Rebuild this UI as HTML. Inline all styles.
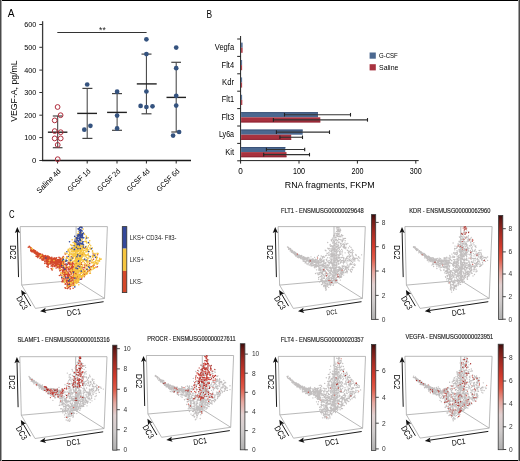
<!DOCTYPE html><html><head><meta charset="utf-8"><style>html,body{margin:0;padding:0;background:#fff;overflow:hidden}svg{display:block;will-change:transform}text{font-family:"Liberation Sans",sans-serif}</style></head><body><svg width="520" height="461" viewBox="0 0 520 461"><rect x="0" y="0" width="520" height="461" fill="#fff"/>
<text x="7.80" y="17.00" font-size="11" textLength="6.8" lengthAdjust="spacingAndGlyphs">A</text>
<line x1="42.60" y1="21.20" x2="42.60" y2="160.60" stroke="#3a3a3a" stroke-width="1.3"/>
<line x1="39.30" y1="160.50" x2="42.60" y2="160.50" stroke="#333" stroke-width="1"/>
<text x="36.30" y="163.20" font-size="7.8" text-anchor="end">0</text>
<line x1="39.30" y1="137.60" x2="42.60" y2="137.60" stroke="#333" stroke-width="1"/>
<text x="36.30" y="140.30" font-size="7.8" text-anchor="end" textLength="12.1" lengthAdjust="spacingAndGlyphs">100</text>
<line x1="39.30" y1="115.20" x2="42.60" y2="115.20" stroke="#333" stroke-width="1"/>
<text x="36.30" y="117.90" font-size="7.8" text-anchor="end" textLength="12.1" lengthAdjust="spacingAndGlyphs">200</text>
<line x1="39.30" y1="92.50" x2="42.60" y2="92.50" stroke="#333" stroke-width="1"/>
<text x="36.30" y="95.20" font-size="7.8" text-anchor="end" textLength="12.1" lengthAdjust="spacingAndGlyphs">300</text>
<line x1="39.30" y1="70.10" x2="42.60" y2="70.10" stroke="#333" stroke-width="1"/>
<text x="36.30" y="72.80" font-size="7.8" text-anchor="end" textLength="12.1" lengthAdjust="spacingAndGlyphs">400</text>
<line x1="39.30" y1="47.30" x2="42.60" y2="47.30" stroke="#333" stroke-width="1"/>
<text x="36.30" y="50.00" font-size="7.8" text-anchor="end" textLength="12.1" lengthAdjust="spacingAndGlyphs">500</text>
<line x1="39.30" y1="24.50" x2="42.60" y2="24.50" stroke="#333" stroke-width="1"/>
<text x="36.30" y="27.20" font-size="7.8" text-anchor="end" textLength="12.1" lengthAdjust="spacingAndGlyphs">600</text>
<line x1="42.00" y1="160.50" x2="191.00" y2="160.50" stroke="#1a1a1a" stroke-width="1.4"/>
<line x1="57.60" y1="160.60" x2="57.60" y2="163.50" stroke="#222" stroke-width="1"/>
<text x="61.30" y="171.80" font-size="7.6" text-anchor="end" transform="rotate(-45 61.30 171.80)" textLength="31" lengthAdjust="spacingAndGlyphs">Saline 4d</text>
<line x1="87.20" y1="160.60" x2="87.20" y2="163.50" stroke="#222" stroke-width="1"/>
<text x="90.90" y="171.80" font-size="7.6" text-anchor="end" transform="rotate(-45 90.90 171.80)" textLength="28.8" lengthAdjust="spacingAndGlyphs">GCSF 1d</text>
<line x1="117.00" y1="160.60" x2="117.00" y2="163.50" stroke="#222" stroke-width="1"/>
<text x="120.70" y="171.80" font-size="7.6" text-anchor="end" transform="rotate(-45 120.70 171.80)" textLength="28.8" lengthAdjust="spacingAndGlyphs">GCSF 2d</text>
<line x1="146.40" y1="160.60" x2="146.40" y2="163.50" stroke="#222" stroke-width="1"/>
<text x="150.10" y="171.80" font-size="7.6" text-anchor="end" transform="rotate(-45 150.10 171.80)" textLength="28.8" lengthAdjust="spacingAndGlyphs">GCSF 4d</text>
<line x1="176.20" y1="160.60" x2="176.20" y2="163.50" stroke="#222" stroke-width="1"/>
<text x="179.90" y="171.80" font-size="7.6" text-anchor="end" transform="rotate(-45 179.90 171.80)" textLength="28.8" lengthAdjust="spacingAndGlyphs">GCSF 6d</text>
<text x="16.90" y="121.80" font-size="9.5" transform="rotate(-90 16.90 121.80)" textLength="61.5" lengthAdjust="spacingAndGlyphs">VEGF-A, pg/mL</text>
<line x1="57.30" y1="32.50" x2="146.60" y2="32.50" stroke="#333" stroke-width="1"/>
<text x="102.40" y="32.90" font-size="8.5" text-anchor="middle" fill="#222">**</text>
<line x1="57.70" y1="116.00" x2="57.70" y2="147.70" stroke="#3a3a3a" stroke-width="1.0"/>
<line x1="47.90" y1="132.20" x2="67.40" y2="132.20" stroke="#222" stroke-width="1.4"/>
<line x1="52.80" y1="116.00" x2="62.50" y2="116.00" stroke="#444" stroke-width="1.2"/>
<line x1="52.80" y1="147.70" x2="62.50" y2="147.70" stroke="#444" stroke-width="1.2"/>
<line x1="87.20" y1="88.40" x2="87.20" y2="138.40" stroke="#3a3a3a" stroke-width="1.0"/>
<line x1="77.20" y1="113.40" x2="97.00" y2="113.40" stroke="#222" stroke-width="1.4"/>
<line x1="82.40" y1="88.40" x2="92.40" y2="88.40" stroke="#444" stroke-width="1.2"/>
<line x1="82.40" y1="138.40" x2="92.40" y2="138.40" stroke="#444" stroke-width="1.2"/>
<line x1="117.10" y1="93.60" x2="117.10" y2="130.30" stroke="#3a3a3a" stroke-width="1.0"/>
<line x1="107.10" y1="112.40" x2="126.90" y2="112.40" stroke="#222" stroke-width="1.4"/>
<line x1="112.00" y1="93.60" x2="122.00" y2="93.60" stroke="#444" stroke-width="1.2"/>
<line x1="112.00" y1="130.30" x2="122.00" y2="130.30" stroke="#444" stroke-width="1.2"/>
<line x1="146.40" y1="54.10" x2="146.40" y2="113.80" stroke="#3a3a3a" stroke-width="1.0"/>
<line x1="136.80" y1="83.90" x2="156.70" y2="83.90" stroke="#222" stroke-width="1.4"/>
<line x1="141.50" y1="54.10" x2="151.50" y2="54.10" stroke="#444" stroke-width="1.2"/>
<line x1="141.50" y1="113.80" x2="151.50" y2="113.80" stroke="#444" stroke-width="1.2"/>
<line x1="176.20" y1="62.30" x2="176.20" y2="132.00" stroke="#3a3a3a" stroke-width="1.0"/>
<line x1="166.50" y1="97.40" x2="186.00" y2="97.40" stroke="#222" stroke-width="1.4"/>
<line x1="171.30" y1="62.30" x2="181.00" y2="62.30" stroke="#444" stroke-width="1.2"/>
<line x1="171.30" y1="132.00" x2="181.00" y2="132.00" stroke="#444" stroke-width="1.2"/>
<circle cx="57.6" cy="107.0" r="2.4" fill="none" stroke="#b02c3c" stroke-width="1"/>
<circle cx="60.6" cy="115.2" r="2.4" fill="none" stroke="#b02c3c" stroke-width="1"/>
<circle cx="54.7" cy="120.4" r="2.4" fill="none" stroke="#b02c3c" stroke-width="1"/>
<circle cx="54.7" cy="131.1" r="2.4" fill="none" stroke="#b02c3c" stroke-width="1"/>
<circle cx="60.7" cy="132.2" r="2.4" fill="none" stroke="#b02c3c" stroke-width="1"/>
<circle cx="54.7" cy="138.4" r="2.4" fill="none" stroke="#b02c3c" stroke-width="1"/>
<circle cx="60.7" cy="138.4" r="2.4" fill="none" stroke="#b02c3c" stroke-width="1"/>
<circle cx="57.7" cy="144.9" r="2.4" fill="none" stroke="#b02c3c" stroke-width="1"/>
<circle cx="57.7" cy="159.2" r="2.4" fill="none" stroke="#b02c3c" stroke-width="1"/>
<circle cx="87.2" cy="84.5" r="2.35" fill="#35537f"/>
<circle cx="90.4" cy="125.8" r="2.35" fill="#35537f"/>
<circle cx="84.3" cy="129.7" r="2.35" fill="#35537f"/>
<circle cx="117.1" cy="91.7" r="2.35" fill="#35537f"/>
<circle cx="117.1" cy="115.6" r="2.35" fill="#35537f"/>
<circle cx="117.1" cy="128.4" r="2.35" fill="#35537f"/>
<circle cx="146.4" cy="39.3" r="2.35" fill="#35537f"/>
<circle cx="146.4" cy="54.1" r="2.35" fill="#35537f"/>
<circle cx="146.4" cy="91.5" r="2.35" fill="#35537f"/>
<circle cx="140.6" cy="105.9" r="2.35" fill="#35537f"/>
<circle cx="146.4" cy="107.0" r="2.35" fill="#35537f"/>
<circle cx="152.5" cy="106.3" r="2.35" fill="#35537f"/>
<circle cx="176.2" cy="47.6" r="2.35" fill="#35537f"/>
<circle cx="176.2" cy="68.2" r="2.35" fill="#35537f"/>
<circle cx="176.2" cy="95.8" r="2.35" fill="#35537f"/>
<circle cx="176.2" cy="105.6" r="2.35" fill="#35537f"/>
<circle cx="179.1" cy="132.0" r="2.35" fill="#35537f"/>
<circle cx="173.1" cy="135.6" r="2.35" fill="#35537f"/>
<text x="206.60" y="17.60" font-size="11" textLength="5.6" lengthAdjust="spacingAndGlyphs">B</text>
<line x1="240.60" y1="36.00" x2="240.60" y2="161.00" stroke="#222" stroke-width="1"/>
<line x1="237.20" y1="39.00" x2="240.60" y2="39.00" stroke="#222" stroke-width="1"/>
<line x1="237.20" y1="56.40" x2="240.60" y2="56.40" stroke="#222" stroke-width="1"/>
<line x1="237.20" y1="73.80" x2="240.60" y2="73.80" stroke="#222" stroke-width="1"/>
<line x1="237.20" y1="91.20" x2="240.60" y2="91.20" stroke="#222" stroke-width="1"/>
<line x1="237.20" y1="108.60" x2="240.60" y2="108.60" stroke="#222" stroke-width="1"/>
<line x1="237.20" y1="126.00" x2="240.60" y2="126.00" stroke="#222" stroke-width="1"/>
<line x1="237.20" y1="143.40" x2="240.60" y2="143.40" stroke="#222" stroke-width="1"/>
<line x1="237.20" y1="160.80" x2="240.60" y2="160.80" stroke="#222" stroke-width="1"/>
<line x1="240.60" y1="160.60" x2="418.70" y2="160.60" stroke="#222" stroke-width="1"/>
<line x1="240.60" y1="160.60" x2="240.60" y2="163.60" stroke="#222" stroke-width="1"/>
<text x="240.60" y="174.40" font-size="8.2" text-anchor="middle">0</text>
<line x1="299.00" y1="160.60" x2="299.00" y2="163.60" stroke="#222" stroke-width="1"/>
<text x="299.00" y="174.40" font-size="8.2" text-anchor="middle" textLength="12.0" lengthAdjust="spacingAndGlyphs">100</text>
<line x1="357.40" y1="160.60" x2="357.40" y2="163.60" stroke="#222" stroke-width="1"/>
<text x="357.40" y="174.40" font-size="8.2" text-anchor="middle" textLength="12.0" lengthAdjust="spacingAndGlyphs">200</text>
<line x1="415.80" y1="160.60" x2="415.80" y2="163.60" stroke="#222" stroke-width="1"/>
<text x="415.80" y="174.40" font-size="8.2" text-anchor="middle" textLength="12.0" lengthAdjust="spacingAndGlyphs">300</text>
<text x="284.80" y="187.90" font-size="9.5" textLength="89.8" lengthAdjust="spacingAndGlyphs">RNA fragments, FKPM</text>
<text x="234.10" y="50.20" font-size="8.2" text-anchor="end" textLength="19.3" lengthAdjust="spacingAndGlyphs">Vegfa</text>
<rect x="241.1" y="42.60" width="1.5" height="5.1" fill="#4b6890"/>
<rect x="241.1" y="47.70" width="1.5" height="5.1" fill="#a8323f"/>
<text x="234.10" y="67.60" font-size="8.2" text-anchor="end" textLength="12.5" lengthAdjust="spacingAndGlyphs">Flt4</text>
<rect x="241.1" y="60.00" width="1.0" height="5.1" fill="#4b6890"/>
<rect x="241.1" y="65.10" width="1.0" height="5.1" fill="#a8323f"/>
<text x="234.10" y="85.00" font-size="8.2" text-anchor="end" textLength="12.0" lengthAdjust="spacingAndGlyphs">Kdr</text>
<rect x="241.1" y="77.40" width="1.0" height="5.1" fill="#4b6890"/>
<rect x="241.1" y="82.50" width="1.0" height="5.1" fill="#a8323f"/>
<text x="234.10" y="102.40" font-size="8.2" text-anchor="end" textLength="12.3" lengthAdjust="spacingAndGlyphs">Flt1</text>
<rect x="241.1" y="94.80" width="1.0" height="5.1" fill="#4b6890"/>
<rect x="241.1" y="99.90" width="1.2" height="5.1" fill="#a8323f"/>
<text x="234.10" y="119.80" font-size="8.2" text-anchor="end" textLength="12.6" lengthAdjust="spacingAndGlyphs">Flt3</text>
<rect x="241.1" y="112.20" width="76.90" height="5.1" fill="#4b6890"/>
<rect x="241.1" y="112.20" width="76.90" height="0.9" fill="#3a5276"/>
<rect x="241.1" y="117.30" width="79.20" height="5.1" fill="#a8323f"/>
<rect x="241.1" y="121.50" width="79.20" height="0.9" fill="#8c2232"/>
<line x1="284.50" y1="114.75" x2="350.50" y2="114.75" stroke="#333" stroke-width="1.1"/>
<line x1="284.50" y1="112.95" x2="284.50" y2="116.55" stroke="#222" stroke-width="1.1"/>
<line x1="350.50" y1="112.95" x2="350.50" y2="116.55" stroke="#222" stroke-width="1.1"/>
<line x1="273.40" y1="119.85" x2="367.50" y2="119.85" stroke="#333" stroke-width="1.1"/>
<line x1="273.40" y1="118.05" x2="273.40" y2="121.65" stroke="#222" stroke-width="1.1"/>
<line x1="367.50" y1="118.05" x2="367.50" y2="121.65" stroke="#222" stroke-width="1.1"/>
<text x="234.10" y="137.20" font-size="8.2" text-anchor="end" textLength="15.2" lengthAdjust="spacingAndGlyphs">Ly6a</text>
<rect x="241.1" y="129.60" width="61.60" height="5.1" fill="#4b6890"/>
<rect x="241.1" y="129.60" width="61.60" height="0.9" fill="#3a5276"/>
<rect x="241.1" y="134.70" width="50.10" height="5.1" fill="#a8323f"/>
<rect x="241.1" y="138.90" width="50.10" height="0.9" fill="#8c2232"/>
<line x1="276.40" y1="132.15" x2="329.50" y2="132.15" stroke="#333" stroke-width="1.1"/>
<line x1="276.40" y1="130.35" x2="276.40" y2="133.95" stroke="#222" stroke-width="1.1"/>
<line x1="329.50" y1="130.35" x2="329.50" y2="133.95" stroke="#222" stroke-width="1.1"/>
<line x1="279.90" y1="137.25" x2="302.50" y2="137.25" stroke="#333" stroke-width="1.1"/>
<line x1="279.90" y1="135.45" x2="279.90" y2="139.05" stroke="#222" stroke-width="1.1"/>
<line x1="302.50" y1="135.45" x2="302.50" y2="139.05" stroke="#222" stroke-width="1.1"/>
<text x="234.10" y="154.60" font-size="8.2" text-anchor="end" textLength="8.9" lengthAdjust="spacingAndGlyphs">Kit</text>
<rect x="241.1" y="147.00" width="44.20" height="5.1" fill="#4b6890"/>
<rect x="241.1" y="147.00" width="44.20" height="0.9" fill="#3a5276"/>
<rect x="241.1" y="152.10" width="45.40" height="5.1" fill="#a8323f"/>
<rect x="241.1" y="156.30" width="45.40" height="0.9" fill="#8c2232"/>
<line x1="266.40" y1="149.55" x2="304.70" y2="149.55" stroke="#333" stroke-width="1.1"/>
<line x1="266.40" y1="147.75" x2="266.40" y2="151.35" stroke="#222" stroke-width="1.1"/>
<line x1="304.70" y1="147.75" x2="304.70" y2="151.35" stroke="#222" stroke-width="1.1"/>
<line x1="263.70" y1="154.65" x2="309.50" y2="154.65" stroke="#333" stroke-width="1.1"/>
<line x1="263.70" y1="152.85" x2="263.70" y2="156.45" stroke="#222" stroke-width="1.1"/>
<line x1="309.50" y1="152.85" x2="309.50" y2="156.45" stroke="#222" stroke-width="1.1"/>
<rect x="369.6" y="52.5" width="6.2" height="6.2" fill="#4b6890"/>
<rect x="369.6" y="64.2" width="6.2" height="6.2" fill="#a8323f"/>
<text x="379.00" y="58.30" font-size="7.8" textLength="18.8" lengthAdjust="spacingAndGlyphs">G-CSF</text>
<text x="379.00" y="69.90" font-size="7.8" textLength="19.4" lengthAdjust="spacingAndGlyphs">Saline</text>
<text x="9.00" y="218.20" font-size="11" textLength="5.6" lengthAdjust="spacingAndGlyphs">C</text>
<defs><linearGradient id="cm" x1="0" y1="1" x2="0" y2="0"><stop offset="0" stop-color="#b0b0b0"/><stop offset="0.18" stop-color="#d0cccc"/><stop offset="0.33" stop-color="#e2d2d2"/><stop offset="0.45" stop-color="#e6a8a0"/><stop offset="0.58" stop-color="#e05a48"/><stop offset="0.7" stop-color="#d23a2c"/><stop offset="0.84" stop-color="#a02a22"/><stop offset="0.95" stop-color="#6a1a16"/><stop offset="1" stop-color="#3a0c0c"/></linearGradient></defs>
<line x1="20.20" y1="226.60" x2="107.40" y2="226.60" stroke="#a2a2a2" stroke-width="0.75"/>
<line x1="20.20" y1="226.60" x2="21.70" y2="285.10" stroke="#a2a2a2" stroke-width="0.75"/>
<line x1="76.10" y1="226.60" x2="76.10" y2="280.30" stroke="#a2a2a2" stroke-width="0.75"/>
<line x1="107.40" y1="226.60" x2="104.50" y2="298.40" stroke="#a2a2a2" stroke-width="0.75"/>
<line x1="21.70" y1="285.10" x2="75.90" y2="280.30" stroke="#a2a2a2" stroke-width="0.75"/>
<line x1="75.90" y1="280.30" x2="104.50" y2="298.40" stroke="#a2a2a2" stroke-width="0.75"/>
<line x1="21.70" y1="285.10" x2="35.40" y2="308.40" stroke="#a2a2a2" stroke-width="0.75"/>
<line x1="35.40" y1="308.40" x2="104.50" y2="298.40" stroke="#a2a2a2" stroke-width="0.75"/>
<line x1="18.50" y1="277.10" x2="17.41" y2="231.50" stroke="#1a1a1a" stroke-width="1.0"/>
<path d="M17.30 227.00L20.04 232.94L17.41 231.70L14.84 233.06Z" fill="#111"/>
<line x1="30.70" y1="306.10" x2="23.48" y2="293.78" stroke="#1a1a1a" stroke-width="1.0"/>
<path d="M21.20 289.90L26.48 293.76L23.58 293.95L21.99 296.39Z" fill="#111"/>
<line x1="103.60" y1="301.70" x2="44.55" y2="310.53" stroke="#1a1a1a" stroke-width="1.0"/>
<path d="M40.10 311.20L45.65 307.74L44.75 310.50L46.42 312.88Z" fill="#111"/>
<text x="9.55" y="252.30" font-size="8.2" text-anchor="middle" transform="rotate(90 9.55 252.30)" textLength="14.1" lengthAdjust="spacingAndGlyphs">DC2</text>
<text x="19.61" y="304.36" font-size="8.4" text-anchor="middle" transform="rotate(59 19.61 304.36)" textLength="14.3" lengthAdjust="spacingAndGlyphs">DC3</text>
<text x="74.34" y="314.95" font-size="8.0" text-anchor="middle" transform="rotate(-8.7 74.34 314.95)" textLength="14.1" lengthAdjust="spacingAndGlyphs">DC1</text>
<path d="M83.7 269.8h0M74.2 272.8h0M48.4 257.9h0M83.5 275.1h0M50.4 261.6h0M68.5 274.7h0M59.0 259.8h0M75.0 265.1h0M42.3 256.9h0M66.6 273.8h0M87.3 272.5h0M84.8 266.0h0M34.8 251.9h0M44.2 257.6h0M32.1 252.0h0M72.1 276.4h0M65.1 276.9h0M51.7 260.8h0M52.0 265.4h0M75.6 265.8h0M33.5 251.7h0M51.0 259.3h0M40.9 257.3h0M41.7 257.5h0M56.7 262.5h0M66.7 280.3h0M78.4 277.6h0M65.7 288.2h0M83.8 272.0h0M34.0 251.9h0M51.0 258.5h0M69.9 274.9h0M74.1 282.2h0M37.0 252.1h0M83.7 271.7h0M70.2 284.8h0M62.4 257.7h0M77.1 261.6h0M72.2 264.5h0M64.8 273.2h0M38.9 255.0h0M69.8 284.4h0M49.0 261.6h0M89.5 269.5h0M51.8 262.2h0M73.9 263.9h0M51.0 261.8h0M36.2 254.4h0M92.7 266.1h0M34.2 251.2h0M45.1 258.1h0M73.1 288.3h0M81.6 262.7h0M39.0 254.7h0M78.3 279.1h0M64.8 264.4h0M43.1 260.2h0M31.1 247.9h0M55.5 262.9h0M82.0 246.6h0M40.7 256.1h0M58.7 267.0h0M41.7 256.1h0M34.8 251.2h0M59.3 264.3h0M47.4 262.9h0M63.2 256.6h0M57.5 267.4h0M57.7 263.4h0M77.9 282.4h0M57.4 265.4h0M52.2 264.6h0M34.2 250.4h0M78.0 278.9h0M46.5 256.5h0M94.1 265.1h0M67.9 282.7h0M50.0 262.7h0M73.2 277.0h0M43.3 259.1h0M56.2 261.5h0M50.1 263.4h0M73.3 285.2h0M71.0 263.9h0M52.1 269.9h0M39.4 254.6h0M50.8 258.5h0M59.5 261.7h0M74.3 281.6h0M46.8 260.9h0M65.0 270.8h0M30.4 247.3h0M68.3 285.2h0M32.6 251.0h0M81.4 276.1h0M75.6 264.0h0M69.0 274.4h0M71.5 264.3h0M67.9 280.9h0M79.9 270.6h0M45.7 256.6h0M60.5 264.5h0M65.9 276.7h0M68.5 277.2h0M54.9 257.7h0M39.4 253.5h0M72.4 277.7h0M72.5 268.9h0M47.8 257.2h0M71.7 276.9h0M47.6 259.0h0M60.7 265.5h0M62.2 261.4h0M68.3 270.0h0M56.4 261.6h0M68.9 269.1h0M71.4 256.7h0M42.0 255.8h0M71.2 284.8h0M72.3 282.4h0M80.6 249.9h0M50.3 257.9h0M73.0 254.4h0M50.2 257.7h0M70.9 269.6h0M51.5 262.0h0M62.2 267.6h0M60.8 262.4h0M71.3 280.0h0M57.6 261.2h0M64.5 277.2h0M50.4 259.7h0M36.6 253.0h0M44.2 256.4h0M74.1 268.5h0M39.5 254.7h0M69.7 264.8h0M46.9 266.5h0M73.2 278.4h0M47.7 260.1h0M49.9 263.4h0M69.8 281.3h0M59.1 268.8h0M56.1 268.0h0M65.3 268.5h0M60.8 274.3h0M48.0 264.9h0M65.0 279.2h0M50.6 260.5h0M40.7 255.1h0M60.2 262.5h0M56.7 257.8h0M30.5 247.8h0M31.6 249.7h0M52.1 264.7h0M53.1 261.8h0M62.0 260.0h0M50.8 261.3h0M74.6 267.5h0M54.2 265.3h0M84.6 267.6h0M63.6 269.1h0M59.9 260.7h0M57.3 266.5h0M70.1 276.2h0M58.8 259.6h0M53.5 262.0h0M91.0 266.5h0M76.4 281.4h0M64.6 282.5h0M45.6 255.6h0M52.2 270.0h0M49.1 260.3h0M61.1 259.7h0M65.2 254.1h0M62.9 258.3h0M65.2 270.5h0M35.7 252.3h0M73.5 279.4h0M46.6 261.3h0M72.8 279.7h0M67.2 285.2h0M40.7 254.2h0M64.8 275.5h0M74.5 271.6h0M57.0 264.8h0M40.8 255.6h0M47.8 257.6h0M60.6 265.1h0M48.7 257.6h0M55.2 265.2h0M48.2 267.3h0M76.0 273.3h0M75.0 275.4h0M52.8 261.0h0M63.8 262.8h0M55.1 260.7h0M47.5 260.0h0M72.7 283.5h0M55.0 262.6h0M77.5 263.5h0M56.0 261.0h0M73.9 271.8h0M38.9 256.2h0M62.6 270.4h0M79.3 264.3h0M78.3 264.9h0M41.5 256.6h0M63.5 265.5h0M76.7 276.9h0M71.2 281.6h0M73.0 285.1h0M79.4 263.5h0M60.3 264.3h0M45.9 257.7h0M31.0 249.2h0M44.1 259.6h0M50.5 259.3h0M75.2 280.5h0M46.6 259.4h0M36.7 253.3h0M52.1 260.4h0M52.0 261.9h0M62.4 266.5h0M46.2 258.4h0M76.4 282.6h0M65.1 267.4h0M61.5 265.9h0M42.1 254.3h0M38.8 253.7h0M63.7 272.9h0M29.3 246.3h0M68.3 279.1h0M87.3 268.9h0M47.8 262.1h0M43.6 257.3h0M65.6 274.7h0M91.9 262.2h0M65.2 284.2h0M72.0 277.3h0M50.6 261.8h0M74.2 267.7h0M48.5 261.7h0M40.4 255.2h0M44.9 258.1h0M93.3 266.2h0M39.3 253.7h0M70.2 271.2h0M72.4 267.8h0M62.8 266.8h0M56.5 262.2h0M60.4 258.9h0M48.4 260.7h0M52.5 261.6h0M58.8 264.0h0M55.1 263.4h0M43.9 258.1h0M52.7 263.0h0M60.5 265.3h0M43.6 259.7h0M59.3 265.5h0M71.2 272.5h0M71.7 269.9h0M53.1 264.3h0M49.8 260.1h0M44.6 256.2h0M68.1 274.7h0M76.1 276.6h0M73.5 283.8h0M61.8 263.4h0M62.6 259.2h0M51.9 259.7h0M71.3 264.7h0M39.9 254.5h0M67.3 267.4h0M55.0 260.2h0M66.0 280.9h0M48.8 260.5h0M79.6 264.6h0M75.6 281.8h0M61.5 259.1h0M96.2 257.5h0M69.0 274.7h0M60.3 263.2h0M70.5 281.4h0M78.2 271.2h0M72.2 271.0h0M71.0 279.3h0M33.4 250.3h0M76.2 263.2h0M54.4 265.4h0M51.1 260.0h0M73.4 277.0h0M55.9 263.0h0M50.3 259.9h0M72.9 271.6h0M64.6 274.2h0M64.3 273.6h0M64.9 275.7h0M81.5 272.2h0M57.8 265.0h0M42.1 257.5h0M69.1 279.7h0M81.8 277.9h0M75.0 274.4h0M78.9 255.8h0M63.3 270.2h0M55.6 258.9h0M57.7 265.6h0M46.1 256.1h0M55.0 265.6h0M50.2 258.8h0M66.0 268.2h0M53.1 260.6h0M37.4 252.9h0M33.8 251.7h0M74.5 264.8h0M37.4 253.4h0M44.6 257.7h0M53.5 264.4h0M30.8 248.3h0M31.0 248.0h0M83.4 274.7h0M63.1 259.3h0M59.2 262.5h0M68.0 284.9h0M65.9 272.0h0M73.9 277.6h0M41.7 259.1h0M77.6 275.4h0M53.8 260.0h0M90.0 269.6h0M74.5 278.0h0M73.6 274.9h0M49.9 258.8h0M69.5 281.4h0M53.4 259.9h0M37.9 257.6h0M60.3 264.1h0M81.4 267.0h0M40.2 255.6h0M57.9 265.8h0M60.3 268.9h0M67.0 272.5h0M80.0 271.1h0M65.0 287.8h0M86.9 272.5h0M72.4 266.7h0M71.7 279.9h0M70.1 272.0h0M39.8 255.6h0M74.1 267.3h0M40.5 256.8h0M67.2 286.3h0M60.8 269.5h0M48.3 258.5h0M70.4 274.2h0M69.5 275.3h0M48.7 262.5h0M41.1 256.3h0M54.7 258.3h0M74.0 278.3h0M32.0 249.9h0M46.6 262.9h0M75.9 270.7h0M78.4 265.8h0M63.7 261.6h0M38.5 253.6h0M77.8 272.3h0M41.3 256.6h0M33.7 250.7h0M79.9 274.5h0M66.7 280.0h0M66.4 272.5h0M69.4 263.3h0M46.3 261.3h0M64.4 279.9h0M68.5 282.1h0M77.5 268.8h0M55.5 265.9h0M89.9 269.6h0M49.4 257.3h0M35.8 251.9h0M60.4 260.0h0M72.7 271.3h0M32.1 250.0h0M61.2 267.2h0M63.0 267.8h0M72.8 270.7h0M44.0 259.1h0M63.6 261.4h0M37.7 256.8h0M53.7 264.4h0M53.7 260.0h0M70.4 270.8h0M47.2 260.1h0M59.4 275.5h0M69.5 283.4h0M68.9 267.3h0M71.5 266.3h0M49.5 260.5h0M51.8 265.6h0M43.4 258.2h0M84.5 248.2h0M86.3 265.0h0M72.9 270.7h0M75.7 274.7h0M48.5 263.6h0M41.8 257.6h0M66.2 267.7h0M30.9 247.9h0M45.1 263.0h0M58.3 264.6h0M73.1 270.4h0M67.8 275.8h0M64.3 269.3h0M44.8 263.5h0M62.5 271.5h0M49.2 256.8h0M66.7 282.2h0M48.3 261.3h0M40.8 257.4h0M63.0 281.1h0M51.1 266.1h0M62.1 264.8h0M53.8 264.4h0M54.5 266.4h0M81.7 254.6h0M69.2 266.7h0M69.9 264.4h0M71.5 274.5h0M61.3 263.0h0M43.2 257.0h0M75.7 263.6h0M74.9 281.6h0M35.5 250.8h0M67.7 277.3h0M81.3 264.5h0M45.0 255.8h0M47.4 258.9h0M65.8 267.9h0M31.4 249.0h0M67.5 280.6h0M50.4 262.2h0M69.5 286.4h0M93.2 253.9h0M68.0 276.7h0M57.0 264.4h0M61.3 265.6h0M40.3 254.7h0M44.1 258.0h0M66.4 270.7h0M30.7 250.3h0M56.3 262.0h0M46.1 258.1h0M54.3 266.2h0M57.8 259.9h0M52.2 258.9h0M53.2 262.1h0M87.8 271.1h0M63.4 261.5h0M31.4 251.2h0M81.5 279.2h0M69.9 285.7h0M61.9 278.7h0M54.4 258.2h0M40.5 255.6h0M75.7 258.1h0M61.1 266.9h0M66.7 267.4h0M70.2 288.9h0M75.4 276.0h0M34.8 253.0h0M76.8 274.2h0M74.7 274.4h0M63.3 267.7h0M48.2 261.8h0M62.4 281.0h0M40.1 254.8h0M63.7 261.4h0M72.5 263.8h0M76.8 271.8h0M41.6 254.6h0M44.3 257.6h0M67.4 264.6h0M45.6 258.1h0M77.7 261.5h0M70.6 286.5h0M62.0 264.5h0M73.9 281.9h0M58.2 261.1h0M73.7 273.2h0M73.3 279.1h0M45.7 257.3h0M51.3 260.3h0M72.7 277.7h0M50.5 264.0h0M60.7 266.8h0M52.8 261.6h0M57.2 262.9h0M70.3 285.2h0M31.2 248.8h0M76.2 280.0h0M69.5 276.0h0M59.5 266.3h0M63.7 274.8h0M70.9 265.8h0M40.3 258.0h0M37.5 254.1h0M51.8 257.4h0M48.3 260.0h0M62.8 273.7h0M62.5 266.9h0M62.4 267.3h0M89.7 263.7h0M68.3 262.3h0M78.1 274.7h0M87.7 271.7h0M37.0 256.6h0M75.5 274.8h0M66.3 281.6h0M93.9 267.9h0M71.7 270.1h0M63.0 271.5h0M55.6 261.8h0M79.0 275.0h0M70.6 285.9h0M64.0 276.9h0M67.7 283.1h0M64.3 268.5h0M59.5 266.6h0M54.1 258.9h0M49.2 259.6h0M71.0 278.1h0M68.4 284.8h0M28.3 247.2h0M61.4 260.7h0M64.9 271.9h0M83.2 272.0h0M91.5 266.7h0M70.7 278.7h0M68.5 269.4h0M71.9 285.3h0M95.9 267.3h0M62.7 280.2h0M93.5 259.3h0M70.4 261.9h0M58.2 260.6h0M57.4 267.5h0M61.9 264.8h0M61.5 261.8h0M75.5 265.8h0M71.0 268.5h0M48.1 257.5h0M40.3 255.4h0M65.3 264.1h0M65.4 274.0h0M36.8 254.4h0M68.1 272.8h0M68.1 283.0h0M52.5 260.8h0M54.5 265.9h0M42.3 258.2h0M47.3 258.3h0M61.1 264.7h0M53.5 264.7h0M76.6 256.3h0M45.8 258.6h0M70.1 271.8h0M50.4 263.3h0M60.0 258.2h0M42.2 256.1h0M89.7 263.3h0M42.9 255.0h0M40.0 258.5h0M57.8 261.6h0M59.0 257.4h0M63.5 266.0h0M36.1 256.3h0M76.6 270.6h0M57.3 260.2h0M57.4 259.8h0M55.8 260.4h0M77.0 266.6h0M50.8 260.9h0M31.2 248.1h0M69.7 269.7h0M72.8 280.1h0M84.2 276.8h0M59.7 270.8h0M45.1 258.0h0M86.1 273.6h0M68.0 271.9h0M43.8 258.5h0M54.4 260.9h0M48.2 262.8h0M49.3 258.0h0M52.5 264.4h0M44.8 261.4h0M45.8 260.0h0M57.1 263.6h0M50.0 260.8h0M51.5 259.9h0M62.5 272.6h0M68.1 272.3h0M87.0 265.9h0M68.3 280.9h0M56.5 261.1h0M82.5 254.6h0M44.0 257.7h0M63.4 261.6h0M40.3 257.4h0M54.2 259.6h0M52.0 260.3h0M60.6 261.0h0M48.2 259.9h0M48.5 261.3h0M73.7 281.6h0M41.5 254.8h0M83.8 270.3h0M46.7 256.8h0M33.2 251.4h0M55.2 260.2h0M61.6 266.2h0M79.6 277.6h0M48.6 263.6h0M75.6 271.8h0M44.1 255.9h0M49.7 262.1h0M42.6 256.3h0M34.4 253.1h0M62.0 260.8h0M83.9 273.8h0M33.8 249.8h0M45.6 258.4h0M42.1 260.1h0M71.4 265.5h0M51.4 263.0h0M68.2 279.4h0M34.6 250.8h0M75.7 275.0h0M46.9 264.1h0M84.9 271.3h0M46.0 259.6h0M47.1 259.8h0M68.4 273.4h0M72.7 265.5h0M67.8 276.6h0M49.9 260.0h0M71.6 271.8h0M41.3 256.4h0M53.3 258.4h0M51.4 259.3h0M91.7 266.8h0M74.2 271.3h0M57.9 264.2h0M69.5 277.8h0M90.7 269.4h0M61.0 264.3h0M36.4 254.2h0M55.7 265.6h0M55.7 264.9h0M58.0 264.2h0M66.3 274.4h0M47.2 264.2h0M68.2 262.6h0M82.7 275.0h0M62.7 264.6h0M52.9 264.9h0M52.7 266.7h0M97.4 266.8h0M47.4 264.7h0M74.0 270.5h0M42.8 258.6h0M38.4 254.5h0M53.9 262.7h0M42.7 259.9h0M46.3 258.9h0M61.9 265.8h0M70.0 262.0h0M73.6 282.7h0M75.9 280.0h0M74.3 268.1h0M40.6 254.5h0M69.8 274.3h0M63.3 270.8h0M40.7 255.0h0M38.9 254.6h0M47.8 259.2h0M67.0 274.1h0M61.8 261.6h0M72.2 270.7h0M68.1 269.1h0M84.5 265.0h0M66.2 269.3h0M41.7 256.1h0M62.5 266.0h0M76.6 261.9h0M62.4 261.9h0M71.7 273.4h0M82.2 267.9h0M74.4 268.0h0M63.5 257.1h0M30.0 247.6h0M37.8 252.5h0M54.5 258.9h0M55.5 261.0h0M65.6 283.9h0M58.6 266.2h0M96.2 262.8h0M59.1 259.8h0M46.5 258.1h0M66.4 265.8h0M62.1 259.9h0M35.5 252.4h0M35.9 253.9h0M73.7 277.8h0M31.7 249.7h0M79.8 264.3h0M63.3 265.3h0M77.0 266.0h0M63.9 276.9h0M57.9 261.1h0M57.1 261.5h0M39.8 255.5h0M48.1 265.8h0M61.9 262.7h0M55.9 260.8h0M53.6 261.0h0M68.1 276.5h0M70.2 270.6h0M78.4 274.9h0M50.4 259.1h0M67.4 288.4h0M84.9 274.6h0M97.0 263.7h0M61.2 261.0h0M65.4 264.8h0M67.2 275.0h0M64.5 276.0h0M63.4 261.9h0M60.3 270.6h0M56.2 260.3h0M63.0 281.8h0M90.1 273.2h0M46.6 263.8h0M76.2 270.8h0M71.2 278.6h0M56.3 258.6h0M72.6 262.9h0M75.3 272.6h0M36.1 253.0h0M48.8 264.5h0M35.2 251.9h0M43.7 256.8h0M58.1 261.8h0M69.0 267.8h0M74.9 251.0h0M83.8 267.7h0M37.8 255.4h0M59.3 260.7h0M78.1 265.6h0M69.6 263.0h0M50.9 261.5h0M69.6 275.3h0M54.2 263.3h0M70.3 282.8h0M58.7 266.0h0M73.4 279.5h0M38.5 254.5h0M51.3 263.2h0M38.4 254.1h0M33.5 251.2h0M66.7 257.0h0M60.1 258.1h0M54.7 262.9h0M67.8 288.4h0M57.3 264.3h0M46.0 257.8h0M40.3 255.9h0M51.2 268.6h0M33.2 250.5h0M58.3 262.8h0M76.1 269.4h0M71.6 276.9h0M61.9 281.7h0M79.4 277.1h0M62.3 270.0h0M54.9 259.4h0M79.0 277.8h0M72.9 262.1h0M78.7 274.4h0M73.4 275.7h0M68.5 278.4h0M30.8 250.9h0M47.9 255.9h0M65.0 269.5h0M51.5 262.7h0M60.7 270.0h0M74.1 270.2h0M38.0 255.3h0M67.1 284.1h0M62.1 277.5h0M71.1 267.6h0M73.2 266.6h0M54.8 262.4h0M56.0 265.8h0M39.2 254.8h0M63.5 278.8h0M49.6 258.3h0M87.0 261.6h0M68.3 275.0h0M62.2 264.0h0M69.8 271.8h0M55.2 262.6h0M64.9 270.4h0M62.5 260.8h0M68.2 263.8h0M89.4 270.4h0M40.2 255.1h0M34.3 251.1h0M45.1 257.9h0M59.7 267.7h0M62.0 266.8h0M73.8 277.9h0M68.9 287.2h0M65.9 271.7h0M44.7 261.3h0M54.4 259.3h0M97.5 254.7h0M60.7 262.8h0M61.4 260.0h0M76.4 278.4h0M71.0 274.0h0M40.2 253.8h0M55.7 263.9h0M63.3 258.5h0M40.7 255.6h0M55.4 263.5h0M81.2 263.7h0M77.5 276.2h0M33.8 252.2h0M86.6 261.6h0M81.5 257.2h0M40.7 255.4h0M46.3 257.9h0M63.6 272.3h0M61.1 275.5h0M66.9 278.5h0M73.7 272.7h0M33.6 250.0h0M63.3 263.9h0M34.8 250.9h0M56.3 262.0h0M73.8 277.2h0M57.8 266.6h0M68.2 269.1h0M65.2 278.3h0M46.6 260.0h0M70.5 268.6h0M40.4 255.4h0M49.8 257.3h0M77.5 277.3h0M90.8 269.3h0M38.0 254.2h0M71.9 283.1h0M70.1 276.4h0M61.3 265.8h0M51.3 262.1h0M55.9 263.6h0M32.5 249.3h0M75.4 277.7h0M68.2 287.4h0M78.4 276.0h0M63.4 264.3h0" stroke="#d4482a" stroke-width="1.6" stroke-linecap="round" fill="none"/>
<path d="M75.7 260.1h0M79.1 263.8h0M88.0 261.1h0M77.0 250.1h0M75.3 246.9h0M72.5 249.3h0M76.3 256.1h0M80.6 235.9h0M73.1 242.6h0M88.4 264.5h0M70.7 283.1h0M89.2 251.5h0M78.2 246.0h0M73.6 270.5h0M87.3 269.6h0M79.5 241.2h0M65.2 266.9h0M82.4 266.3h0M87.4 251.1h0M78.7 247.1h0M77.1 279.5h0M84.6 234.2h0M78.5 268.5h0M79.5 243.7h0M86.7 249.0h0M78.7 259.6h0M89.8 256.0h0M79.7 249.1h0M79.1 251.8h0M75.4 276.4h0M70.4 282.6h0M82.6 266.5h0M77.3 252.0h0M75.3 250.6h0M76.9 247.7h0M87.4 273.8h0M80.3 233.7h0M81.6 250.5h0M77.3 271.2h0M78.4 265.9h0M81.8 255.8h0M87.6 266.5h0M76.3 251.1h0M80.6 273.2h0M75.5 255.3h0M74.6 280.7h0M76.2 251.8h0M69.8 260.1h0M80.6 260.7h0M77.9 257.8h0M73.4 261.3h0M85.6 260.6h0M83.4 275.7h0M77.9 233.7h0M81.2 256.5h0M76.0 248.7h0M77.4 247.2h0M99.7 258.4h0M76.9 250.3h0M71.3 285.1h0M68.8 249.7h0M82.7 270.0h0M78.7 249.7h0M96.8 258.1h0M78.4 255.6h0M75.3 274.8h0M79.2 263.7h0M78.0 248.2h0M75.1 280.1h0M78.3 280.2h0M80.3 257.1h0M82.3 245.4h0M73.9 275.7h0M60.7 273.0h0M80.1 245.8h0M71.5 271.4h0M77.3 261.5h0M78.4 260.5h0M70.0 248.2h0M70.8 244.8h0M76.5 244.1h0M90.9 261.0h0M76.4 276.5h0M84.1 260.8h0M84.8 266.1h0M92.2 247.9h0M80.1 258.1h0M77.0 260.8h0M75.9 272.0h0M89.2 269.2h0M72.2 248.8h0M76.2 276.7h0M92.4 255.7h0M77.1 248.7h0M75.8 275.8h0M89.7 244.3h0M76.9 256.5h0M81.0 246.1h0M42.1 257.8h0M92.5 260.4h0M88.2 255.4h0M95.3 267.5h0M81.3 277.2h0M77.4 235.6h0M60.5 269.2h0M74.9 285.4h0M74.5 274.5h0M84.8 241.5h0M78.3 258.9h0M78.4 270.5h0M82.3 239.8h0M73.0 254.5h0M71.7 259.8h0M78.7 248.3h0M80.0 238.3h0M71.6 254.2h0M85.2 247.9h0M94.4 268.2h0M80.1 265.2h0M72.0 283.1h0M82.0 269.7h0M74.9 250.6h0M71.0 265.4h0M76.6 265.9h0M62.8 260.5h0M78.4 253.8h0M74.3 268.6h0M79.7 246.5h0M86.4 241.4h0M62.4 277.3h0M79.5 268.3h0M78.5 250.8h0M75.9 257.9h0M72.4 276.4h0M80.6 269.1h0M75.7 251.9h0M88.7 266.5h0M83.0 246.8h0M87.3 272.4h0M78.3 264.6h0M80.5 258.1h0M82.3 245.8h0M64.6 277.3h0M92.5 266.7h0M73.2 250.3h0M83.3 248.8h0M79.8 241.7h0M77.9 271.1h0M81.4 277.0h0M80.5 261.7h0M77.1 274.4h0M87.6 259.2h0M72.8 256.2h0M74.4 284.9h0M67.0 253.3h0M90.7 245.8h0M69.7 253.1h0M79.2 261.3h0M82.1 253.3h0M87.6 258.2h0M77.8 260.0h0M65.0 253.0h0M67.4 257.9h0M66.8 272.9h0M81.4 276.0h0M85.8 249.9h0M49.0 262.8h0M83.0 246.7h0M83.3 271.2h0M88.5 245.8h0M85.9 251.9h0M87.8 260.8h0M79.7 246.6h0M82.8 274.2h0M74.9 266.3h0M95.2 254.6h0M97.1 253.4h0M60.9 272.9h0M74.5 261.1h0M74.4 276.4h0M87.3 261.2h0M87.7 250.1h0M78.2 248.4h0M80.8 251.1h0M77.0 278.0h0M73.1 257.8h0M80.4 267.3h0M77.1 254.2h0M91.7 269.7h0M72.0 270.2h0M75.2 259.9h0M72.7 285.8h0M72.2 239.8h0M66.8 253.8h0M79.7 253.6h0M97.4 257.2h0M76.6 267.9h0M52.8 268.8h0M82.4 252.6h0M92.3 257.0h0M78.4 272.0h0M83.6 245.8h0M58.1 265.7h0M76.6 258.0h0M90.4 273.3h0M86.2 236.1h0M82.0 271.7h0M76.6 281.1h0M70.6 270.2h0M89.4 266.3h0M86.9 261.4h0M79.2 279.7h0M80.0 253.6h0M82.0 257.4h0M77.3 264.9h0M88.4 255.7h0M96.4 258.7h0M88.3 237.8h0M78.8 253.8h0M75.6 247.5h0M78.7 253.9h0M74.3 247.4h0M75.4 253.9h0M71.6 245.6h0M85.7 272.3h0M80.5 272.8h0M92.3 256.7h0M70.4 259.1h0M77.9 249.9h0M82.5 246.7h0M78.2 275.9h0M83.3 274.8h0M86.6 274.2h0M78.3 277.7h0M70.5 257.0h0M69.0 259.1h0M96.1 256.6h0M98.0 261.3h0M68.2 250.2h0M79.5 245.0h0M99.5 259.7h0M79.6 246.0h0M78.8 280.7h0M78.2 247.4h0M77.3 254.9h0M63.3 258.2h0M73.1 258.5h0M71.0 259.7h0M75.8 251.1h0M95.3 255.3h0M81.6 258.1h0M77.3 250.7h0M77.3 257.2h0M77.9 259.4h0M66.3 272.8h0M95.5 262.3h0M69.0 260.9h0M62.8 264.6h0M84.9 258.3h0M75.1 270.2h0M96.2 263.6h0M77.7 235.9h0M81.0 238.6h0M68.4 282.6h0M77.8 240.6h0M73.1 253.8h0M81.2 268.6h0M77.5 264.3h0M99.4 260.4h0M76.5 258.0h0M80.7 259.8h0M69.0 250.9h0M85.0 256.3h0M77.8 250.6h0M74.5 267.0h0M75.5 269.0h0M92.6 251.1h0M90.6 268.3h0M82.5 275.9h0M69.6 278.7h0M61.7 273.0h0M78.2 259.5h0M74.9 241.8h0M68.0 250.4h0M75.7 261.6h0M74.5 269.6h0M96.4 260.0h0M93.4 264.1h0M49.4 260.8h0M79.7 248.9h0M74.0 248.8h0M80.4 257.1h0M49.9 260.0h0M76.5 270.6h0M76.5 250.8h0M80.0 259.2h0M78.5 279.5h0M74.8 274.4h0M80.8 247.1h0M76.8 258.4h0M65.4 281.3h0M80.8 243.9h0M61.8 260.1h0M89.0 265.2h0M69.5 254.3h0M84.3 272.9h0M76.3 260.4h0M74.9 272.5h0M73.6 256.0h0M78.2 249.5h0M73.6 251.9h0M74.9 256.3h0M64.3 282.4h0M77.7 263.5h0M70.6 249.5h0M96.9 257.6h0M77.6 273.0h0M75.4 245.1h0M86.1 246.4h0M70.9 274.2h0M40.2 255.9h0M62.7 263.1h0M77.8 261.6h0M77.4 253.6h0M86.8 260.9h0M86.7 249.6h0M77.8 264.9h0M84.3 254.5h0M96.7 262.7h0M76.2 283.5h0M81.1 270.4h0M81.1 254.4h0M75.8 270.0h0M75.5 244.2h0M70.6 249.5h0M98.1 263.1h0M83.0 261.4h0M81.9 266.5h0M92.8 255.6h0M73.4 254.8h0M75.0 262.3h0M80.2 253.7h0M79.3 252.3h0M78.9 274.9h0M75.4 281.2h0M87.0 260.9h0M96.1 262.3h0M54.0 260.6h0M86.4 236.9h0M78.7 278.2h0M81.1 263.3h0M69.5 255.3h0M83.5 261.2h0M91.5 262.7h0M85.8 238.9h0M74.6 277.7h0M71.2 262.4h0M68.5 285.7h0M63.5 257.7h0M74.7 266.6h0M76.4 254.3h0M87.1 251.6h0M75.1 265.4h0M78.0 251.1h0M74.5 260.5h0M93.8 268.0h0M82.7 252.6h0M76.1 259.2h0M81.1 267.7h0M88.3 253.7h0M87.8 250.8h0M74.3 273.1h0M74.8 276.1h0M74.7 248.7h0M87.2 273.0h0M101.2 259.1h0M78.5 276.6h0M67.0 257.5h0M75.4 250.3h0M79.7 261.6h0M83.1 229.1h0M79.7 247.3h0M74.8 270.8h0M78.8 284.8h0M82.2 277.0h0M71.2 269.8h0M70.5 259.1h0M88.8 271.4h0M92.4 257.1h0M77.7 248.7h0M86.0 255.9h0M31.4 248.1h0M84.5 253.2h0M75.0 243.5h0M75.3 244.3h0M59.9 269.3h0M80.6 272.6h0M86.3 248.5h0M79.7 271.1h0M71.2 253.6h0M79.4 250.1h0M72.0 255.0h0M77.6 258.6h0M76.3 256.8h0M74.4 251.6h0M83.0 253.5h0M88.1 254.7h0M80.1 264.3h0M80.0 253.5h0M75.1 269.4h0M76.7 244.7h0M93.8 262.3h0M65.1 261.7h0M80.2 274.9h0M81.5 273.1h0M80.5 270.0h0M88.6 255.9h0M85.7 270.8h0M63.9 260.7h0M76.1 272.1h0M93.0 257.1h0M62.4 275.2h0M83.0 272.2h0M83.5 253.2h0M69.4 257.0h0M79.0 258.6h0M80.5 249.4h0M84.9 256.0h0M89.7 240.8h0M81.8 241.2h0M82.9 255.0h0M88.0 262.5h0M75.9 260.9h0M74.6 243.4h0M76.2 266.2h0M74.7 263.6h0M69.9 252.4h0M81.2 271.1h0M70.7 260.9h0M79.2 277.5h0M75.7 252.6h0M78.4 277.9h0M80.2 275.9h0M76.9 265.0h0M78.7 255.8h0M91.0 267.5h0M78.7 244.4h0M77.5 250.1h0M83.3 256.0h0M89.2 266.3h0M73.3 268.8h0M80.2 261.2h0M74.7 253.5h0M81.5 251.1h0M75.1 247.2h0M75.2 275.6h0M78.1 248.5h0M73.6 257.3h0M76.1 248.2h0M87.3 248.3h0M95.2 255.1h0M74.6 267.7h0M77.0 256.6h0M77.7 264.7h0M78.9 256.1h0M93.2 268.9h0M97.4 264.1h0M80.3 253.4h0M83.2 250.6h0M76.7 243.5h0M86.0 268.3h0M72.9 261.2h0M84.3 270.6h0M78.4 231.8h0M69.0 259.6h0M77.2 273.2h0M75.8 251.3h0M68.4 285.8h0M77.0 262.5h0M80.9 260.5h0M72.8 247.4h0M72.1 259.1h0M81.3 248.2h0M62.5 266.0h0M73.3 254.0h0M74.9 282.1h0M85.4 263.9h0M79.6 249.6h0M83.2 259.9h0M70.1 254.8h0M75.8 271.8h0M80.1 250.1h0M80.2 245.9h0M66.6 258.6h0M89.6 261.4h0M87.2 268.3h0M79.7 246.0h0M73.0 245.2h0M74.5 283.9h0M77.3 269.8h0M78.0 246.7h0M75.7 275.3h0M80.4 252.7h0M82.8 264.8h0M77.1 251.1h0M80.5 255.1h0M95.7 260.9h0M83.9 233.6h0M76.8 271.1h0M86.7 260.7h0M88.1 249.5h0M69.7 277.1h0M78.6 235.8h0M83.2 247.6h0M84.4 262.8h0M78.9 259.0h0M82.3 249.3h0M76.1 242.9h0M86.0 255.4h0M74.8 277.2h0M75.6 260.5h0M69.9 285.3h0M72.2 272.8h0M70.0 248.4h0M76.1 261.4h0M72.9 250.7h0M78.2 246.7h0M77.7 280.9h0M82.1 256.6h0M73.3 250.8h0M100.4 259.2h0M77.4 245.0h0M79.8 268.5h0M71.2 251.1h0M68.3 249.3h0M94.6 263.9h0M83.9 253.1h0M78.7 247.7h0M92.5 251.9h0M82.9 255.2h0M78.4 270.2h0M94.2 256.1h0M75.4 275.5h0M81.4 259.0h0M81.4 251.8h0M98.1 253.6h0M75.2 238.5h0M76.7 275.4h0M66.1 261.3h0M92.5 250.8h0M79.4 257.8h0M65.4 261.1h0M74.8 255.8h0M66.8 272.6h0M75.8 275.8h0M86.0 269.0h0M78.7 272.5h0M76.5 276.2h0M81.6 232.9h0M80.7 251.9h0M80.3 245.8h0M97.9 260.6h0M87.9 262.4h0M95.1 253.6h0M67.2 287.0h0M78.4 247.3h0M75.8 246.4h0M80.1 241.2h0M70.8 265.6h0M90.0 247.9h0M76.0 264.1h0M64.7 280.1h0M79.2 245.8h0M93.6 253.2h0M87.4 273.1h0M76.7 280.4h0M74.2 242.0h0M63.0 264.7h0M90.2 249.2h0M72.1 252.1h0M79.9 276.9h0M76.4 264.7h0M77.5 270.7h0M77.9 281.9h0M41.5 255.0h0M76.7 245.6h0M84.6 250.4h0M93.8 264.2h0M79.8 255.6h0M85.5 264.0h0M77.5 247.2h0M79.1 267.2h0M89.3 265.6h0M84.9 275.6h0M80.5 230.5h0M63.6 273.4h0M78.7 243.7h0M77.4 260.0h0M87.0 260.6h0M80.3 259.9h0M93.7 267.9h0M78.7 255.3h0M76.0 248.4h0M71.4 251.0h0M72.2 282.0h0M87.3 264.0h0M79.7 262.7h0M83.5 252.1h0M63.5 260.3h0M77.8 246.6h0M85.2 241.4h0M88.8 258.1h0M78.0 260.7h0M65.3 271.1h0M81.2 248.2h0M86.2 237.2h0M74.9 254.7h0M79.2 277.1h0M81.6 259.3h0M82.1 255.8h0M69.6 253.6h0M82.2 259.8h0M90.4 271.0h0M63.6 257.5h0M87.4 250.1h0M71.0 279.5h0M80.8 269.3h0M79.7 253.2h0M77.9 249.7h0M76.3 261.8h0M79.8 268.0h0M78.6 269.3h0M73.7 258.2h0M66.2 258.3h0M76.9 271.6h0M78.1 268.4h0M77.9 264.9h0M81.1 226.8h0M86.6 257.5h0M77.5 282.6h0M87.3 268.5h0M71.2 249.6h0M78.1 261.6h0M79.6 257.6h0M82.9 275.8h0M75.9 248.6h0M74.7 244.7h0M80.3 265.8h0M78.2 274.5h0M88.5 243.1h0M73.7 247.9h0M68.4 279.4h0M76.6 282.7h0M90.7 248.9h0M80.7 234.3h0M82.4 248.2h0M82.7 247.8h0M85.6 274.1h0M32.4 249.3h0M88.0 247.0h0M77.1 260.8h0M78.3 233.9h0M78.5 245.8h0M93.5 255.9h0M77.1 271.9h0M99.5 261.2h0M76.7 250.9h0M49.3 260.5h0M85.4 254.7h0M93.0 266.1h0M68.5 266.9h0M82.6 261.4h0M75.0 246.4h0M91.3 259.1h0M73.9 279.3h0M77.7 268.9h0M76.4 237.5h0M86.8 242.9h0M78.9 261.1h0M82.0 259.6h0M94.1 261.9h0M87.1 254.7h0M92.6 262.6h0M68.6 254.9h0M81.1 236.6h0M87.8 266.1h0M82.2 266.2h0M76.5 255.2h0M76.2 240.3h0M77.7 250.6h0M68.9 251.8h0M75.4 264.6h0M73.9 281.8h0M77.4 262.7h0M81.2 249.3h0M76.7 243.4h0M78.5 261.8h0M81.5 248.6h0" stroke="#f6c540" stroke-width="1.6" stroke-linecap="round" fill="none"/>
<path d="M78.7 260.7h0M76.9 256.8h0M78.1 228.9h0M78.3 261.5h0M78.4 229.3h0M77.5 268.6h0M63.6 259.2h0M79.4 235.3h0M82.3 233.9h0M78.1 266.1h0M61.8 265.6h0M80.2 255.9h0M81.2 271.1h0M63.5 267.5h0M77.1 244.7h0M82.3 235.3h0M82.6 243.0h0M77.7 254.9h0M81.8 230.7h0M79.5 239.7h0M78.0 238.2h0M79.4 235.8h0M81.0 237.6h0M77.1 244.8h0M68.1 277.7h0M80.6 229.6h0M69.6 279.5h0M79.3 234.2h0M85.6 247.0h0M80.9 235.6h0M77.0 239.6h0M65.9 277.6h0M91.5 248.7h0M77.9 244.4h0M81.9 227.3h0M80.4 236.1h0M76.0 268.1h0M79.0 240.1h0M80.8 232.2h0M81.8 237.4h0M70.8 260.3h0M77.5 235.3h0M75.8 242.0h0M82.9 244.0h0M79.0 228.5h0M75.0 240.0h0M80.3 239.6h0M79.9 232.7h0M66.1 260.1h0M80.9 229.8h0M79.6 227.6h0M94.3 255.2h0M80.3 231.3h0M81.5 230.5h0M88.5 242.5h0M80.0 242.7h0M80.2 243.8h0M80.4 236.0h0M76.9 240.9h0M79.7 266.8h0M80.6 240.4h0M81.7 244.0h0M79.4 230.7h0M79.9 237.9h0M68.6 280.9h0M74.8 286.9h0M66.9 251.8h0M80.5 231.2h0M79.5 238.7h0M81.3 271.3h0M80.6 231.3h0M80.3 230.9h0M71.9 248.2h0M78.5 243.9h0M77.1 242.7h0M61.7 277.3h0M79.3 229.0h0M79.1 228.9h0M79.3 230.7h0M82.9 241.9h0M76.8 238.6h0M45.9 258.0h0M76.9 238.0h0M62.5 260.2h0M79.0 244.1h0M79.1 238.1h0M90.2 256.7h0M74.8 278.1h0M79.5 245.5h0M68.2 256.5h0M74.2 249.6h0M86.1 260.0h0M83.4 233.1h0M72.2 258.0h0M80.8 227.1h0M88.6 266.7h0M88.6 251.6h0M74.1 245.7h0M81.2 235.6h0M95.5 257.3h0M80.4 279.2h0M78.3 234.7h0M67.0 260.8h0M78.9 236.1h0M80.3 248.6h0M69.1 284.6h0M82.0 227.9h0M83.4 247.1h0M80.5 236.5h0M79.9 232.5h0M77.7 236.7h0M80.7 240.8h0M81.6 243.4h0M64.7 269.4h0M81.6 227.6h0M89.9 260.8h0M74.6 249.3h0M79.6 256.0h0M77.1 239.3h0M79.5 237.9h0M77.1 243.7h0M82.9 234.0h0M77.9 248.8h0M83.1 241.7h0M78.7 244.2h0M78.6 242.0h0M81.8 234.0h0M77.2 240.0h0M80.1 240.2h0M80.5 233.8h0M83.5 244.7h0M82.0 234.5h0M89.5 267.7h0M74.9 241.4h0M82.6 236.1h0M86.9 269.5h0M79.5 244.5h0M78.4 240.9h0M82.1 236.0h0M74.7 236.4h0M79.9 235.0h0M77.9 244.5h0M84.4 259.2h0M78.9 236.0h0M80.1 236.3h0M65.7 261.3h0M80.4 230.0h0M76.4 247.3h0M83.8 237.7h0M76.2 237.9h0M69.5 241.7h0M86.8 238.1h0M73.5 272.4h0M82.8 237.9h0M66.8 264.1h0M81.8 234.0h0M82.2 231.0h0" stroke="#34489a" stroke-width="1.6" stroke-linecap="round" fill="none"/>
<rect x="122.3" y="226.6" width="4.5" height="22" fill="#34489a"/>
<rect x="122.3" y="248.6" width="4.5" height="22.3" fill="#f6c540"/>
<rect x="122.3" y="270.9" width="4.5" height="21.7" fill="#d4482a"/>
<rect x="122.3" y="226.6" width="4.5" height="66" fill="none" stroke="#333" stroke-width="0.8"/>
<text x="129.80" y="239.60" font-size="6.3" textLength="46.8" lengthAdjust="spacingAndGlyphs" fill="#222">LKS+ CD34- Flt3-</text>
<text x="129.80" y="261.80" font-size="6.3" textLength="13.9" lengthAdjust="spacingAndGlyphs" fill="#222">LKS+</text>
<text x="129.80" y="283.80" font-size="6.3" textLength="13.0" lengthAdjust="spacingAndGlyphs" fill="#222">LKS-</text>
<line x1="278.10" y1="226.60" x2="365.30" y2="226.60" stroke="#a2a2a2" stroke-width="0.75"/>
<line x1="278.10" y1="226.60" x2="279.60" y2="285.10" stroke="#a2a2a2" stroke-width="0.75"/>
<line x1="334.00" y1="226.60" x2="334.00" y2="280.30" stroke="#a2a2a2" stroke-width="0.75"/>
<line x1="365.30" y1="226.60" x2="362.40" y2="298.40" stroke="#a2a2a2" stroke-width="0.75"/>
<line x1="279.60" y1="285.10" x2="333.80" y2="280.30" stroke="#a2a2a2" stroke-width="0.75"/>
<line x1="333.80" y1="280.30" x2="362.40" y2="298.40" stroke="#a2a2a2" stroke-width="0.75"/>
<line x1="279.60" y1="285.10" x2="293.30" y2="308.40" stroke="#a2a2a2" stroke-width="0.75"/>
<line x1="293.30" y1="308.40" x2="362.40" y2="298.40" stroke="#a2a2a2" stroke-width="0.75"/>
<line x1="276.40" y1="277.10" x2="275.31" y2="231.50" stroke="#1a1a1a" stroke-width="1.0"/>
<path d="M275.20 227.00L277.94 232.94L275.31 231.70L272.74 233.06Z" fill="#111"/>
<line x1="288.60" y1="306.10" x2="281.38" y2="293.78" stroke="#1a1a1a" stroke-width="1.0"/>
<path d="M279.10 289.90L284.38 293.76L281.48 293.95L279.89 296.39Z" fill="#111"/>
<line x1="361.50" y1="301.70" x2="302.45" y2="310.53" stroke="#1a1a1a" stroke-width="1.0"/>
<path d="M298.00 311.20L303.55 307.74L302.65 310.50L304.32 312.88Z" fill="#111"/>
<text x="267.45" y="252.30" font-size="8.2" text-anchor="middle" transform="rotate(90 267.45 252.30)" textLength="14.3" lengthAdjust="spacingAndGlyphs">DC2</text>
<text x="277.51" y="304.36" font-size="8.4" text-anchor="middle" transform="rotate(59 277.51 304.36)" textLength="14.3" lengthAdjust="spacingAndGlyphs">DC3</text>
<text x="332.16" y="314.45" font-size="6.6" text-anchor="middle" transform="rotate(-8.7 332.16 314.45)" textLength="11.1" lengthAdjust="spacingAndGlyphs">DC1</text>
<text x="280.90" y="213.00" font-size="6.6" textLength="82.8" lengthAdjust="spacingAndGlyphs" fill="#222" stroke="#222" stroke-width="0.15">FLT1 - ENSMUSG00000029648</text>
<path d="M298.1 255.6h0M329.2 276.9h0M332.2 258.9h0M344.1 265.9h0M338.4 236.5h0M323.7 270.7h0M318.1 261.8h0M322.1 271.1h0M334.0 279.7h0M340.7 244.7h0M297.2 254.8h0M331.1 246.3h0M342.1 271.0h0M338.6 230.8h0M339.0 255.7h0M295.2 252.3h0M348.8 251.9h0M339.0 266.6h0M321.1 268.9h0M324.8 275.6h0M333.0 264.9h0M316.4 264.8h0M326.8 284.2h0M344.9 244.7h0M342.1 273.5h0M339.7 242.1h0M342.2 241.9h0M348.9 266.5h0M326.2 262.8h0M332.9 265.0h0M297.8 256.2h0M322.4 265.4h0M345.6 267.3h0M326.7 255.1h0M319.4 265.6h0M328.1 261.1h0M327.9 269.9h0M319.7 270.2h0M302.4 258.9h0M351.5 272.0h0M319.9 269.1h0M291.4 251.5h0M337.1 229.6h0M324.6 281.4h0M336.0 237.3h0M308.2 261.1h0M336.4 272.8h0M336.4 249.9h0M300.9 256.6h0M292.8 251.4h0M342.1 236.8h0M335.0 273.4h0M321.7 276.0h0M339.4 260.2h0M325.8 271.7h0M330.8 282.8h0M312.9 265.6h0M353.3 257.4h0M336.4 249.8h0M353.8 264.3h0M296.1 255.8h0M318.8 262.6h0M294.4 251.9h0M329.3 284.1h0M346.6 258.9h0M308.9 260.9h0M343.7 246.7h0M314.9 267.7h0M332.7 272.9h0M351.0 260.6h0M338.0 234.1h0M336.7 257.5h0M327.3 274.9h0M327.6 269.3h0M321.6 280.5h0M327.3 286.5h0M338.6 271.6h0M328.4 255.0h0M306.6 263.8h0M333.6 262.6h0M346.0 247.2h0M303.1 261.0h0M334.3 264.3h0M288.9 249.2h0M331.4 270.9h0M310.9 259.4h0M358.4 256.7h0M318.8 272.8h0M320.5 258.1h0M331.1 259.9h0M323.8 267.9h0M334.7 257.3h0M324.9 271.4h0M320.5 269.0h0M328.8 262.5h0M350.4 260.6h0M336.1 240.7h0M348.0 258.7h0M328.1 267.1h0M317.5 262.9h0M339.8 228.9h0M343.4 262.6h0M313.3 261.7h0M312.8 260.7h0M329.7 262.4h0M305.6 258.0h0M351.1 269.2h0M306.9 259.9h0M318.6 277.5h0M321.6 275.5h0M333.8 275.1h0M332.2 281.5h0M328.5 276.4h0M341.7 240.8h0M348.8 265.9h0M340.4 262.0h0M315.1 260.5h0M300.2 257.3h0M315.6 265.3h0M342.2 252.8h0M336.3 265.6h0M342.4 269.4h0M310.3 265.1h0M297.4 257.2h0M352.6 262.5h0M335.0 262.4h0M297.4 255.0h0M332.8 282.6h0M332.9 250.8h0M334.6 260.2h0M318.7 279.2h0M339.4 276.7h0M302.3 257.1h0M298.1 256.6h0M338.4 245.0h0M335.7 259.6h0M339.6 231.7h0M299.1 256.8h0M336.1 250.7h0M343.3 262.4h0M338.3 267.3h0M327.4 280.7h0M331.5 268.6h0M337.6 269.7h0M334.4 241.4h0M325.9 290.2h0M326.5 265.6h0M338.7 267.5h0M319.9 260.2h0M325.2 250.1h0M339.4 249.3h0M332.1 283.6h0M339.0 274.4h0M322.9 277.0h0M322.2 265.1h0M338.4 234.5h0M316.6 261.7h0M311.8 265.3h0M336.5 231.4h0M337.3 248.7h0M333.7 248.6h0M336.4 254.9h0M330.1 280.4h0M307.7 260.1h0M294.3 254.1h0M323.8 270.3h0M329.4 263.2h0M313.3 261.2h0M331.6 262.5h0M319.5 269.8h0M345.3 247.6h0M336.1 268.6h0M318.7 262.2h0M339.1 230.1h0M344.8 260.7h0M334.8 251.4h0M311.2 264.1h0M353.8 267.5h0M352.0 264.2h0M342.4 260.4h0M338.4 250.8h0M338.6 248.6h0M335.8 248.1h0M335.0 272.0h0M352.4 252.0h0M334.7 254.4h0M321.9 265.6h0M340.0 276.8h0M332.6 272.7h0M337.3 272.5h0M335.7 255.1h0M303.3 257.1h0M335.9 270.9h0M310.6 259.5h0M335.4 276.1h0M342.3 267.0h0M333.5 267.8h0M328.5 278.9h0M296.9 255.4h0M342.6 244.3h0M341.5 245.5h0M347.3 256.6h0M331.1 281.0h0M324.1 259.8h0M336.6 263.0h0M308.9 258.9h0M338.7 257.0h0M291.4 252.2h0M329.6 283.6h0M315.1 262.6h0M345.7 266.3h0M325.7 275.0h0M331.0 268.0h0M324.3 266.8h0M359.1 257.8h0M348.8 267.2h0M326.8 266.0h0M335.0 265.5h0M300.6 255.8h0M331.0 282.2h0M305.2 258.4h0M316.4 263.3h0M322.8 268.8h0M340.2 246.6h0M322.8 271.9h0M331.5 267.8h0M350.2 263.5h0M325.7 283.7h0M338.5 242.5h0M318.5 270.0h0M310.5 263.7h0M320.5 270.9h0M352.6 266.9h0M339.8 252.2h0M344.5 238.5h0M298.1 257.0h0M312.6 262.9h0M356.2 255.5h0M331.1 278.9h0M307.9 264.6h0M337.0 279.6h0M290.3 249.8h0M335.6 267.6h0M345.8 258.6h0M303.0 259.8h0M309.6 260.4h0M304.2 261.4h0M337.0 274.0h0M337.9 234.8h0M337.2 246.5h0M324.1 261.2h0M358.0 260.0h0M354.1 258.8h0M343.2 238.8h0M316.9 261.9h0M328.5 265.5h0M322.6 282.7h0M322.3 272.9h0M303.2 260.1h0M324.8 268.2h0M319.8 274.1h0M340.1 235.8h0M348.8 253.3h0M333.0 265.5h0M341.3 274.8h0M314.6 262.4h0M347.6 260.7h0M350.7 255.9h0M341.9 251.6h0M328.1 267.5h0M325.3 267.2h0M336.1 247.6h0M338.8 239.5h0M289.0 248.5h0M304.8 258.9h0M342.2 271.8h0M350.8 271.5h0M298.4 255.3h0M331.2 263.4h0M320.4 262.5h0M337.2 256.9h0M333.2 285.4h0M321.3 261.0h0M327.8 264.8h0M307.1 260.7h0M339.0 251.1h0M340.2 272.7h0M337.9 260.5h0M323.5 264.1h0M309.4 262.5h0M332.8 249.1h0M311.2 262.0h0M330.7 256.7h0M335.5 261.0h0M340.4 243.3h0M338.8 263.7h0M337.3 258.1h0M321.1 262.6h0M323.8 262.3h0M323.2 256.5h0M301.9 258.8h0M337.5 240.3h0M343.4 266.4h0M345.2 267.5h0M329.6 272.4h0M350.5 252.6h0M306.8 257.8h0M343.2 262.5h0M335.8 282.1h0M322.7 264.7h0M326.8 267.4h0M328.2 266.0h0M323.3 275.2h0M332.0 253.1h0M342.0 269.5h0M327.7 274.8h0M323.2 271.5h0M331.2 260.6h0M337.4 261.2h0M329.8 270.3h0M331.9 252.1h0M340.0 239.4h0M303.4 256.7h0M328.7 287.3h0M338.6 257.7h0M333.9 277.3h0M348.0 256.5h0M308.6 261.5h0M312.9 262.6h0M338.1 263.7h0M297.8 254.3h0M301.5 256.1h0M332.8 268.2h0M290.1 248.4h0M351.4 261.4h0M338.8 229.3h0M292.8 250.8h0M334.5 235.4h0M341.8 235.4h0M318.6 266.5h0M336.7 253.0h0M352.2 249.9h0M355.3 264.9h0M311.9 264.2h0M315.6 259.6h0M334.8 272.3h0M297.3 254.3h0M321.6 273.4h0M319.7 259.4h0M325.5 266.0h0M338.2 246.2h0M340.7 269.4h0M308.0 263.4h0M320.3 272.5h0M330.9 277.3h0M333.9 254.1h0M327.8 248.2h0M353.6 259.4h0M322.2 274.4h0M331.2 281.3h0M343.6 258.6h0M329.3 255.1h0M336.7 271.2h0M345.4 269.1h0M339.0 274.6h0M334.6 245.6h0M338.2 231.8h0M339.4 275.0h0M322.0 271.1h0M346.0 271.6h0M334.3 265.8h0M319.0 263.0h0M295.9 254.0h0M313.7 260.5h0M325.8 281.9h0M292.1 251.2h0M326.7 269.4h0M336.8 259.1h0M327.0 253.2h0M336.2 265.1h0M337.4 261.0h0M349.0 259.9h0M332.1 263.2h0M324.6 270.2h0M336.8 235.5h0M332.4 276.5h0M328.8 252.9h0M345.9 248.8h0M340.5 263.1h0M346.7 257.9h0M343.7 259.0h0M299.8 256.8h0M326.2 281.4h0M352.2 255.7h0M313.0 259.6h0M335.0 271.3h0M316.6 261.7h0M334.6 233.8h0M340.4 270.0h0M328.1 278.2h0M335.2 256.2h0M349.8 256.5h0M325.5 288.2h0M333.1 249.8h0M296.9 254.0h0M336.1 239.6h0M338.9 230.9h0M341.4 273.9h0M324.4 267.1h0M337.1 254.7h0M331.9 262.9h0M321.1 280.6h0M319.9 260.1h0M342.5 241.5h0M334.6 282.8h0M339.9 269.8h0M342.6 255.1h0M349.6 251.7h0M330.5 284.5h0M305.1 262.9h0M335.1 273.8h0M329.6 263.1h0M332.1 264.7h0M355.5 258.3h0M333.5 269.8h0M328.9 252.5h0M358.1 260.0h0M332.8 274.7h0M335.5 249.9h0M315.5 264.5h0M335.5 255.6h0M301.1 258.2h0M348.2 250.8h0M337.5 271.8h0M315.5 273.5h0M340.2 275.9h0M354.9 260.9h0M298.5 257.3h0M335.7 247.7h0M330.7 246.1h0M320.7 265.9h0M295.9 254.0h0M334.2 277.6h0M311.2 262.7h0M346.9 267.2h0M289.6 248.3h0M343.9 273.1h0M343.2 238.3h0M332.7 275.9h0M332.2 271.5h0M322.9 280.3h0M328.2 262.3h0M334.0 277.2h0M298.8 257.7h0M294.7 253.6h0M348.2 255.8h0M336.6 267.3h0M313.7 261.1h0M322.0 270.8h0M340.4 236.5h0M329.8 284.5h0M342.3 274.5h0M321.8 259.1h0M336.1 244.0h0M330.7 258.9h0M312.4 261.0h0M335.2 265.4h0M339.2 236.5h0M307.2 258.5h0M344.8 262.2h0M293.8 252.3h0M338.2 247.1h0M338.7 267.2h0M323.1 260.6h0M346.1 261.0h0M315.6 261.4h0M341.5 234.7h0M336.1 243.4h0M334.5 264.3h0M347.4 267.8h0M333.3 246.0h0M335.2 278.0h0M319.7 282.1h0M335.3 268.0h0M341.2 257.8h0M333.6 276.8h0M315.0 266.0h0M343.2 272.2h0M332.2 282.1h0M327.4 269.1h0M352.4 269.7h0M338.0 228.2h0M351.8 249.2h0M332.9 256.8h0M337.1 274.8h0M287.9 247.1h0M347.1 265.8h0M341.7 270.6h0M296.1 253.4h0M318.4 263.7h0M340.4 277.4h0M322.6 269.7h0M333.5 273.1h0M299.4 256.1h0M300.9 258.5h0M334.9 245.8h0M332.8 276.3h0M334.0 270.8h0M330.0 271.9h0M289.9 248.9h0M333.5 240.3h0M356.8 258.2h0M332.7 263.4h0M339.4 277.9h0M319.1 262.0h0M321.8 261.7h0M338.8 261.3h0M315.5 266.5h0M336.8 249.4h0M337.2 245.8h0M313.4 261.6h0M332.6 267.3h0M300.7 258.1h0M336.7 258.9h0M330.8 271.7h0M332.8 242.2h0M297.8 255.9h0M328.4 278.1h0M328.3 262.7h0M338.3 260.4h0M337.1 267.0h0M336.9 271.7h0M318.6 264.2h0M346.9 263.0h0M311.0 263.6h0M337.3 273.7h0M334.5 248.8h0M327.0 264.6h0M311.2 266.1h0M327.7 257.7h0M329.7 281.7h0M332.7 282.3h0M331.6 259.3h0M338.5 276.5h0M329.2 283.0h0M313.9 264.4h0M339.2 233.6h0M322.1 278.4h0M336.4 242.3h0M327.8 283.2h0M334.3 272.3h0M311.3 259.5h0M299.0 256.5h0M336.6 244.1h0M344.4 270.0h0M322.0 274.2h0M316.5 262.2h0M325.3 273.1h0M321.0 260.2h0M295.9 256.0h0M317.1 272.9h0M321.5 259.6h0M346.8 272.0h0M320.1 262.9h0M326.1 287.1h0M311.6 261.4h0M297.2 254.7h0M318.2 274.7h0M334.8 244.4h0M318.1 263.1h0M338.3 231.3h0M324.8 285.0h0M333.0 281.0h0M315.4 262.1h0M355.1 258.4h0M338.8 254.7h0M324.2 282.0h0M339.7 251.6h0M332.4 272.9h0M325.5 280.8h0M326.6 281.5h0M289.6 248.8h0M308.0 260.9h0M333.4 278.4h0M294.5 253.4h0M338.5 234.5h0M324.0 261.0h0M323.2 265.5h0M332.6 246.2h0M307.6 260.1h0M337.9 271.2h0M342.4 250.9h0M337.0 274.7h0M297.2 255.3h0M336.3 269.7h0M287.9 247.2h0M343.8 247.8h0M344.9 248.3h0M345.4 272.6h0M325.5 267.9h0M331.0 248.6h0M332.1 256.1h0M313.8 265.3h0M352.0 259.5h0M340.6 270.2h0M322.1 280.2h0M307.7 259.9h0M322.5 284.0h0M323.8 286.5h0M334.2 254.0h0M332.3 262.1h0M333.1 264.1h0M311.7 261.3h0M352.0 267.8h0M345.2 268.0h0M327.7 274.0h0M341.7 249.4h0M330.1 273.1h0M319.9 259.0h0M335.5 269.1h0M332.4 238.1h0M298.0 254.3h0M344.5 245.3h0M318.1 261.2h0M332.8 254.1h0M303.8 259.9h0M337.5 235.1h0M340.0 267.8h0M333.0 278.1h0M330.6 267.2h0M322.5 282.4h0M330.4 267.1h0M324.7 281.2h0M322.3 256.9h0M341.2 274.5h0M342.0 239.7h0M330.8 284.5h0M338.9 263.6h0M327.8 270.5h0M361.6 254.8h0M321.5 284.6h0M337.9 261.2h0M352.9 260.8h0M288.7 248.2h0M316.6 265.0h0M341.5 272.0h0M325.7 255.7h0M324.9 275.9h0M347.1 272.7h0M310.4 261.2h0M325.7 267.0h0M337.3 251.7h0M336.3 270.0h0M329.0 281.1h0M312.4 264.0h0M340.4 259.3h0M343.3 268.4h0M337.0 244.5h0M321.2 256.0h0M324.0 285.1h0M335.6 251.9h0M344.1 270.8h0M337.1 244.1h0M336.2 278.0h0M312.0 260.6h0M332.9 243.3h0M325.4 264.1h0M341.8 257.4h0M331.5 260.2h0M338.0 246.7h0M332.3 283.0h0M316.8 262.0h0M336.7 277.4h0M288.5 247.4h0M333.0 266.7h0M337.8 236.0h0M340.5 273.7h0M318.0 265.3h0M318.9 267.4h0M336.1 263.1h0M338.8 264.3h0M346.3 267.4h0M340.7 268.6h0M349.5 260.0h0M333.8 268.6h0M318.0 260.7h0M329.2 275.9h0M341.9 261.1h0M330.2 262.9h0M305.9 259.5h0M330.9 278.2h0M334.9 254.0h0M318.5 261.0h0M295.9 254.3h0M336.6 256.0h0M333.8 260.4h0M288.6 248.0h0M328.4 280.1h0M327.5 284.3h0M332.3 264.2h0M340.8 236.6h0M293.3 252.9h0M323.1 266.5h0M334.7 243.5h0M340.4 254.3h0M310.5 260.9h0M339.9 267.2h0M327.8 270.6h0M337.2 251.1h0M348.5 247.9h0M338.4 238.9h0M317.2 259.4h0M299.0 257.2h0M346.2 243.7h0M315.3 261.3h0M330.2 245.0h0M334.0 276.9h0M307.7 259.6h0M341.2 262.2h0M338.1 229.9h0M338.8 233.3h0M325.4 263.5h0M305.4 259.1h0M333.6 261.0h0M338.3 242.3h0M340.3 272.1h0M322.0 264.7h0M296.5 254.7h0M317.1 263.0h0M337.0 259.9h0M341.6 276.7h0M340.6 230.5h0M294.6 252.2h0M338.3 261.4h0M337.4 249.1h0M343.9 258.3h0M348.3 252.4h0M316.6 262.3h0M343.7 261.5h0M324.5 278.3h0M332.8 276.8h0M334.9 281.1h0M338.0 228.4h0M305.1 257.5h0M313.1 259.5h0M330.9 267.6h0M302.6 258.1h0M320.5 265.5h0M296.1 255.9h0M334.7 262.2h0M327.8 279.4h0M332.6 255.2h0M304.5 259.8h0M310.5 264.0h0M320.1 274.0h0M334.1 272.6h0M343.3 271.1h0M333.2 256.1h0M338.7 273.4h0M334.7 275.5h0M330.1 255.0h0M331.9 278.1h0M331.1 246.3h0M336.3 266.7h0M343.5 239.9h0M333.0 252.9h0M330.4 267.2h0M332.8 263.5h0M340.4 230.8h0M335.4 246.0h0M324.2 277.6h0M331.3 260.5h0M340.5 229.3h0M324.2 281.9h0M333.6 275.3h0M354.5 259.0h0M311.0 256.8h0M344.5 246.4h0M337.1 275.7h0M338.1 269.5h0M335.6 243.5h0M331.6 278.4h0M336.1 274.6h0M292.0 250.3h0M299.4 256.4h0M326.0 289.3h0M339.4 247.7h0M320.8 265.5h0M350.2 250.6h0M328.8 284.9h0M346.6 257.3h0M303.3 257.9h0M338.9 261.0h0M316.0 262.9h0M323.0 265.2h0M302.0 256.0h0M336.1 252.3h0M320.1 270.7h0M324.8 285.6h0M340.3 280.1h0M292.6 251.3h0M310.4 260.3h0M336.4 228.0h0M349.7 246.2h0M343.2 243.7h0M342.8 267.2h0M303.7 259.0h0M341.1 271.6h0M322.5 273.6h0M336.2 279.3h0M330.8 281.9h0M330.7 285.6h0M343.7 275.1h0M307.2 257.5h0M333.5 280.3h0M338.0 277.1h0M340.1 269.1h0M354.3 263.8h0M333.1 254.8h0M331.7 245.6h0M300.6 257.8h0M303.1 257.6h0M319.8 268.6h0M332.4 254.4h0M338.5 257.9h0M341.2 277.3h0M315.3 259.1h0M321.7 278.4h0M339.2 274.3h0M326.6 260.5h0M329.2 264.7h0M312.3 263.1h0M340.3 267.7h0M338.0 241.1h0M333.9 268.0h0M343.1 244.4h0M326.1 286.8h0M348.3 269.0h0M331.0 270.5h0M334.4 250.2h0M331.4 258.8h0M338.4 261.0h0M309.0 262.7h0M339.0 267.7h0M325.8 285.3h0M336.1 268.5h0M331.9 260.3h0M329.3 248.4h0M345.2 267.2h0M348.6 269.5h0M335.6 260.0h0M336.0 273.9h0M292.5 252.2h0M300.0 257.6h0M308.6 260.6h0M316.5 269.8h0M337.3 254.9h0M331.9 255.5h0M319.3 265.6h0M332.0 283.8h0M331.5 269.7h0M330.1 275.4h0M355.8 254.5h0M341.1 254.1h0M332.9 268.4h0M330.2 245.8h0M335.4 237.2h0M339.9 257.3h0M293.6 253.3h0M335.9 238.0h0M344.5 247.9h0M336.9 260.2h0M327.9 269.0h0M336.2 234.1h0M316.3 259.9h0M313.9 265.0h0M339.1 274.8h0M343.5 263.8h0M331.6 251.4h0M316.4 267.0h0M297.3 254.5h0M334.0 235.5h0M324.6 283.1h0M320.2 267.7h0M321.1 269.5h0M330.4 273.9h0M341.2 243.6h0M335.9 272.9h0M344.9 242.8h0M290.8 249.9h0M325.9 287.6h0M296.1 256.4h0M314.0 259.8h0M337.4 233.1h0M302.6 257.7h0M339.6 270.0h0M337.5 260.0h0M329.6 267.3h0M333.6 236.8h0M335.1 271.5h0M337.5 234.9h0M321.2 272.3h0M336.0 246.2h0M333.6 271.0h0M316.9 265.6h0M328.5 248.9h0M326.9 280.6h0M304.4 258.0h0M293.0 251.4h0M337.3 251.8h0M330.9 248.9h0M327.1 283.5h0M299.1 255.3h0M291.7 250.5h0M335.8 279.7h0M334.3 245.2h0M343.1 257.6h0M329.1 278.0h0M332.9 268.4h0M333.3 265.1h0M328.4 276.3h0M321.9 267.2h0M334.3 248.3h0M353.0 250.4h0M294.6 251.9h0M338.6 245.5h0M322.6 258.0h0M321.0 269.5h0M295.7 253.7h0M337.4 233.3h0M295.1 255.0h0M342.4 266.4h0M336.0 279.3h0M327.1 265.5h0M335.3 267.2h0M350.4 256.5h0M332.2 265.8h0M327.1 261.0h0M344.0 266.4h0M336.0 257.8h0M329.7 280.0h0M352.4 253.7h0M323.7 264.1h0M345.4 260.1h0M330.3 253.8h0M342.8 235.4h0M311.0 259.7h0M330.8 267.9h0M332.9 282.6h0M310.4 261.6h0M341.2 275.6h0M335.5 251.5h0M318.6 264.2h0M293.1 251.5h0M305.4 261.8h0M322.4 261.1h0M316.9 260.1h0M322.7 280.2h0M331.8 270.4h0M349.4 254.7h0M336.4 239.6h0M328.7 271.6h0M341.0 277.0h0M331.5 262.0h0M318.7 264.3h0M331.0 254.9h0M339.0 258.0h0M312.7 263.1h0M317.4 262.0h0M316.0 262.2h0M339.1 270.7h0M318.1 260.6h0M295.3 253.0h0M350.2 270.2h0M333.9 259.2h0M311.7 263.5h0M319.0 267.0h0M323.5 278.3h0M335.0 271.4h0M355.9 255.0h0M332.1 259.9h0M357.3 258.4h0M311.0 260.2h0M330.2 244.4h0M343.7 246.2h0M335.3 239.7h0M347.4 271.2h0M326.3 259.4h0M320.5 265.0h0M330.9 251.2h0M325.9 272.9h0M323.9 256.4h0M334.5 279.9h0M308.8 260.7h0M338.5 234.0h0M311.1 261.0h0M306.1 261.7h0M354.2 257.9h0M292.6 251.2h0M316.2 265.6h0M304.9 258.7h0M321.9 273.6h0M350.2 264.6h0M330.9 273.3h0M354.4 265.4h0M290.2 250.9h0M316.4 263.0h0M321.1 269.3h0M320.7 270.5h0M329.7 250.7h0M323.9 266.2h0M301.1 257.6h0M331.8 274.9h0M323.4 281.1h0M311.9 260.2h0M336.0 264.2h0M349.4 257.2h0M333.0 255.2h0M336.8 262.0h0M333.9 258.9h0M292.7 251.8h0M322.8 282.3h0M333.8 249.1h0M320.8 262.2h0M302.4 257.8h0M333.6 235.3h0M333.4 242.1h0M315.1 261.0h0M359.9 258.1h0M333.7 276.1h0M335.0 270.3h0M312.9 260.3h0M325.2 273.6h0M296.0 253.5h0M341.6 260.7h0M351.2 252.5h0M332.1 262.2h0M293.0 251.5h0M350.1 258.9h0M329.2 260.4h0M324.2 257.4h0M344.4 244.5h0M316.1 261.1h0M334.2 255.3h0M296.1 255.2h0M339.1 258.4h0M319.0 268.5h0M330.6 246.3h0M333.2 263.2h0M335.7 258.0h0M312.2 261.4h0M320.2 260.9h0M350.9 264.6h0M332.2 239.5h0M294.8 254.6h0M338.1 242.2h0M330.8 277.6h0M347.4 264.8h0M298.3 254.9h0M345.5 238.4h0M306.0 259.8h0M334.4 251.2h0M309.4 259.9h0M331.8 241.0h0M344.3 245.8h0M317.9 266.2h0M326.8 273.2h0M335.3 272.1h0M331.2 240.0h0M336.8 269.8h0M339.5 269.2h0M331.3 277.4h0M321.9 279.7h0M336.0 237.9h0M320.6 265.5h0M330.9 274.1h0M315.5 265.7h0M337.5 231.0h0M307.8 261.1h0M333.8 258.0h0M306.4 260.7h0M320.9 259.8h0M337.5 280.7h0M300.6 258.6h0M341.7 268.5h0M340.2 236.7h0M328.3 273.8h0M323.8 283.1h0M336.9 259.6h0M334.5 261.6h0M302.1 257.1h0M326.0 279.8h0M343.0 262.5h0M312.7 265.8h0M358.7 256.8h0M292.4 250.8h0M326.2 289.5h0M335.5 274.8h0M326.4 278.3h0M321.3 265.3h0M323.4 260.3h0M318.7 261.0h0M327.2 277.8h0M345.4 259.6h0M330.4 268.8h0M347.9 256.4h0M313.4 260.7h0M334.9 237.1h0M318.3 264.0h0M328.3 280.8h0M338.6 255.6h0M342.4 272.7h0M336.9 250.1h0M308.8 257.4h0M311.0 263.5h0M300.1 255.9h0M330.5 262.3h0M332.8 278.4h0M298.5 255.5h0M339.7 235.8h0M296.0 254.1h0M347.3 250.2h0M290.6 249.9h0M332.7 264.1h0M324.9 281.7h0M323.2 261.7h0M338.0 227.1h0M340.1 253.0h0M326.0 250.7h0M331.7 256.0h0M304.1 257.2h0M324.9 283.0h0M314.9 264.7h0M291.0 250.4h0M338.2 257.8h0M334.9 280.2h0M338.6 242.8h0M313.9 261.7h0M333.9 254.7h0M330.9 281.7h0M334.4 250.0h0M306.2 258.6h0M302.8 259.5h0M304.2 258.2h0M352.3 254.6h0M302.7 259.2h0M331.7 279.7h0M329.6 268.0h0M323.8 274.5h0M325.3 270.9h0M330.4 273.2h0M320.0 276.7h0M342.4 240.5h0M327.1 285.4h0M327.7 242.5h0M359.2 260.9h0M324.7 276.4h0M300.1 256.7h0M338.5 258.0h0M338.2 262.0h0M341.0 260.5h0M328.7 270.1h0M311.3 259.6h0M321.8 259.2h0M331.3 269.5h0M340.4 239.7h0M337.2 227.4h0M301.2 255.6h0M326.3 272.7h0M337.1 247.0h0M332.0 257.1h0M353.7 257.6h0M340.5 268.1h0M332.9 272.9h0M288.5 248.0h0M299.6 255.2h0M307.3 259.5h0M319.1 264.3h0M330.4 272.2h0M317.5 265.1h0M337.6 269.6h0M302.4 258.9h0M339.4 231.0h0M337.5 261.7h0M332.2 247.1h0M341.5 245.9h0M349.9 256.6h0M332.5 250.0h0M330.2 282.2h0M307.3 259.7h0M336.4 252.6h0M317.1 265.5h0M354.9 259.5h0M307.8 258.1h0M337.1 265.0h0M337.8 230.0h0M336.7 246.9h0M347.5 267.6h0M345.8 269.3h0M344.0 272.8h0M335.2 258.4h0M342.1 265.8h0M332.9 246.8h0M319.9 269.3h0M330.5 268.0h0M336.4 257.9h0M336.3 259.7h0M346.6 271.1h0M307.1 258.7h0M323.6 285.3h0M288.6 247.8h0M339.5 255.0h0M292.1 251.2h0M320.1 265.4h0M320.4 260.7h0M326.6 259.5h0M329.0 249.0h0M339.1 227.2h0M314.9 261.5h0M317.4 256.6h0M339.5 253.1h0M332.9 249.6h0M325.7 286.4h0M295.4 253.4h0M342.9 266.0h0M349.2 264.8h0M306.0 260.9h0M296.9 254.1h0M349.0 261.1h0M333.9 260.6h0M313.7 265.0h0M351.0 247.4h0M318.4 255.4h0M331.6 254.2h0M329.0 281.7h0M325.4 280.4h0M309.6 259.1h0M346.5 244.6h0M331.6 256.8h0M309.4 261.5h0M332.4 281.8h0M343.9 258.0h0M299.7 255.7h0M293.0 251.9h0M347.8 243.5h0M320.2 258.8h0M329.7 257.8h0M288.7 249.4h0M346.8 269.0h0M339.8 252.4h0M314.3 262.2h0M328.3 284.9h0M314.4 261.5h0M336.6 235.6h0M330.4 261.6h0M330.4 254.9h0M316.1 263.3h0M290.7 248.8h0M330.2 272.6h0M326.8 283.9h0M332.9 276.9h0M334.4 242.1h0M334.6 269.7h0M315.2 266.1h0M338.6 269.3h0M346.8 271.2h0M315.9 264.4h0M319.6 272.7h0M291.4 250.1h0M324.6 285.4h0M292.3 250.3h0M336.2 253.3h0M346.7 270.6h0M334.9 235.3h0M326.4 268.1h0M320.8 280.3h0M299.4 256.5h0M320.8 260.1h0M338.2 270.2h0M314.2 266.9h0M349.6 254.9h0M295.0 254.6h0M331.5 251.4h0M337.4 269.8h0M339.8 269.1h0M331.0 273.5h0M331.3 250.0h0M336.5 233.8h0M298.5 255.7h0M313.0 263.2h0M323.9 265.5h0M326.0 288.3h0M308.5 257.6h0M321.0 263.0h0M327.5 277.9h0M335.9 251.8h0M353.0 252.3h0M319.1 266.7h0M309.7 260.1h0M343.3 247.4h0M340.3 247.3h0M326.5 276.0h0M334.3 279.8h0M343.5 260.3h0M335.8 267.9h0M320.8 279.5h0M306.0 262.5h0M338.8 270.4h0M307.9 260.1h0M296.7 253.4h0M334.0 247.5h0M324.7 265.4h0M294.3 252.1h0M354.0 260.9h0M299.4 255.2h0M292.7 252.7h0M313.1 259.0h0M344.4 245.1h0M319.1 262.2h0M335.4 239.9h0M329.6 273.8h0M327.1 282.8h0M298.8 255.5h0M346.8 271.0h0M345.2 240.7h0M331.5 278.5h0M329.0 265.2h0M348.0 256.4h0M319.0 261.6h0M297.6 255.8h0M296.4 253.6h0M333.5 280.5h0M310.5 259.9h0M325.9 279.4h0M345.1 252.8h0M342.8 257.1h0M326.8 273.2h0M301.5 255.3h0M333.6 283.9h0M312.8 259.0h0M304.5 259.1h0M335.8 233.1h0M304.3 260.0h0M299.7 255.3h0M335.1 268.4h0M344.5 246.9h0M340.0 232.1h0M293.3 252.3h0M335.2 274.4h0M318.9 274.4h0M345.7 268.5h0M309.2 265.0h0M336.9 254.5h0M331.5 260.5h0M338.8 247.7h0M295.7 254.6h0M297.8 255.2h0M343.1 246.3h0M334.7 279.4h0M316.7 266.5h0M336.6 255.2h0M322.9 263.8h0M307.7 258.3h0M350.9 263.2h0M327.5 253.3h0M337.1 236.5h0M312.4 262.6h0M317.9 274.0h0M353.2 256.1h0M320.7 276.4h0M335.0 268.5h0M341.6 273.5h0M334.2 258.8h0M337.4 254.6h0M324.4 263.3h0M336.6 264.7h0M314.9 260.5h0M334.7 256.6h0M332.3 248.2h0M288.1 247.4h0M336.2 262.8h0M294.8 252.7h0M331.2 268.2h0M333.7 270.3h0M325.2 286.9h0M329.0 282.8h0M325.3 262.7h0M312.1 260.7h0M312.2 259.2h0M332.8 272.6h0M343.3 272.9h0M352.7 258.2h0M287.5 246.9h0M331.5 253.1h0M339.3 234.0h0M304.2 257.2h0M335.8 237.4h0M322.4 266.2h0M314.6 257.3h0M336.0 283.0h0M342.6 272.9h0M326.5 280.3h0M318.6 262.9h0M322.2 271.9h0M330.4 273.3h0M321.6 277.8h0M335.2 249.1h0M331.4 262.7h0M318.5 266.2h0M298.3 255.9h0M321.2 264.8h0M294.5 254.0h0M329.4 278.5h0M340.4 250.9h0M335.0 254.0h0M324.3 270.8h0" stroke="#c2bfbf" stroke-width="1.35" stroke-linecap="round" fill="none"/>
<path d="M310.2 260.9h0M323.8 269.7h0M331.7 282.3h0M338.0 276.7h0M336.1 280.5h0" stroke="#a83230" stroke-width="1.35" stroke-linecap="round" fill="none"/>
<path d="M326.6 275.7h0M329.0 280.4h0M297.4 254.1h0M337.8 274.8h0" stroke="#c4504a" stroke-width="1.35" stroke-linecap="round" fill="none"/>
<path d="M330.0 280.5h0M317.5 258.0h0M342.1 270.2h0M326.6 273.1h0" stroke="#d07a72" stroke-width="1.35" stroke-linecap="round" fill="none"/>
<path d="M330.6 282.8h0" stroke="#d89890" stroke-width="1.35" stroke-linecap="round" fill="none"/>
<rect x="371.40" y="214.60" width="4.30" height="104.90" fill="url(#cm)" stroke="#3a3a3a" stroke-width="0.8"/>
<line x1="375.70" y1="222.40" x2="378.70" y2="222.40" stroke="#333" stroke-width="0.9"/>
<text x="381.80" y="224.75" font-size="6.6" fill="#333">8</text>
<line x1="375.70" y1="246.70" x2="378.70" y2="246.70" stroke="#333" stroke-width="0.9"/>
<text x="381.80" y="249.05" font-size="6.6" fill="#333">6</text>
<line x1="375.70" y1="271.00" x2="378.70" y2="271.00" stroke="#333" stroke-width="0.9"/>
<text x="381.80" y="273.35" font-size="6.6" fill="#333">4</text>
<line x1="375.70" y1="295.40" x2="378.70" y2="295.40" stroke="#333" stroke-width="0.9"/>
<text x="381.80" y="297.75" font-size="6.6" fill="#333">2</text>
<line x1="375.70" y1="319.40" x2="378.70" y2="319.40" stroke="#333" stroke-width="0.9"/>
<text x="381.80" y="321.75" font-size="6.6" fill="#333">0</text>
<line x1="404.90" y1="226.60" x2="492.10" y2="226.60" stroke="#a2a2a2" stroke-width="0.75"/>
<line x1="404.90" y1="226.60" x2="406.40" y2="285.10" stroke="#a2a2a2" stroke-width="0.75"/>
<line x1="460.80" y1="226.60" x2="460.80" y2="280.30" stroke="#a2a2a2" stroke-width="0.75"/>
<line x1="492.10" y1="226.60" x2="489.20" y2="298.40" stroke="#a2a2a2" stroke-width="0.75"/>
<line x1="406.40" y1="285.10" x2="460.60" y2="280.30" stroke="#a2a2a2" stroke-width="0.75"/>
<line x1="460.60" y1="280.30" x2="489.20" y2="298.40" stroke="#a2a2a2" stroke-width="0.75"/>
<line x1="406.40" y1="285.10" x2="420.10" y2="308.40" stroke="#a2a2a2" stroke-width="0.75"/>
<line x1="420.10" y1="308.40" x2="489.20" y2="298.40" stroke="#a2a2a2" stroke-width="0.75"/>
<line x1="403.20" y1="277.10" x2="402.11" y2="231.50" stroke="#1a1a1a" stroke-width="1.0"/>
<path d="M402.00 227.00L404.74 232.94L402.11 231.70L399.54 233.06Z" fill="#111"/>
<line x1="415.40" y1="306.10" x2="408.18" y2="293.78" stroke="#1a1a1a" stroke-width="1.0"/>
<path d="M405.90 289.90L411.18 293.76L408.28 293.95L406.69 296.39Z" fill="#111"/>
<line x1="488.30" y1="301.70" x2="429.25" y2="310.53" stroke="#1a1a1a" stroke-width="1.0"/>
<path d="M424.80 311.20L430.35 307.74L429.45 310.50L431.12 312.88Z" fill="#111"/>
<text x="394.25" y="252.30" font-size="8.2" text-anchor="middle" transform="rotate(90 394.25 252.30)" textLength="14.3" lengthAdjust="spacingAndGlyphs">DC2</text>
<text x="404.31" y="304.36" font-size="8.4" text-anchor="middle" transform="rotate(59 404.31 304.36)" textLength="14.3" lengthAdjust="spacingAndGlyphs">DC3</text>
<text x="459.04" y="314.95" font-size="8.0" text-anchor="middle" transform="rotate(-8.7 459.04 314.95)" textLength="13.8" lengthAdjust="spacingAndGlyphs">DC1</text>
<text x="409.20" y="213.00" font-size="6.6" textLength="81.2" lengthAdjust="spacingAndGlyphs" fill="#222" stroke="#222" stroke-width="0.15">KDR - ENSMUSG00000062960</text>
<path d="M463.9 273.5h0M427.0 256.4h0M470.8 238.3h0M461.9 236.5h0M463.2 244.1h0M447.3 262.4h0M465.5 266.8h0M438.9 260.1h0M445.4 261.1h0M468.3 271.7h0M451.1 281.6h0M478.0 259.6h0M481.3 254.4h0M470.5 271.3h0M457.4 252.6h0M461.6 266.2h0M454.9 271.0h0M449.4 269.3h0M428.6 256.6h0M468.8 258.1h0M438.6 266.8h0M471.9 273.3h0M449.2 257.9h0M460.5 239.3h0M475.3 249.3h0M462.4 275.5h0M468.4 250.3h0M453.5 276.1h0M460.5 251.1h0M426.0 258.0h0M461.6 255.9h0M465.4 275.6h0M456.5 254.5h0M469.9 264.2h0M449.6 266.5h0M449.8 255.5h0M462.2 280.1h0M453.7 262.0h0M463.0 239.2h0M454.0 269.7h0M467.0 268.7h0M443.2 264.2h0M477.4 259.7h0M477.3 264.6h0M413.5 247.2h0M466.3 236.5h0M433.6 266.5h0M463.1 239.5h0M458.1 282.3h0M417.1 249.4h0M465.2 276.3h0M456.7 285.8h0M421.7 254.5h0M465.1 262.7h0M464.7 263.3h0M458.6 275.7h0M475.0 254.4h0M450.6 284.8h0M433.7 260.3h0M440.7 264.1h0M461.8 255.2h0M448.6 278.9h0M461.4 247.8h0M427.0 258.7h0M465.0 242.9h0M453.1 256.2h0M476.2 255.9h0M451.3 287.0h0M473.4 253.6h0M431.0 260.3h0M447.8 269.9h0M452.3 284.7h0M459.0 250.1h0M414.5 248.1h0M469.5 264.6h0M454.5 257.2h0M455.9 280.4h0M472.7 251.5h0M461.9 257.3h0M458.5 256.9h0M444.2 267.0h0M430.1 258.5h0M460.9 262.6h0M461.4 251.1h0M458.5 244.2h0M476.6 265.1h0M463.9 260.6h0M421.1 252.6h0M456.7 271.9h0M453.4 285.9h0M443.1 260.2h0M464.5 260.4h0M459.7 255.9h0M474.3 251.2h0M471.9 249.0h0M458.9 257.4h0M455.2 248.6h0M430.0 260.5h0M458.0 243.8h0M464.3 273.8h0M458.9 271.1h0M424.0 254.4h0M444.4 264.2h0M462.1 277.5h0M481.1 250.1h0M466.0 255.4h0M449.8 281.7h0M474.0 271.0h0M457.5 262.9h0M450.4 270.9h0M460.0 272.4h0M464.9 248.7h0M449.1 274.3h0M465.3 267.3h0M454.1 287.6h0M465.7 249.2h0M441.5 259.9h0M456.5 248.2h0M454.4 259.6h0M435.7 261.7h0M424.0 253.4h0M459.5 250.9h0M465.4 277.3h0M463.4 233.0h0M454.8 273.5h0M469.5 265.1h0M465.6 252.2h0M459.9 249.5h0M447.2 272.7h0M461.2 276.7h0M465.4 273.5h0M450.9 288.7h0M447.0 267.4h0M462.7 276.4h0M444.2 270.0h0M458.1 258.3h0M470.8 269.9h0M458.0 265.0h0M450.1 256.6h0M438.5 261.5h0M460.4 247.1h0M460.0 249.6h0M435.4 259.3h0M463.3 255.5h0M450.8 276.7h0M474.0 255.9h0M464.4 281.3h0M461.2 250.6h0M456.9 265.0h0M466.4 268.5h0M467.4 271.5h0M466.1 245.0h0M464.9 275.8h0M442.7 261.1h0M469.5 269.5h0M479.8 262.1h0M469.1 261.1h0M427.5 256.6h0M462.4 264.0h0M474.1 245.0h0M447.1 278.4h0M462.7 280.9h0M460.5 252.7h0M435.6 259.8h0M476.8 271.6h0M478.0 255.9h0M440.9 270.5h0M482.5 262.4h0M447.7 266.1h0M445.8 270.8h0M448.4 272.6h0M470.0 271.5h0M441.6 263.0h0M446.7 279.8h0M460.7 270.2h0M454.3 265.2h0M455.9 259.6h0M443.9 264.1h0M432.9 259.9h0M452.6 282.2h0M423.0 255.4h0M464.7 269.5h0M446.2 260.6h0M453.1 275.2h0M430.7 258.0h0M475.2 265.8h0M452.6 264.6h0M461.7 278.2h0M463.6 262.6h0M446.1 264.7h0M477.0 271.0h0M444.9 263.6h0M461.1 252.8h0M438.8 260.5h0M459.1 281.5h0M425.9 256.9h0M458.6 270.5h0M454.6 260.8h0M456.3 271.1h0M471.4 245.2h0M470.8 239.1h0M447.6 270.6h0M471.2 237.3h0M480.4 266.2h0M457.8 279.7h0M472.3 262.8h0M448.7 274.3h0M468.8 251.3h0M454.9 274.5h0M458.5 263.3h0M447.4 263.7h0M471.3 268.1h0M423.8 254.9h0M462.6 250.0h0M448.0 259.8h0M448.1 260.2h0M454.1 288.7h0M466.7 256.8h0M485.0 257.3h0M471.2 272.9h0M471.8 240.8h0M455.9 254.2h0M446.7 267.9h0M455.4 286.3h0M461.5 245.9h0M459.0 246.0h0M471.4 252.1h0M464.5 239.6h0M441.1 262.7h0M464.6 248.8h0M416.5 250.6h0M450.5 259.5h0M427.8 259.7h0M427.1 256.7h0M454.2 285.8h0M456.5 277.1h0M445.3 271.3h0M453.6 253.0h0M467.5 271.5h0M448.7 264.1h0M460.6 284.4h0M441.4 261.9h0M473.0 243.8h0M461.3 249.3h0M436.3 260.4h0M461.1 271.2h0M440.2 261.0h0M457.8 273.5h0M462.3 264.7h0M478.4 263.8h0M424.7 253.8h0M444.5 267.4h0M455.0 272.7h0M439.9 266.8h0M445.7 266.1h0M461.9 245.1h0M458.9 284.4h0M451.7 292.1h0M460.3 272.9h0M438.1 262.4h0M450.4 286.8h0M424.3 254.2h0M454.7 262.8h0M457.5 279.7h0M423.2 253.9h0M430.3 261.1h0M453.5 283.2h0M471.1 254.7h0M467.6 267.6h0M465.3 253.9h0M466.1 253.8h0M427.3 260.6h0M476.0 266.0h0M455.4 274.7h0M429.1 260.3h0M470.9 252.1h0M461.3 268.3h0M473.0 275.9h0M460.1 277.2h0M453.0 277.2h0M456.0 267.7h0M432.4 260.6h0M467.9 247.7h0M455.7 252.9h0M462.2 275.4h0M464.2 256.7h0M439.2 260.3h0M447.0 271.0h0M441.8 264.4h0M453.5 266.2h0M452.8 256.2h0M426.8 256.3h0M470.7 268.0h0M461.8 256.6h0M463.1 256.7h0M469.6 266.3h0M443.2 264.1h0M449.3 278.5h0M434.9 260.7h0M454.7 279.1h0M454.5 282.9h0M460.2 282.4h0M461.9 242.9h0M464.5 263.9h0M460.9 271.2h0M468.4 271.7h0M436.9 268.5h0M474.5 274.5h0M471.2 258.3h0M478.8 263.9h0M461.3 257.8h0M473.4 258.7h0M460.4 252.4h0M464.4 232.0h0M446.4 261.0h0M458.6 268.1h0M459.2 275.6h0M448.9 271.7h0M470.4 270.7h0M450.6 274.1h0M448.1 268.8h0M449.3 269.8h0M468.6 261.9h0M438.6 259.9h0M450.0 263.6h0M456.0 269.1h0M451.4 290.1h0M439.7 265.8h0M446.6 262.1h0M441.2 260.8h0M460.3 252.3h0M461.8 243.1h0M427.8 257.9h0M444.2 265.3h0M469.9 254.5h0M438.0 264.1h0M450.9 285.8h0M463.8 261.8h0M428.7 259.3h0M441.3 263.6h0M463.9 255.7h0M460.1 252.4h0M433.1 257.7h0M457.5 253.7h0M462.4 247.5h0M445.6 266.7h0M458.1 269.9h0M464.0 277.0h0M475.2 250.1h0M459.3 278.9h0M436.0 262.9h0M445.2 263.1h0M447.9 261.2h0M445.5 261.5h0M432.7 259.2h0M447.1 272.4h0M481.2 265.5h0M462.3 262.3h0M464.8 262.2h0M464.9 259.4h0M473.8 242.6h0M421.6 253.3h0M469.2 275.8h0M419.2 250.9h0M445.4 261.2h0M466.0 229.3h0M423.8 254.5h0M415.2 247.0h0M467.9 264.8h0M458.9 278.8h0M454.4 286.3h0M465.1 259.3h0M468.6 239.2h0M456.9 250.8h0M460.8 274.1h0M458.1 262.7h0M446.0 263.1h0M425.3 255.4h0M449.8 259.3h0M467.6 274.4h0M461.6 277.9h0M415.5 247.9h0M454.8 277.1h0M447.5 269.2h0M434.2 259.8h0M429.7 259.2h0M466.4 253.6h0M471.4 269.8h0M459.5 257.7h0M442.7 263.1h0M436.9 263.0h0M450.5 277.3h0M419.6 250.6h0M460.4 271.7h0M417.3 249.9h0M425.6 255.3h0M479.0 253.6h0M460.5 249.1h0M432.9 261.0h0M465.7 272.2h0M469.7 273.8h0M471.4 248.0h0M443.4 267.5h0M433.3 258.9h0M436.8 264.1h0M450.5 284.1h0M462.9 264.7h0M434.9 260.8h0M477.5 253.4h0M464.6 267.7h0M467.7 262.9h0M464.8 249.8h0M447.4 271.6h0M444.1 265.0h0M463.0 267.8h0M413.5 246.6h0M462.2 251.8h0M445.1 272.9h0M457.3 271.6h0M468.3 249.8h0M481.3 256.5h0M473.7 266.0h0M450.4 262.8h0M456.6 272.0h0M461.6 251.1h0M448.3 278.6h0M445.7 277.2h0M435.7 259.0h0M454.9 286.8h0M440.6 260.8h0M425.2 254.9h0M473.1 262.2h0M460.9 247.1h0M450.6 282.2h0M446.2 267.3h0M442.5 261.6h0M452.6 274.6h0M464.1 239.0h0M487.6 257.0h0M470.7 242.4h0M421.9 254.5h0M450.6 273.2h0M470.9 266.3h0M469.7 262.3h0M471.0 243.8h0M426.3 256.4h0M471.7 255.8h0M452.8 273.3h0M449.1 260.5h0M456.0 274.6h0M465.7 272.0h0M461.3 257.8h0M465.1 227.1h0M425.6 255.6h0M456.4 285.3h0M439.0 265.1h0M456.2 286.7h0M450.9 289.8h0M452.2 278.3h0M479.1 250.3h0M458.8 274.1h0M470.1 246.6h0M444.3 261.0h0M453.7 277.1h0M420.0 251.5h0M454.1 252.5h0M470.4 265.7h0M454.1 286.0h0M425.5 254.7h0M458.1 244.4h0M437.5 261.0h0M431.3 258.8h0M414.9 247.8h0M440.2 267.5h0M467.2 252.6h0M449.7 265.7h0M432.8 264.3h0M476.0 247.3h0M432.1 261.9h0M467.5 272.0h0M420.3 251.7h0M461.9 245.2h0M459.2 251.6h0M460.5 246.9h0M479.2 254.5h0M462.1 269.7h0M447.0 262.9h0M466.0 269.1h0M449.1 268.0h0M442.9 263.5h0M471.4 261.7h0M448.0 261.9h0M470.5 268.1h0M457.9 268.0h0M455.1 263.7h0M471.2 257.4h0M445.7 264.6h0M465.8 273.0h0M473.8 258.9h0M461.8 239.6h0M457.9 272.7h0M426.5 257.5h0M448.8 268.7h0M464.2 256.5h0M470.9 256.3h0M471.7 261.5h0M433.1 259.8h0M461.0 268.6h0M459.3 273.9h0M457.3 262.0h0M424.5 253.9h0M451.9 254.1h0M462.0 268.2h0M461.7 266.2h0M457.3 280.3h0M457.7 274.7h0M472.6 258.3h0M478.5 252.6h0M456.2 271.5h0M453.9 282.6h0M426.8 258.3h0M450.3 275.5h0M434.9 262.0h0M446.8 258.0h0M447.8 262.7h0M417.1 249.8h0M448.4 280.2h0M480.7 257.5h0M473.9 271.2h0M481.0 253.0h0M462.8 251.3h0M416.0 248.2h0M463.9 272.0h0M444.4 264.4h0M459.0 241.8h0M449.8 258.4h0M462.6 245.9h0M462.1 282.1h0M425.1 256.5h0M467.0 241.7h0M481.4 256.0h0M467.8 236.9h0M456.6 263.6h0M436.9 259.2h0M429.9 258.3h0M450.9 257.2h0M451.1 278.6h0M460.5 241.5h0M464.4 237.0h0M432.9 263.5h0M461.1 249.2h0M438.8 263.0h0M438.7 261.1h0M457.7 261.8h0M445.1 261.6h0M449.9 262.4h0M467.0 274.1h0M436.5 259.0h0M461.5 248.8h0M461.5 247.5h0M442.9 262.9h0M474.1 258.9h0M450.7 287.9h0M464.6 270.0h0M473.4 260.8h0M482.0 258.6h0M459.4 236.8h0M460.2 272.9h0M477.2 266.3h0M436.3 264.7h0M468.9 268.4h0M466.7 272.2h0M463.6 241.6h0M461.5 252.3h0M461.5 250.8h0M449.3 272.4h0M456.6 272.1h0M429.2 259.5h0M461.6 250.8h0M429.8 259.1h0M474.5 268.1h0M462.8 256.9h0M464.1 250.4h0M425.8 255.8h0M458.0 283.5h0M421.4 252.2h0M425.1 256.3h0M450.4 279.2h0M423.4 253.8h0M467.2 241.5h0M421.2 253.4h0M462.3 263.1h0M457.4 251.1h0M452.8 257.6h0M452.0 284.5h0M456.5 276.6h0M450.3 288.9h0M445.2 262.0h0M426.1 255.3h0M466.1 274.2h0M463.5 265.1h0M457.4 271.3h0M459.0 249.4h0M449.4 276.7h0M466.9 228.1h0M417.6 250.0h0M462.5 258.5h0M416.4 249.0h0M480.5 258.5h0M468.5 239.6h0M433.8 260.1h0M462.1 276.2h0M453.6 290.3h0M462.3 248.1h0M454.7 263.0h0M466.6 252.7h0M439.5 261.2h0M469.0 248.4h0M462.1 254.0h0M467.0 251.7h0M461.9 275.2h0M461.1 256.1h0M454.6 281.9h0M444.9 267.9h0M451.0 286.6h0M447.3 264.3h0M463.3 238.5h0M464.3 258.8h0M437.3 258.5h0M471.7 269.3h0M457.0 263.1h0M425.7 257.1h0M470.3 270.7h0M439.2 263.6h0M438.7 260.0h0M461.3 268.8h0M459.6 281.2h0M481.3 257.5h0M425.5 255.4h0M457.0 284.1h0M426.2 257.8h0M454.5 275.1h0M451.1 270.6h0M422.2 254.3h0M433.1 259.6h0M455.2 285.4h0M452.2 272.5h0M438.1 264.7h0M421.0 253.7h0M461.7 274.9h0M457.2 266.1h0M453.5 264.1h0M420.1 251.3h0M466.8 263.4h0M434.2 259.7h0M450.6 271.8h0M440.4 261.2h0M462.7 267.1h0M446.0 265.8h0M469.7 254.8h0M464.5 278.1h0M467.9 276.5h0M445.9 260.9h0M457.8 264.3h0M419.9 251.5h0M432.2 258.8h0M462.3 245.6h0M465.0 254.7h0M462.2 259.4h0M443.3 261.9h0M434.3 260.4h0M435.7 260.2h0M420.5 252.4h0M455.6 271.0h0M459.5 272.4h0M430.2 257.5h0M463.4 252.1h0M476.1 253.3h0M474.5 265.8h0M447.4 276.4h0M451.9 260.7h0M449.7 277.7h0M448.0 262.9h0M461.5 254.7h0M458.4 273.6h0M445.8 260.3h0M439.1 263.3h0M455.2 270.1h0M454.9 267.3h0M460.5 282.6h0M466.2 258.9h0M472.8 266.5h0M471.8 266.3h0M460.8 270.5h0M452.9 275.1h0M455.3 267.5h0M448.4 283.0h0M438.3 261.9h0M462.9 238.1h0M466.6 259.5h0M467.5 247.4h0M464.1 231.5h0M449.5 274.3h0M455.2 266.2h0M449.5 279.3h0M464.8 241.6h0M457.0 246.5h0M425.7 255.2h0M465.8 246.6h0M453.1 273.7h0M446.4 262.8h0M446.9 264.0h0M463.2 240.1h0M446.3 266.4h0M470.8 264.8h0M463.7 246.4h0M453.2 284.1h0M444.9 261.3h0M453.3 268.4h0M470.1 272.1h0M425.7 255.8h0M451.8 281.4h0M465.9 252.2h0M468.2 271.2h0M460.6 255.4h0M455.1 282.8h0M439.3 258.1h0M469.2 238.9h0M464.9 263.5h0M423.0 255.2h0M431.9 265.1h0M456.3 277.5h0M465.2 250.6h0M431.6 259.6h0M450.8 287.1h0M468.5 266.1h0M463.3 250.4h0M420.8 252.6h0M461.7 250.7h0M461.1 280.9h0M460.0 278.8h0M487.6 260.3h0M460.0 277.9h0M434.0 262.0h0M464.0 279.0h0M478.0 263.6h0M481.4 257.6h0M462.0 248.4h0M464.6 248.9h0M453.1 263.2h0M470.8 258.1h0M466.8 248.6h0M467.4 252.1h0M466.4 237.6h0M428.8 257.9h0M462.9 279.5h0M468.3 264.7h0M423.1 253.7h0M462.9 256.4h0M462.6 251.4h0M449.7 276.8h0M456.1 265.0h0M444.9 260.4h0M457.7 272.9h0M468.0 265.0h0M445.5 261.1h0M455.7 267.5h0M418.8 252.8h0M467.4 249.0h0M484.6 259.3h0M430.4 259.6h0M446.2 266.7h0M465.6 265.7h0M459.7 275.5h0M451.7 276.4h0M420.6 251.7h0M469.7 274.2h0M456.0 280.9h0M438.8 264.9h0M456.3 285.6h0M458.1 273.5h0M438.7 260.7h0M454.6 256.7h0M460.8 238.2h0M461.3 270.9h0M457.5 281.5h0M427.6 258.9h0M446.4 261.1h0M465.9 244.7h0M471.6 245.2h0M462.0 279.1h0M447.0 263.9h0M446.4 273.4h0M431.2 260.9h0M481.1 253.7h0M449.0 262.5h0M445.9 263.5h0M471.9 265.9h0M469.7 263.7h0M454.8 261.6h0M471.6 262.0h0M480.2 263.9h0M482.9 258.1h0M466.4 245.8h0M447.5 272.4h0M437.7 261.6h0M476.0 269.8h0M421.6 252.5h0M479.8 257.8h0M457.0 258.3h0M457.5 261.4h0M442.7 260.2h0M453.8 265.0h0M465.8 270.4h0M446.8 257.2h0M460.3 280.2h0M449.7 276.0h0M452.9 272.5h0M457.6 266.1h0M444.7 272.8h0M462.1 271.3h0M457.8 270.6h0M468.8 273.9h0M458.3 265.3h0M448.0 265.3h0M469.8 264.2h0M457.8 259.5h0M458.8 262.9h0M465.4 273.9h0M469.3 266.5h0M421.8 254.2h0M470.9 267.4h0M454.7 261.7h0M467.3 273.8h0M461.6 271.4h0M420.8 252.4h0M440.8 262.4h0M462.7 243.6h0M461.5 255.2h0M440.3 265.7h0M466.3 254.4h0M432.0 260.3h0M438.8 265.4h0M466.3 260.2h0M476.5 262.7h0M460.8 280.6h0M461.7 253.5h0M433.4 258.4h0M454.0 270.1h0M459.0 265.8h0M480.0 264.8h0M462.7 282.5h0M439.3 261.2h0M465.3 246.9h0M461.5 245.6h0M430.7 258.8h0M461.5 271.6h0M421.0 251.7h0M445.5 266.5h0M434.7 261.1h0M460.2 276.3h0M430.1 259.8h0M463.9 273.5h0M456.5 271.7h0M442.0 264.6h0M439.9 259.8h0M443.6 270.0h0M462.1 271.6h0M460.7 263.2h0M441.8 261.5h0M464.2 248.9h0M463.8 248.5h0M460.9 234.4h0M468.8 241.2h0M462.6 267.0h0M444.8 262.4h0M464.5 254.9h0M475.3 258.2h0M483.2 260.7h0M465.1 234.2h0M468.4 240.4h0M481.6 259.4h0M475.1 266.6h0M476.7 263.6h0M424.6 255.4h0M459.8 271.3h0M441.7 267.3h0M416.6 248.7h0M454.8 281.9h0M447.8 265.7h0M461.6 273.2h0M465.8 264.1h0M447.8 265.8h0M455.4 286.2h0M431.9 257.6h0M474.5 263.2h0M464.8 267.2h0M446.4 263.1h0M462.0 279.8h0M462.3 263.8h0M461.5 281.8h0M417.7 249.4h0M467.2 276.3h0M472.4 266.0h0M452.0 275.3h0M460.0 254.5h0M441.1 261.2h0M431.9 261.4h0M440.6 258.7h0M464.0 234.4h0M474.2 267.5h0M452.8 265.5h0M454.9 261.5h0M441.1 262.1h0M459.7 247.6h0M463.7 256.6h0M442.7 263.3h0M457.1 269.6h0M464.7 266.0h0M464.0 262.6h0M458.7 266.0h0M478.9 260.2h0M462.7 251.5h0M418.1 249.4h0M460.7 263.7h0M465.0 264.0h0M457.7 276.2h0M475.2 267.3h0M459.1 283.2h0M466.1 243.5h0M485.5 261.4h0M444.8 263.5h0M457.3 267.6h0M440.2 264.0h0M456.8 265.0h0M474.7 250.3h0M482.8 264.0h0M447.3 266.0h0M463.5 247.3h0M466.7 258.5h0M440.1 263.6h0M462.1 239.1h0M424.7 256.1h0M469.5 266.8h0M453.5 289.3h0M453.5 281.5h0M466.5 262.9h0M476.0 259.1h0M443.7 266.3h0M461.7 265.8h0M451.5 279.9h0M465.3 243.7h0M459.7 269.5h0M457.2 259.7h0M468.3 275.2h0M463.4 273.8h0M459.7 246.9h0M465.2 275.9h0M457.6 281.5h0M476.1 251.7h0M447.5 273.1h0M448.4 261.0h0M475.8 246.0h0M454.6 254.0h0M446.8 260.4h0M463.1 259.7h0M459.6 268.2h0M457.1 251.0h0M458.8 260.8h0M477.0 264.8h0M430.3 261.5h0M470.7 245.1h0M481.7 265.0h0M448.1 266.8h0M463.3 262.6h0M460.2 255.2h0M459.4 244.4h0M441.0 261.2h0M438.4 261.0h0M425.5 255.2h0M437.1 264.9h0M465.6 238.3h0M430.7 258.5h0M456.1 289.2h0M463.0 268.0h0M416.4 249.8h0M458.4 277.1h0M470.7 241.9h0M446.3 270.5h0M464.3 231.7h0M449.0 282.1h0M457.2 256.7h0M462.0 255.7h0M461.3 239.6h0M436.9 266.6h0M461.0 236.2h0M475.9 271.8h0M472.2 273.3h0M463.2 272.3h0M461.6 266.5h0M458.0 260.3h0M471.6 270.9h0M462.6 266.2h0M464.3 260.6h0M465.7 253.5h0M484.0 257.5h0M453.3 277.0h0M454.8 280.3h0M453.8 262.4h0M486.1 258.6h0M482.8 256.3h0M465.7 271.6h0M472.4 246.9h0M437.5 262.8h0M446.9 273.0h0M481.1 254.2h0M479.7 250.6h0M456.6 266.6h0M464.6 229.6h0M428.4 256.3h0M435.2 260.0h0M463.5 259.5h0M460.8 245.3h0M461.9 275.7h0M457.2 275.6h0M459.2 273.0h0M455.2 271.8h0M464.2 268.7h0M463.7 243.2h0M449.7 278.5h0M429.0 257.4h0M450.6 285.4h0M446.4 261.9h0M465.7 232.1h0M462.2 268.9h0M419.0 251.0h0M469.3 264.3h0M464.0 269.6h0M456.6 280.8h0M465.8 237.3h0M420.9 252.1h0M456.3 252.6h0M453.4 284.3h0M427.2 257.3h0M433.2 262.9h0M455.0 246.1h0M429.7 257.1h0M440.5 260.8h0M475.2 246.4h0M447.5 266.6h0M461.6 258.8h0M461.3 251.7h0M468.0 237.9h0M429.6 260.2h0M474.0 269.3h0M466.8 230.8h0M454.0 257.2h0M457.1 271.5h0M466.8 265.2h0M446.4 261.9h0M471.1 259.3h0M458.9 260.5h0M464.2 278.4h0M467.2 277.7h0M453.1 243.0h0M461.1 267.3h0M480.1 256.2h0M428.9 261.8h0M442.0 260.5h0M421.0 251.7h0M467.5 279.2h0M456.2 275.0h0M464.6 276.2h0M457.9 261.5h0M477.5 262.2h0M427.2 258.1h0M462.2 268.6h0M466.0 246.6h0M460.4 258.3h0M429.2 258.6h0M454.3 263.3h0M461.6 267.3h0M474.9 258.3h0M463.2 235.9h0M459.0 244.8h0M415.0 247.5h0M461.6 265.0h0M448.2 258.1h0M467.7 245.9h0M479.6 266.6h0M447.2 278.2h0M414.2 246.7h0M430.5 258.0h0M415.8 248.8h0M431.8 258.0h0M461.8 262.1h0M466.6 256.0h0M437.5 261.9h0M465.0 259.8h0M454.6 248.4h0M463.3 264.4h0M463.0 241.1h0M424.5 257.8h0M466.9 244.5h0M443.4 260.7h0M453.7 270.0h0M445.0 264.2h0M471.5 251.6h0M434.7 260.3h0M464.4 264.1h0M466.5 259.9h0M460.8 239.5h0M429.1 260.4h0M465.4 275.5h0M464.1 266.0h0M462.0 257.8h0M471.4 267.5h0M433.8 264.6h0M442.6 263.7h0M476.8 265.5h0M464.0 254.5h0M474.3 269.4h0M420.8 253.5h0M459.7 237.3h0M415.7 249.4h0M456.5 262.7h0M467.2 279.0h0M424.4 255.6h0M430.9 260.4h0M461.1 254.7h0M463.5 264.8h0M471.2 253.7h0M465.9 275.1h0M451.7 281.2h0M464.6 244.9h0M445.7 266.5h0M477.6 261.5h0M432.7 259.7h0M451.6 274.9h0M449.1 272.4h0M464.1 275.4h0M458.5 269.7h0M453.7 270.3h0M458.2 279.8h0M434.3 262.1h0M460.6 261.3h0M486.1 257.4h0M453.5 287.9h0M456.9 278.7h0M473.2 258.4h0M454.7 249.8h0M448.9 262.8h0M463.5 277.1h0M461.6 280.9h0M447.1 269.1h0M428.8 257.4h0M423.6 253.5h0M429.7 260.4h0M444.3 257.7h0M458.1 285.6h0M437.4 260.6h0M420.8 253.2h0M461.1 279.5h0M460.1 275.1h0M445.5 276.7h0M430.5 260.9h0M465.1 242.7h0M458.4 282.3h0M460.1 268.4h0M460.5 267.7h0M462.8 237.6h0M427.7 256.5h0M481.6 259.4h0M465.7 243.9h0M445.6 266.5h0M451.6 263.4h0M447.4 268.5h0M458.5 265.1h0M458.4 255.7h0M467.9 260.2h0M446.5 271.2h0M470.4 250.4h0M460.7 272.4h0M467.7 267.6h0M450.6 273.8h0M445.4 260.6h0M450.5 270.7h0M420.9 251.6h0M458.8 258.1h0M443.9 258.1h0M479.3 261.6h0M430.8 258.6h0M469.6 245.6h0M453.6 283.0h0M478.1 254.9h0M448.1 265.4h0M463.6 268.3h0M465.7 253.4h0M457.3 247.6h0M475.5 263.3h0M478.5 256.9h0M465.5 252.5h0M458.1 260.3h0M422.0 253.3h0M459.2 241.1h0M478.4 261.6h0M459.5 267.4h0M448.9 268.7h0M447.4 268.1h0M475.1 260.7h0M427.3 258.2h0M463.0 239.0h0M451.2 276.9h0M465.9 244.7h0M467.2 267.2h0M481.7 260.1h0M473.5 269.1h0M448.0 272.6h0M461.4 273.0h0M467.4 272.7h0M469.3 265.2h0M465.0 243.1h0M458.7 283.3h0M468.8 231.6h0M443.1 266.7h0M468.5 235.7h0M414.5 247.3h0M430.3 258.1h0M463.5 243.7h0M435.7 263.9h0M464.8 251.8h0M425.2 255.8h0M460.5 245.3h0M429.0 256.5h0M460.1 242.0h0M468.4 273.5h0M463.4 247.9h0M447.7 275.3h0M466.1 251.7h0M459.6 247.4h0M452.2 275.5h0M453.6 263.5h0M425.7 255.8h0M433.6 258.3h0M471.8 269.9h0M441.2 262.8h0M461.5 261.1h0M461.3 254.4h0M466.2 267.6h0M450.3 282.7h0M439.1 261.7h0M456.6 270.1h0M456.8 254.9h0M433.8 259.5h0M441.2 261.1h0M476.1 269.1h0M451.4 271.2h0M481.7 256.0h0M420.6 252.3h0M482.0 259.7h0M479.9 252.4h0M454.9 274.4h0M461.6 270.6h0M461.6 255.9h0M466.4 243.5h0M422.2 253.0h0M469.2 272.3h0M429.2 258.6h0M449.8 258.5h0M458.5 269.1h0M455.9 262.2h0M439.0 259.0h0M459.7 278.7h0M433.1 259.3h0M433.6 260.4h0M453.5 259.6h0M434.6 262.1h0M416.9 248.7h0M456.0 285.2h0M471.5 273.0h0M448.8 273.6h0M421.7 254.4h0M444.2 259.3h0M461.6 255.0h0M456.3 261.1h0M436.2 263.1h0M429.2 258.0h0M462.6 254.6h0M461.7 269.4h0M424.7 256.4h0M472.6 250.2h0M433.3 261.1h0M442.2 266.1h0M468.0 254.2h0M462.9 244.6h0M445.6 257.9h0M451.8 279.3h0M467.4 239.8h0M461.1 276.8h0M430.1 257.3h0M420.7 252.5h0M477.5 258.5h0M453.7 284.6h0M468.0 267.1h0M445.9 263.7h0M417.8 250.3h0M464.8 228.4h0M450.0 282.5h0M476.5 255.4h0M430.1 259.9h0M471.6 269.4h0M448.3 265.5h0M462.5 264.3h0M441.2 264.1h0M466.4 258.9h0M447.9 266.4h0M434.9 258.8h0M446.0 259.4h0M468.9 271.8h0M416.1 248.8h0M428.1 259.5h0M425.3 255.7h0M449.5 260.9h0M445.9 271.3h0M457.2 261.4h0M471.5 258.1h0M448.6 264.0h0M461.1 233.5h0M470.6 253.7h0M445.2 266.4h0M449.5 272.1h0M451.5 279.4h0M452.2 287.9h0M431.1 258.9h0M445.0 258.6h0M461.3 266.6h0M443.0 261.4h0M447.0 267.3h0M471.2 273.1h0M464.3 260.1h0M461.7 246.8h0M475.8 264.3h0M418.9 251.5h0M452.5 270.1h0M455.9 267.7h0M463.3 280.8h0M462.7 268.6h0M434.9 258.8h0M460.8 260.0h0M423.4 253.7h0M481.5 257.5h0M467.4 250.0h0M431.8 259.2h0M459.2 266.6h0M463.4 253.0h0M454.7 288.3h0M456.6 265.5h0M447.0 262.1h0M433.7 258.9h0M455.3 263.5h0M452.6 287.8h0M434.3 262.9h0M464.5 253.4h0M446.3 267.9h0M419.6 252.1h0M463.8 278.1h0M420.9 252.3h0M476.7 255.4h0M454.5 273.3h0M461.6 264.2h0M450.5 272.6h0M440.1 269.1h0M461.4 274.0h0M455.6 272.3h0M454.7 271.6h0M455.5 266.2h0M447.0 275.3h0M449.1 275.2h0M470.0 268.2h0M439.0 263.9h0M415.2 247.2h0M456.0 272.3h0M421.2 253.4h0M459.1 259.7h0M446.8 268.1h0M463.1 253.1h0M449.7 262.4h0M416.2 248.6h0M451.4 260.5h0" stroke="#c2bfbf" stroke-width="1.35" stroke-linecap="round" fill="none"/>
<path d="M460.3 246.3h0M465.3 226.8h0M462.2 247.6h0M465.2 233.9h0M472.8 240.2h0M472.7 264.3h0M466.3 228.8h0M463.8 239.6h0M463.2 228.1h0M464.6 229.6h0" stroke="#c4504a" stroke-width="1.35" stroke-linecap="round" fill="none"/>
<path d="M466.3 250.0h0M477.0 255.0h0M470.8 252.2h0M461.8 233.4h0M466.2 232.7h0M462.2 241.6h0M462.3 234.2h0M468.6 232.5h0M465.3 226.8h0M484.2 260.5h0" stroke="#a83230" stroke-width="1.35" stroke-linecap="round" fill="none"/>
<path d="M466.2 228.5h0M458.1 245.9h0M464.9 227.9h0M464.2 226.9h0M435.0 262.2h0M464.2 230.1h0M469.7 239.9h0" stroke="#b43c36" stroke-width="1.35" stroke-linecap="round" fill="none"/>
<path d="M465.1 229.4h0M442.6 265.1h0M465.1 234.1h0M462.7 249.3h0M465.9 237.8h0M466.3 228.5h0M472.5 239.5h0M470.1 258.1h0M422.2 254.7h0M472.4 241.4h0" stroke="#d07a72" stroke-width="1.35" stroke-linecap="round" fill="none"/>
<path d="M449.5 282.9h0M466.1 227.6h0M464.2 232.7h0M463.2 239.4h0" stroke="#d89890" stroke-width="1.35" stroke-linecap="round" fill="none"/>
<rect x="498.60" y="215.40" width="4.20" height="104.10" fill="url(#cm)" stroke="#3a3a3a" stroke-width="0.8"/>
<line x1="502.80" y1="228.70" x2="505.80" y2="228.70" stroke="#333" stroke-width="0.9"/>
<text x="508.60" y="231.05" font-size="6.6" fill="#333">8</text>
<line x1="502.80" y1="251.90" x2="505.80" y2="251.90" stroke="#333" stroke-width="0.9"/>
<text x="508.60" y="254.25" font-size="6.6" fill="#333">6</text>
<line x1="502.80" y1="274.00" x2="505.80" y2="274.00" stroke="#333" stroke-width="0.9"/>
<text x="508.60" y="276.35" font-size="6.6" fill="#333">4</text>
<line x1="502.80" y1="296.70" x2="505.80" y2="296.70" stroke="#333" stroke-width="0.9"/>
<text x="508.60" y="299.05" font-size="6.6" fill="#333">2</text>
<line x1="502.80" y1="319.20" x2="505.80" y2="319.20" stroke="#333" stroke-width="0.9"/>
<text x="508.60" y="321.55" font-size="6.6" fill="#333">0</text>
<line x1="19.80" y1="356.70" x2="107.00" y2="356.70" stroke="#a2a2a2" stroke-width="0.75"/>
<line x1="19.80" y1="356.70" x2="21.30" y2="415.20" stroke="#a2a2a2" stroke-width="0.75"/>
<line x1="75.70" y1="356.70" x2="75.70" y2="410.40" stroke="#a2a2a2" stroke-width="0.75"/>
<line x1="107.00" y1="356.70" x2="104.10" y2="428.50" stroke="#a2a2a2" stroke-width="0.75"/>
<line x1="21.30" y1="415.20" x2="75.50" y2="410.40" stroke="#a2a2a2" stroke-width="0.75"/>
<line x1="75.50" y1="410.40" x2="104.10" y2="428.50" stroke="#a2a2a2" stroke-width="0.75"/>
<line x1="21.30" y1="415.20" x2="35.00" y2="438.50" stroke="#a2a2a2" stroke-width="0.75"/>
<line x1="35.00" y1="438.50" x2="104.10" y2="428.50" stroke="#a2a2a2" stroke-width="0.75"/>
<line x1="18.10" y1="407.20" x2="17.01" y2="361.60" stroke="#1a1a1a" stroke-width="1.0"/>
<path d="M16.90 357.10L19.64 363.04L17.01 361.80L14.44 363.16Z" fill="#111"/>
<line x1="30.30" y1="436.20" x2="23.08" y2="423.88" stroke="#1a1a1a" stroke-width="1.0"/>
<path d="M20.80 420.00L26.08 423.86L23.18 424.05L21.59 426.49Z" fill="#111"/>
<line x1="103.20" y1="431.80" x2="44.15" y2="440.63" stroke="#1a1a1a" stroke-width="1.0"/>
<path d="M39.70 441.30L45.25 437.84L44.35 440.60L46.02 442.98Z" fill="#111"/>
<text x="9.15" y="382.40" font-size="8.2" text-anchor="middle" transform="rotate(90 9.15 382.40)" textLength="14.3" lengthAdjust="spacingAndGlyphs">DC2</text>
<text x="19.21" y="434.46" font-size="8.4" text-anchor="middle" transform="rotate(59 19.21 434.46)" textLength="14.3" lengthAdjust="spacingAndGlyphs">DC3</text>
<text x="73.94" y="445.05" font-size="8.0" text-anchor="middle" transform="rotate(-8.7 73.94 445.05)" textLength="13.8" lengthAdjust="spacingAndGlyphs">DC1</text>
<text x="17.50" y="341.80" font-size="6.6" textLength="92.2" lengthAdjust="spacingAndGlyphs" fill="#222" stroke="#222" stroke-width="0.15">SLAMF1 - ENSMUSG00000015316</text>
<path d="M60.8 401.7h0M74.8 407.2h0M78.5 361.9h0M78.8 406.2h0M72.3 402.8h0M53.7 391.5h0M79.4 371.7h0M58.7 396.6h0M54.1 391.0h0M85.0 372.5h0M59.2 397.8h0M69.5 407.1h0M80.9 392.5h0M76.7 409.1h0M80.3 401.3h0M77.3 364.4h0M30.4 379.2h0M55.0 390.0h0M88.0 380.8h0M47.8 391.7h0M55.3 397.2h0M67.9 420.4h0M37.7 384.6h0M96.5 389.5h0M94.8 399.1h0M74.3 390.1h0M66.6 400.4h0M91.3 383.1h0M40.8 386.9h0M79.8 392.3h0M73.7 386.7h0M90.5 382.5h0M44.8 387.6h0M81.3 362.7h0M73.1 384.3h0M78.0 397.3h0M68.5 401.8h0M50.0 391.7h0M72.6 407.8h0M85.2 390.5h0M72.8 412.4h0M72.4 370.9h0M76.8 402.2h0M87.1 401.5h0M57.5 397.0h0M83.1 391.1h0M67.5 405.6h0M50.2 391.5h0M73.0 393.3h0M76.1 403.1h0M72.1 383.0h0M84.8 389.1h0M37.2 383.2h0M67.7 391.9h0M85.8 400.4h0M82.8 400.0h0M60.8 396.8h0M96.4 387.2h0M70.8 409.0h0M73.1 387.9h0M77.5 406.0h0M73.3 398.6h0M75.8 370.4h0M58.6 395.3h0M68.2 406.2h0M79.5 398.6h0M72.2 396.2h0M72.4 406.6h0M67.8 405.3h0M77.5 383.1h0M77.5 406.4h0M83.5 396.4h0M73.2 383.6h0M60.2 398.3h0M79.0 389.2h0M75.2 381.7h0M59.3 405.4h0M46.3 388.5h0M75.9 400.8h0M61.2 392.3h0M84.1 384.0h0M75.4 378.6h0M76.3 401.8h0M80.0 403.8h0M72.1 412.1h0M71.1 383.7h0M67.0 402.9h0M55.4 391.7h0M48.0 393.7h0M83.5 397.0h0M58.5 392.4h0M33.6 382.2h0M72.7 413.5h0M70.5 403.2h0M81.1 397.6h0M31.2 381.2h0M40.1 385.8h0M89.2 391.8h0M67.8 408.5h0M78.3 364.0h0M79.1 389.6h0M59.0 387.5h0M75.6 382.9h0M81.3 372.7h0M81.8 406.1h0M71.6 410.2h0M34.5 381.8h0M65.2 409.9h0M83.7 377.6h0M73.3 387.9h0M81.0 364.8h0M40.8 385.8h0M42.3 387.6h0M60.0 394.5h0M80.7 408.0h0M66.3 389.5h0M83.6 375.9h0M53.5 390.0h0M78.4 390.3h0M75.3 394.3h0M89.8 385.2h0M76.7 369.3h0M43.2 388.1h0M82.5 400.6h0M43.8 390.5h0M54.7 397.5h0M75.9 402.4h0M58.6 393.4h0M42.7 388.7h0M90.1 399.5h0M71.8 408.5h0M78.0 408.7h0M65.9 409.0h0M74.8 402.7h0M33.1 381.0h0M72.5 408.4h0M84.4 392.6h0M78.4 395.0h0M66.8 402.8h0M79.9 392.0h0M77.5 384.5h0M75.3 373.5h0M73.9 405.9h0M45.1 388.6h0M66.6 401.4h0M37.3 383.3h0M85.6 385.6h0M79.9 381.2h0M52.8 391.5h0M54.3 391.4h0M73.1 392.6h0M74.8 410.6h0M96.2 387.1h0M55.0 393.3h0M69.1 395.8h0M83.6 390.9h0M39.4 385.0h0M42.4 387.6h0M72.0 394.4h0M88.7 393.4h0M69.1 407.0h0M73.2 409.2h0M65.2 412.8h0M73.5 413.2h0M82.7 403.3h0M85.4 390.4h0M55.5 394.1h0M81.2 405.3h0M72.9 379.4h0M73.7 389.4h0M47.4 387.8h0M70.0 391.9h0M77.1 407.3h0M74.2 380.6h0M93.7 388.9h0M86.7 395.0h0M67.9 401.1h0M34.9 381.9h0M72.4 385.3h0M88.7 398.7h0M65.1 399.0h0M76.4 395.8h0M71.0 415.0h0M80.9 395.1h0M49.9 389.8h0M72.3 398.7h0M52.1 396.2h0M83.6 400.8h0M66.2 405.1h0M71.9 389.1h0M41.0 385.8h0M80.5 399.9h0M55.5 390.4h0M53.0 392.6h0M33.8 380.8h0M68.8 388.6h0M74.8 386.4h0M40.9 388.1h0M77.9 397.5h0M70.0 413.0h0M86.8 401.8h0M63.8 405.8h0M83.4 404.9h0M49.9 390.0h0M76.0 390.7h0M73.6 413.2h0M71.4 412.8h0M78.7 409.0h0M83.8 406.3h0M83.7 390.7h0M41.9 386.5h0M75.2 368.0h0M92.1 392.1h0M79.6 373.0h0M72.3 408.0h0M77.6 387.6h0M91.7 395.7h0M61.0 394.3h0M68.6 401.8h0M45.8 389.0h0M86.0 401.1h0M82.1 363.7h0M76.7 393.3h0M40.7 386.4h0M90.2 402.6h0M71.5 392.1h0M77.5 402.7h0M99.4 392.4h0M75.7 394.8h0M68.5 384.7h0M98.2 389.7h0M78.2 394.5h0M73.7 390.6h0M86.7 397.0h0M80.6 390.2h0M50.3 391.4h0M87.0 405.8h0M70.6 390.0h0M88.1 401.2h0M77.8 399.2h0M50.9 388.3h0M50.7 390.2h0M42.1 388.3h0M59.9 402.8h0M46.6 391.6h0M79.1 392.1h0M65.0 384.7h0M64.4 400.2h0M81.9 371.7h0M65.4 402.0h0M62.8 403.3h0M80.4 408.7h0M66.6 405.3h0M29.0 376.5h0M48.4 393.4h0M74.4 404.7h0M82.9 403.4h0M44.1 387.5h0M78.0 403.7h0M46.0 392.1h0M66.1 392.1h0M62.3 399.1h0M87.8 402.6h0M68.2 400.3h0M76.9 384.8h0M62.9 392.6h0M76.0 408.7h0M73.3 412.7h0M82.5 372.5h0M89.6 375.1h0M37.4 383.3h0M84.3 392.1h0M73.9 373.4h0M63.9 397.7h0M39.0 385.0h0M81.8 381.5h0M72.4 403.2h0M47.5 388.9h0M71.6 406.0h0M79.8 397.5h0M70.7 374.1h0M60.5 391.6h0M50.7 390.0h0M56.1 394.8h0M96.6 388.4h0M90.1 376.7h0M46.2 390.4h0M77.9 385.2h0M75.5 392.7h0M67.6 410.6h0M89.5 394.2h0M74.7 410.5h0M84.1 369.3h0M76.5 387.6h0M82.4 403.6h0M94.7 391.8h0M80.1 374.9h0M53.9 392.5h0M93.5 388.8h0M67.9 408.6h0M69.6 421.2h0M57.2 390.2h0M75.8 391.2h0M74.6 398.7h0M49.8 390.0h0M70.0 398.6h0M51.7 389.6h0M96.5 385.1h0M83.8 387.0h0M32.6 381.7h0M45.3 388.1h0M75.6 368.1h0M71.1 410.7h0M69.8 418.7h0M65.3 411.6h0M76.7 395.4h0M71.0 409.1h0M90.0 395.7h0M89.0 392.0h0M64.2 403.4h0M34.1 381.9h0M101.2 388.2h0M86.1 373.9h0M48.9 392.2h0M69.7 387.5h0M87.8 396.8h0M81.4 401.4h0M77.3 379.9h0M85.2 399.5h0M103.3 389.1h0M77.7 362.5h0M65.7 410.1h0M95.4 386.4h0M71.3 381.1h0M76.8 374.7h0M70.1 408.7h0M81.5 405.4h0M39.8 386.9h0M60.8 398.7h0M33.9 383.7h0M71.5 393.1h0M74.6 406.4h0M49.4 390.7h0M79.4 386.6h0M80.6 393.6h0M80.2 395.2h0M60.7 390.5h0M54.8 391.5h0M84.0 366.2h0M76.1 375.5h0M68.4 408.6h0M75.6 384.8h0M65.1 408.5h0M42.1 386.4h0M85.3 404.1h0M53.6 390.5h0M62.5 397.6h0M77.5 396.2h0M74.0 400.7h0M51.7 388.6h0M73.7 408.9h0M74.7 406.2h0M64.9 408.9h0M59.5 392.7h0M49.9 389.4h0M93.3 394.6h0M34.2 381.6h0M77.2 362.4h0M74.3 377.6h0M86.0 371.5h0M39.4 388.6h0M75.4 406.5h0M73.8 399.1h0M61.4 408.7h0M83.8 402.7h0M61.1 393.4h0M79.1 373.7h0M93.2 386.2h0M65.6 410.6h0M83.3 376.7h0M60.4 392.0h0M90.0 398.8h0M72.4 375.4h0M69.2 374.9h0M80.7 368.9h0M87.5 379.7h0M41.9 386.0h0M76.5 367.5h0M77.4 362.4h0M72.3 392.9h0M83.1 404.1h0M87.3 392.3h0M79.8 404.9h0M73.1 409.7h0M93.1 386.7h0M73.0 401.1h0M58.5 392.7h0M77.0 396.5h0M49.9 389.5h0M62.1 390.9h0M77.0 374.7h0M67.7 396.2h0M30.5 378.0h0M69.8 393.4h0M82.4 403.7h0M30.2 377.8h0M90.3 393.8h0M42.6 387.1h0M88.6 377.4h0M85.1 365.4h0M77.7 392.0h0M78.5 407.5h0M46.4 390.3h0M78.3 365.6h0M69.0 377.1h0M79.9 404.7h0M77.8 384.0h0M68.4 416.9h0M74.1 404.7h0M77.4 394.1h0M93.8 388.8h0M63.8 393.0h0M72.2 410.1h0M32.3 380.7h0M34.5 380.6h0M78.5 395.6h0M69.5 413.6h0M74.4 402.6h0M76.8 413.6h0M79.2 407.4h0M62.9 395.6h0M60.1 398.8h0M69.2 401.3h0M43.6 389.1h0M88.5 382.7h0M60.8 398.1h0M92.7 386.3h0M83.0 399.3h0M76.7 386.7h0M54.5 391.9h0M82.0 381.4h0M79.1 389.0h0M69.4 386.7h0M87.9 382.7h0M84.2 404.5h0M98.6 389.5h0M59.8 395.6h0M74.3 408.7h0M62.4 391.4h0M86.7 400.4h0M79.4 375.0h0M65.9 402.5h0M71.4 404.1h0M91.7 397.1h0M70.1 416.5h0M62.6 401.5h0M72.0 379.2h0M50.6 395.0h0M33.8 381.9h0M80.7 365.9h0M63.5 406.7h0M78.3 397.6h0M58.8 393.6h0M83.2 392.8h0M54.2 389.7h0M62.0 401.5h0M78.4 394.1h0M29.9 379.0h0M62.6 410.7h0M94.8 383.8h0M89.5 398.7h0M74.7 387.3h0M88.7 381.1h0M75.9 390.7h0M74.0 404.5h0M75.2 396.2h0M78.1 364.5h0M73.8 372.2h0M73.2 416.4h0M74.7 404.1h0M37.6 383.9h0M66.9 411.0h0M81.2 375.8h0M73.2 406.8h0M37.9 383.9h0M65.2 411.1h0M67.2 385.7h0M73.1 386.2h0M90.8 381.3h0M31.1 379.1h0M54.7 397.8h0M74.6 400.9h0M66.3 416.2h0M39.4 385.3h0M88.2 398.1h0M81.1 406.6h0M74.7 373.5h0M55.6 394.4h0M77.6 409.8h0M86.6 377.7h0M56.7 392.3h0M73.4 410.5h0M71.4 398.9h0M90.9 381.6h0M56.9 393.1h0M83.1 384.2h0M79.7 370.2h0M75.2 386.3h0M92.4 388.8h0M65.5 407.3h0M73.1 387.3h0M45.6 389.5h0M78.4 386.0h0M77.7 408.8h0M67.8 412.5h0M46.7 388.1h0M43.9 387.9h0M100.7 387.1h0M70.0 396.5h0M69.4 407.2h0M51.6 394.4h0M78.8 357.3h0M80.4 390.9h0M45.9 390.1h0M76.3 389.7h0M30.9 379.1h0M59.6 396.1h0M82.4 401.6h0M89.7 386.1h0M39.8 384.8h0M45.8 390.4h0M101.1 388.2h0M57.5 390.2h0M70.6 380.1h0M43.8 390.5h0M63.0 409.0h0M63.1 409.4h0M65.8 413.5h0M74.7 407.0h0M98.3 390.5h0M49.6 392.2h0M71.5 405.0h0M68.2 413.2h0M72.8 393.4h0M41.6 387.4h0M83.9 388.7h0M74.6 413.2h0M67.2 394.8h0M86.3 396.8h0M42.3 385.0h0M69.1 388.1h0M74.7 402.6h0M80.0 365.1h0M57.6 394.5h0M63.8 406.4h0M80.4 366.6h0M67.4 417.9h0M36.5 383.9h0M32.2 379.0h0M89.9 389.6h0M51.1 393.0h0M60.3 390.6h0M60.7 397.9h0M96.4 390.5h0M43.3 388.7h0M77.5 375.1h0M71.5 397.8h0M78.7 400.2h0M77.2 383.4h0M29.3 377.0h0M90.5 392.9h0M62.9 412.7h0M62.1 403.3h0M62.6 397.8h0M65.0 406.3h0M95.1 396.6h0M76.7 411.2h0M74.8 405.1h0M72.2 400.2h0M66.7 385.3h0M81.0 403.8h0M62.7 409.9h0M57.4 397.0h0M70.0 384.0h0M56.9 392.0h0M75.9 392.5h0M85.4 381.6h0M66.0 408.2h0M75.5 403.0h0M68.1 415.1h0M79.3 400.1h0M82.5 378.5h0M86.4 383.9h0M53.9 392.8h0M79.7 366.9h0M65.0 391.9h0M72.9 398.2h0M35.3 382.6h0M80.3 374.9h0M84.4 383.2h0M79.7 403.9h0M81.5 393.8h0M73.1 407.5h0M61.3 402.3h0M37.1 383.3h0M68.2 382.0h0M62.0 390.2h0M51.7 391.8h0M70.6 394.3h0M36.5 383.5h0M61.7 388.9h0M96.2 395.7h0M55.1 395.3h0M75.0 399.2h0M60.2 391.9h0M82.3 400.9h0M79.3 406.8h0M88.3 378.4h0M76.2 398.9h0M81.9 377.4h0M84.3 388.3h0M71.0 400.7h0M62.0 391.0h0M77.0 399.6h0M36.6 383.6h0M81.4 381.9h0M79.6 400.5h0M92.5 380.5h0M53.3 388.9h0M70.9 403.9h0M66.2 420.0h0M38.0 383.1h0M69.9 401.9h0M82.9 385.4h0M99.0 392.1h0M90.5 394.6h0M77.6 385.6h0M56.8 390.6h0M69.4 398.3h0M39.2 385.1h0M81.7 397.6h0M70.5 395.3h0M75.7 386.6h0M81.0 373.1h0M70.8 412.6h0M73.0 379.5h0M88.0 398.0h0M72.1 385.8h0M83.4 403.8h0M29.7 378.0h0M75.9 402.9h0M40.7 387.7h0M65.3 409.2h0M65.2 398.8h0M79.7 394.8h0M89.3 397.8h0M78.3 387.8h0M36.6 385.6h0M76.9 394.8h0M86.6 391.8h0M70.2 403.3h0M41.3 385.8h0M74.3 409.7h0M82.6 405.8h0M70.2 374.5h0M58.5 391.0h0M78.9 382.4h0M64.0 410.9h0M77.4 384.6h0M76.4 395.9h0M93.1 390.4h0M78.0 376.6h0M79.8 410.4h0M79.6 359.4h0M65.7 404.5h0M71.5 415.8h0M61.2 393.4h0M89.5 390.1h0M86.7 392.4h0M67.5 408.8h0M68.1 409.8h0M61.8 393.0h0M83.6 398.4h0M80.7 370.5h0M76.4 401.7h0M74.7 398.1h0M80.0 393.4h0M42.7 386.9h0M65.8 401.0h0M76.2 388.9h0M62.6 404.8h0M61.9 405.1h0M66.9 397.8h0M30.0 377.6h0M46.0 390.8h0M43.2 389.0h0M82.4 368.4h0M77.5 362.1h0M81.5 387.3h0M71.6 413.0h0M77.1 402.3h0M68.8 380.3h0M52.3 388.6h0M80.0 390.5h0M76.0 392.4h0M79.2 374.1h0M75.6 398.0h0M35.8 382.6h0M37.7 384.6h0M76.7 407.7h0M78.5 388.5h0M48.8 389.3h0M48.1 393.8h0M61.8 401.7h0M99.5 387.0h0M77.3 403.6h0M91.7 389.0h0M62.0 395.3h0M89.4 392.6h0M73.5 412.3h0M68.6 392.4h0M63.8 403.7h0M57.5 394.4h0M70.9 390.8h0M80.1 391.6h0M58.6 394.0h0M93.7 390.6h0M40.5 386.5h0M78.8 378.4h0M86.9 391.7h0M80.7 396.0h0M73.9 391.5h0M90.2 381.9h0M81.9 364.7h0M70.6 396.9h0M82.8 363.5h0M73.7 372.1h0M81.9 397.2h0M74.7 384.6h0M76.0 397.2h0M83.6 385.2h0M33.2 381.5h0M62.3 401.0h0M92.2 379.6h0M44.9 390.3h0M87.1 393.0h0M49.8 390.9h0M84.2 372.4h0M32.6 380.0h0M78.4 383.3h0M59.5 391.1h0M58.2 392.6h0M97.4 388.2h0M84.5 397.4h0M36.5 383.5h0M72.8 405.7h0M71.6 397.9h0M59.7 390.9h0M81.7 399.1h0M73.3 399.1h0M62.3 394.8h0M90.0 393.2h0M53.1 391.9h0M66.3 401.3h0M90.7 384.6h0M83.9 404.5h0M51.4 393.2h0M82.3 366.4h0M48.2 390.7h0M71.0 413.8h0M80.6 406.4h0M58.0 390.5h0M78.9 392.9h0M66.2 407.2h0M76.5 371.0h0M74.5 392.0h0M91.3 390.7h0M42.2 385.7h0M81.3 398.9h0M56.6 394.6h0M70.3 411.6h0M74.3 409.4h0M65.3 406.2h0M84.1 376.1h0M65.3 394.3h0M56.7 391.1h0M92.3 393.8h0M71.5 414.0h0M82.4 401.1h0M36.2 381.9h0M32.3 379.9h0M75.9 390.0h0M77.7 394.7h0M75.5 378.8h0M64.9 417.3h0M32.8 380.3h0M93.5 383.5h0M77.2 399.1h0M55.9 389.5h0M67.5 404.9h0M75.0 410.6h0M70.1 388.5h0M80.2 360.9h0M81.3 358.2h0M33.8 380.8h0M77.4 398.7h0M68.0 404.8h0M95.7 390.7h0M47.7 390.0h0M89.8 376.1h0M78.6 372.4h0M51.0 392.0h0M79.1 372.8h0M50.3 389.7h0M69.3 397.3h0M88.3 394.2h0M68.1 420.9h0M79.2 403.7h0M71.0 406.4h0M41.9 386.6h0M75.4 403.4h0M75.4 397.9h0M47.7 390.1h0M62.9 391.8h0M80.7 385.3h0M88.0 398.7h0M65.3 400.3h0M68.2 406.0h0M82.4 399.9h0M85.8 402.4h0M62.8 391.6h0M59.0 393.3h0M83.2 380.1h0M32.6 380.1h0M62.8 404.4h0M76.4 409.9h0M79.3 390.1h0M93.7 383.4h0M73.8 386.3h0M54.4 395.9h0M48.9 391.4h0M79.4 358.9h0M68.4 383.6h0M34.1 381.6h0M36.9 385.2h0M54.4 389.1h0M62.4 401.1h0M49.6 393.4h0M82.1 396.2h0M32.0 380.4h0M66.3 403.0h0M83.3 376.3h0M91.5 389.3h0M71.3 415.3h0M79.2 394.3h0M79.1 371.3h0M68.8 409.3h0M69.9 405.9h0M73.3 381.0h0M92.0 400.8h0M62.9 388.9h0M77.8 388.4h0M69.2 390.7h0M76.1 389.7h0M44.7 386.5h0M92.3 379.0h0M74.2 383.2h0M61.8 400.5h0M88.4 398.4h0M84.5 382.1h0M87.9 392.5h0M42.9 389.9h0M65.7 402.0h0M82.0 378.7h0M85.0 390.2h0M79.5 382.7h0M78.6 390.6h0M73.3 414.9h0M78.0 403.1h0M69.7 412.2h0M76.8 399.8h0M97.1 385.4h0M48.9 389.5h0M77.7 391.3h0M77.1 401.2h0M73.0 413.0h0M44.7 389.1h0M72.3 408.2h0M72.6 400.0h0M54.7 389.5h0M49.7 388.8h0M50.4 390.0h0M77.9 393.2h0M89.2 385.7h0M85.6 367.4h0M65.6 404.7h0M77.4 399.1h0M34.1 380.9h0M40.7 387.2h0M40.4 385.3h0M68.1 404.4h0M86.6 388.0h0M61.7 404.6h0M46.0 388.1h0M85.0 376.9h0M75.8 380.6h0M58.9 390.1h0M73.0 416.1h0M66.7 401.2h0M62.3 392.9h0M36.6 383.3h0M70.2 378.1h0M62.4 402.2h0M78.1 398.5h0M69.4 388.0h0M84.8 401.0h0M78.9 385.0h0M63.6 402.9h0M77.5 378.6h0M82.1 372.7h0M70.3 411.7h0M58.0 392.0h0M89.0 394.8h0M34.4 381.4h0M69.7 411.5h0M63.0 396.3h0M72.5 410.7h0M66.2 399.5h0M75.7 397.2h0M85.0 402.8h0M68.3 419.9h0M81.0 383.2h0M86.3 376.9h0M77.9 400.0h0M38.1 385.0h0M90.8 382.1h0M62.2 401.2h0M57.4 388.9h0M85.7 399.3h0M57.8 393.1h0M68.0 388.8h0M78.9 408.5h0M82.2 399.9h0M77.9 388.3h0M75.5 388.2h0M82.9 399.2h0M82.9 388.6h0M34.0 381.0h0M65.0 404.3h0M41.4 386.7h0M69.6 416.2h0M73.2 376.2h0M74.5 387.4h0M82.5 397.7h0M74.5 404.3h0M44.0 389.9h0M71.0 393.1h0M38.5 385.7h0M70.7 409.3h0M62.8 392.3h0M75.6 409.2h0M55.5 389.1h0M57.9 391.6h0M76.6 407.4h0M62.4 397.0h0M96.1 393.5h0M96.9 387.8h0M71.9 415.3h0M46.6 387.4h0M79.6 392.2h0M71.6 397.5h0M92.7 391.6h0M62.5 400.8h0M68.5 414.3h0M70.5 387.1h0M91.7 398.6h0M78.0 401.1h0M61.1 398.6h0M77.3 395.0h0M65.0 401.4h0M87.7 402.3h0M68.8 393.2h0M73.1 400.5h0M81.1 368.0h0M58.7 395.0h0M74.6 408.8h0M42.7 387.0h0M34.9 382.9h0M84.1 397.2h0M82.2 400.2h0M90.3 390.6h0M73.8 400.4h0M79.2 360.2h0M36.3 382.7h0M79.3 380.0h0M76.3 408.9h0M77.4 404.7h0M83.7 395.0h0M85.5 398.1h0M77.7 387.4h0M89.3 389.1h0M58.5 395.6h0M79.2 361.7h0M92.4 384.7h0M80.1 395.9h0M85.8 394.9h0M90.2 394.3h0M80.9 391.0h0M70.5 394.1h0M75.8 383.3h0M60.7 408.7h0M83.6 402.8h0M50.2 389.3h0M69.6 379.5h0M60.4 401.8h0M35.4 382.1h0M58.8 395.7h0M31.2 379.3h0M76.6 397.4h0M32.2 379.4h0M60.0 391.8h0M40.9 386.1h0M76.1 409.0h0M90.1 399.9h0M64.6 410.5h0M52.9 400.3h0M66.2 420.1h0M44.1 387.5h0M79.4 394.6h0M80.2 375.8h0M66.1 406.2h0M78.7 396.3h0M44.2 386.8h0M82.7 406.5h0M76.6 403.3h0M84.4 373.9h0M99.0 386.8h0M35.0 381.9h0M71.1 407.1h0M80.2 358.2h0M69.9 408.5h0M72.4 399.3h0M68.4 395.8h0M35.0 382.4h0M34.0 380.5h0M72.4 399.9h0M66.1 398.1h0M57.1 391.2h0M65.7 402.1h0M62.3 400.5h0M68.9 405.1h0M33.3 380.5h0M78.3 382.3h0M76.4 407.6h0M63.8 400.1h0M60.2 390.7h0M65.9 409.4h0M70.1 407.2h0M74.3 391.4h0M61.5 396.0h0M55.3 393.8h0M76.3 403.3h0M67.6 401.8h0M86.3 381.0h0M83.3 393.4h0M78.9 401.0h0M39.9 384.2h0M62.2 395.0h0M71.4 392.9h0M52.3 389.1h0M76.8 409.3h0M76.8 402.8h0M55.4 397.7h0M85.7 391.9h0M75.7 399.4h0M79.8 406.0h0M92.5 386.2h0M63.9 406.7h0M59.9 405.2h0M71.2 390.3h0M72.6 405.2h0M69.8 388.8h0M39.6 385.8h0M51.4 390.1h0M74.3 382.6h0M59.7 390.2h0M55.0 392.5h0M75.6 393.9h0M85.2 385.1h0M78.7 402.0h0M48.9 393.4h0M39.8 386.5h0M78.5 388.0h0M76.3 388.9h0M39.1 387.2h0M68.2 414.3h0M41.5 389.2h0M61.4 397.9h0M85.6 398.1h0M31.4 379.2h0M59.1 392.3h0M94.1 387.0h0M70.7 377.7h0M63.3 411.1h0M72.1 369.4h0M66.1 410.3h0M81.5 387.3h0M74.9 397.6h0M88.2 396.2h0M72.1 382.8h0M64.3 398.6h0M93.9 379.3h0M74.0 378.7h0M56.6 393.8h0M69.7 376.9h0M73.7 398.4h0M77.8 395.2h0M68.0 395.2h0M71.8 399.5h0M93.7 392.9h0M78.6 402.2h0M83.2 405.5h0M81.6 396.2h0M61.8 396.3h0M73.0 406.7h0M92.5 389.6h0M60.0 404.8h0M82.3 402.1h0M70.2 401.0h0M70.2 420.1h0M87.3 403.2h0M47.7 390.0h0M78.6 378.2h0M69.8 393.0h0M76.3 406.3h0M45.2 387.7h0M76.3 405.0h0M82.6 373.6h0M77.7 395.0h0M78.2 400.6h0M69.7 393.6h0M73.9 399.1h0M66.1 413.8h0M83.1 405.3h0M91.1 389.2h0M66.1 406.6h0M86.6 384.1h0M72.8 409.8h0M60.9 398.8h0M47.4 388.5h0M71.3 398.1h0M73.5 410.0h0M83.9 402.0h0M69.8 414.0h0M74.4 398.3h0M73.7 381.7h0M54.2 394.2h0M65.0 409.0h0M41.7 386.8h0M56.0 393.5h0M38.4 385.1h0M69.0 414.9h0M62.2 395.7h0M76.3 397.5h0M43.0 389.4h0M71.9 408.3h0M77.2 386.1h0M80.5 402.6h0M69.7 396.9h0M93.7 382.4h0M73.5 407.0h0M35.3 382.8h0M77.5 403.0h0M96.6 385.1h0M73.8 396.4h0M34.9 381.7h0M72.8 413.2h0M84.2 389.6h0M82.1 378.2h0M78.4 396.0h0M33.8 381.8h0M64.4 392.0h0M80.3 371.1h0M55.9 390.6h0M84.9 399.0h0M49.1 394.3h0M47.1 388.4h0M77.1 396.6h0M81.0 382.9h0M64.4 396.3h0M88.6 383.8h0M37.7 382.9h0M48.1 389.7h0M76.6 406.7h0M90.1 391.0h0M83.3 382.6h0M73.5 390.0h0M72.6 408.4h0M82.9 365.8h0M53.6 395.5h0M72.2 403.7h0M76.4 392.4h0M54.7 391.0h0M69.9 407.6h0M58.7 391.6h0M88.6 395.6h0M78.6 360.0h0M32.8 380.3h0M87.7 385.3h0M83.3 399.4h0M46.0 386.7h0M65.0 399.9h0M83.7 381.6h0M40.3 385.5h0M60.7 395.9h0M93.9 381.6h0M78.8 381.1h0M57.2 394.4h0M45.4 387.4h0M88.0 398.7h0M67.9 412.9h0M73.0 417.3h0M85.9 383.8h0M46.4 387.8h0M49.3 392.0h0M67.7 416.2h0M76.5 397.3h0M29.8 378.3h0M83.4 400.0h0M59.3 395.9h0M78.3 362.8h0M52.7 391.7h0M79.2 375.4h0M50.8 395.5h0M77.7 411.1h0M37.8 385.1h0M75.7 406.1h0M91.4 398.1h0M67.3 373.1h0M79.2 393.3h0M72.6 410.2h0M69.6 397.0h0M64.5 414.9h0M57.6 394.2h0" stroke="#c2bfbf" stroke-width="1.35" stroke-linecap="round" fill="none"/>
<path d="M62.9 393.1h0M62.6 391.4h0M80.5 357.4h0M73.8 382.5h0M66.5 395.3h0M45.7 386.6h0M52.3 392.9h0M77.8 383.7h0M49.4 390.3h0M50.9 389.4h0M72.7 385.2h0M74.4 372.5h0M78.2 382.9h0M79.7 368.5h0M77.8 379.6h0M62.3 389.2h0M50.4 393.6h0M56.1 392.4h0M75.7 386.3h0M66.7 417.3h0M57.8 394.7h0M79.7 370.6h0M82.5 372.2h0M82.9 365.8h0M53.2 393.1h0M55.7 394.5h0M77.6 383.7h0" stroke="#c83830" stroke-width="1.35" stroke-linecap="round" fill="none"/>
<path d="M79.4 386.3h0M44.3 386.6h0M77.9 372.4h0M76.9 369.9h0M44.8 390.4h0M74.4 376.9h0M78.7 379.8h0M77.2 377.8h0M74.0 376.4h0M76.1 366.8h0M78.2 375.4h0M62.2 393.1h0M82.7 376.9h0M52.1 393.0h0M80.0 363.0h0M79.5 357.9h0M48.0 393.1h0M82.9 383.4h0M79.5 380.4h0M48.6 389.1h0M64.7 388.5h0M47.4 390.4h0M80.7 374.0h0M69.3 383.8h0M79.9 387.1h0M46.0 387.4h0M73.9 384.1h0M78.8 372.2h0M53.0 393.7h0M57.1 389.1h0M79.7 385.6h0M80.5 376.6h0M78.9 368.1h0M79.4 384.0h0M79.7 373.9h0" stroke="#b42a26" stroke-width="1.35" stroke-linecap="round" fill="none"/>
<path d="M75.2 400.3h0M76.7 400.4h0M80.9 379.3h0M82.6 385.0h0M79.2 368.7h0M52.8 394.7h0M55.6 390.1h0M47.6 389.7h0M46.7 389.3h0M76.8 374.4h0M71.6 413.6h0M73.1 384.0h0M81.7 380.8h0M79.8 368.9h0M62.6 390.9h0M75.7 378.8h0M75.5 382.7h0M66.5 395.6h0M80.4 358.5h0M58.1 396.7h0M79.6 379.9h0M79.8 382.4h0M73.5 387.0h0M54.7 390.2h0M80.7 368.6h0M76.0 398.2h0M47.9 389.4h0M79.3 385.0h0M81.3 363.8h0M57.3 391.3h0M78.5 381.0h0M77.6 386.9h0M82.8 397.4h0M46.2 387.3h0M68.9 386.6h0M73.8 380.4h0M79.9 358.2h0M57.0 390.1h0M77.7 370.1h0" stroke="#a02420" stroke-width="1.35" stroke-linecap="round" fill="none"/>
<path d="M79.7 360.7h0M80.1 361.4h0M51.0 392.2h0M80.4 369.3h0M62.0 395.1h0M82.4 380.7h0M53.5 392.5h0M78.5 363.4h0M79.2 380.2h0M73.7 407.6h0M36.3 384.7h0M46.9 388.7h0M76.6 365.4h0M50.4 397.6h0M53.8 396.2h0M66.4 388.1h0M68.8 393.9h0M81.8 382.0h0M81.1 372.8h0M76.1 372.8h0M80.4 385.8h0M80.3 376.2h0M82.9 371.7h0M61.3 392.4h0M50.9 391.0h0M66.6 388.8h0M80.0 371.3h0M52.2 394.1h0M79.3 378.7h0M80.7 396.8h0M56.7 392.8h0M75.3 381.9h0M79.9 357.5h0M60.0 394.9h0M81.2 364.5h0M74.4 379.0h0M81.0 376.1h0M79.3 365.5h0M60.9 393.4h0M77.3 380.4h0M80.7 376.0h0" stroke="#d04a40" stroke-width="1.35" stroke-linecap="round" fill="none"/>
<path d="M53.9 389.2h0M48.5 390.1h0M80.9 367.5h0M46.5 391.4h0M75.4 382.6h0M83.2 378.9h0M78.9 374.3h0M80.7 365.8h0M44.8 387.6h0M66.7 397.6h0M60.3 391.8h0M75.0 381.7h0M50.5 389.9h0M81.3 367.4h0M31.9 379.7h0M66.6 387.1h0M54.0 392.2h0M76.1 369.0h0M54.8 392.5h0M63.6 390.5h0M62.0 391.1h0M81.5 374.7h0M50.5 391.0h0M63.0 390.0h0M58.5 396.9h0M79.6 373.4h0M81.0 372.8h0M60.5 401.0h0M46.4 388.8h0M52.3 391.0h0M78.3 383.7h0M80.4 376.2h0M79.9 356.7h0M67.3 383.3h0M77.4 386.9h0M75.0 386.0h0M79.1 360.5h0M98.5 387.0h0M52.0 390.3h0M76.9 370.9h0M76.1 392.7h0M61.3 396.6h0M72.6 385.1h0M78.9 382.3h0" stroke="#c86058" stroke-width="1.35" stroke-linecap="round" fill="none"/>
<rect x="112.70" y="345.20" width="4.20" height="105.00" fill="url(#cm)" stroke="#3a3a3a" stroke-width="0.8"/>
<line x1="116.90" y1="348.70" x2="119.90" y2="348.70" stroke="#333" stroke-width="0.9"/>
<text x="123.40" y="351.05" font-size="6.6" fill="#333">10</text>
<line x1="116.90" y1="368.90" x2="119.90" y2="368.90" stroke="#333" stroke-width="0.9"/>
<text x="123.40" y="371.25" font-size="6.6" fill="#333">8</text>
<line x1="116.90" y1="389.30" x2="119.90" y2="389.30" stroke="#333" stroke-width="0.9"/>
<text x="123.40" y="391.65" font-size="6.6" fill="#333">6</text>
<line x1="116.90" y1="409.70" x2="119.90" y2="409.70" stroke="#333" stroke-width="0.9"/>
<text x="123.40" y="412.05" font-size="6.6" fill="#333">4</text>
<line x1="116.90" y1="429.70" x2="119.90" y2="429.70" stroke="#333" stroke-width="0.9"/>
<text x="123.40" y="432.05" font-size="6.6" fill="#333">2</text>
<line x1="116.90" y1="449.80" x2="119.90" y2="449.80" stroke="#333" stroke-width="0.9"/>
<text x="123.40" y="452.15" font-size="6.6" fill="#333">0</text>
<line x1="146.40" y1="355.50" x2="233.60" y2="355.50" stroke="#a2a2a2" stroke-width="0.75"/>
<line x1="146.40" y1="355.50" x2="147.90" y2="414.00" stroke="#a2a2a2" stroke-width="0.75"/>
<line x1="202.30" y1="355.50" x2="202.30" y2="409.20" stroke="#a2a2a2" stroke-width="0.75"/>
<line x1="233.60" y1="355.50" x2="230.70" y2="427.30" stroke="#a2a2a2" stroke-width="0.75"/>
<line x1="147.90" y1="414.00" x2="202.10" y2="409.20" stroke="#a2a2a2" stroke-width="0.75"/>
<line x1="202.10" y1="409.20" x2="230.70" y2="427.30" stroke="#a2a2a2" stroke-width="0.75"/>
<line x1="147.90" y1="414.00" x2="161.60" y2="437.30" stroke="#a2a2a2" stroke-width="0.75"/>
<line x1="161.60" y1="437.30" x2="230.70" y2="427.30" stroke="#a2a2a2" stroke-width="0.75"/>
<line x1="144.70" y1="406.00" x2="143.61" y2="360.40" stroke="#1a1a1a" stroke-width="1.0"/>
<path d="M143.50 355.90L146.24 361.84L143.61 360.60L141.04 361.96Z" fill="#111"/>
<line x1="156.90" y1="435.00" x2="149.68" y2="422.68" stroke="#1a1a1a" stroke-width="1.0"/>
<path d="M147.40 418.80L152.68 422.66L149.78 422.85L148.19 425.29Z" fill="#111"/>
<line x1="229.80" y1="430.60" x2="170.75" y2="439.43" stroke="#1a1a1a" stroke-width="1.0"/>
<path d="M166.30 440.10L171.85 436.64L170.95 439.40L172.62 441.78Z" fill="#111"/>
<text x="135.75" y="381.20" font-size="8.2" text-anchor="middle" transform="rotate(90 135.75 381.20)" textLength="14.3" lengthAdjust="spacingAndGlyphs">DC2</text>
<text x="145.81" y="433.26" font-size="8.4" text-anchor="middle" transform="rotate(59 145.81 433.26)" textLength="14.3" lengthAdjust="spacingAndGlyphs">DC3</text>
<text x="200.54" y="443.85" font-size="8.0" text-anchor="middle" transform="rotate(-8.7 200.54 443.85)" textLength="13.8" lengthAdjust="spacingAndGlyphs">DC1</text>
<text x="147.30" y="340.60" font-size="6.6" textLength="88.3" lengthAdjust="spacingAndGlyphs" fill="#222" stroke="#222" stroke-width="0.15">PROCR - ENSMUSG00000027611</text>
<path d="M196.0 412.3h0M203.7 401.3h0M187.0 389.6h0M203.3 389.1h0M203.1 401.2h0M196.3 411.8h0M205.4 387.9h0M195.2 396.8h0M188.8 397.0h0M168.2 385.7h0M175.1 390.6h0M169.0 387.9h0M172.9 391.1h0M206.0 405.4h0M189.4 388.9h0M208.9 381.6h0M164.2 384.5h0M181.7 386.6h0M205.1 388.8h0M212.8 392.2h0M194.2 403.4h0M169.6 385.5h0M203.6 384.4h0M178.6 391.8h0M167.5 384.5h0M192.3 400.0h0M190.6 404.1h0M216.9 386.2h0M174.0 392.3h0M160.8 381.6h0M190.1 401.1h0M171.2 388.9h0M214.8 397.0h0M164.4 382.2h0M204.3 391.3h0M201.1 397.2h0M210.4 395.3h0M178.9 394.6h0M212.0 382.3h0M161.7 381.2h0M191.9 397.2h0M201.1 412.4h0M208.0 403.0h0M199.5 404.8h0M168.9 386.0h0M214.5 388.6h0M171.6 387.5h0M173.7 388.0h0M173.5 386.4h0M197.4 415.4h0M212.9 398.2h0M217.4 398.6h0M162.7 383.3h0M191.4 388.6h0M200.9 385.8h0M227.3 388.0h0M203.0 374.7h0M218.3 396.7h0M215.8 394.9h0M191.8 406.8h0M162.6 381.6h0M189.4 411.6h0M210.0 400.1h0M174.8 390.5h0M204.8 399.8h0M208.3 396.6h0M207.4 403.6h0M180.2 390.4h0M190.3 394.4h0M205.1 361.1h0M179.5 389.6h0M198.8 408.3h0M204.0 395.5h0M189.1 391.9h0M208.5 400.2h0M175.6 389.7h0M186.7 392.5h0M196.2 405.4h0M199.3 389.7h0M192.4 393.8h0M178.2 394.6h0M179.4 388.9h0M173.7 392.4h0M187.9 393.9h0M184.5 399.7h0M215.6 399.5h0M191.5 406.0h0M197.3 403.3h0M170.6 385.5h0M205.9 387.0h0M196.2 412.2h0M197.1 406.6h0M186.8 395.0h0M189.0 400.3h0M220.3 394.9h0M174.1 388.7h0M200.2 392.1h0M213.1 398.2h0M208.7 403.7h0M204.8 366.9h0M174.5 386.7h0M196.6 380.6h0M197.2 399.6h0M201.7 406.8h0M161.9 381.0h0M216.2 384.5h0M204.6 395.0h0M208.4 396.6h0M190.7 408.4h0M193.1 398.5h0M201.8 383.5h0M209.1 401.6h0M209.5 387.1h0M203.4 384.6h0M201.2 402.5h0M178.2 389.5h0M199.4 404.7h0M194.6 387.1h0M204.6 383.8h0M176.4 388.6h0M203.8 409.0h0M204.5 407.4h0M194.8 403.6h0M209.1 382.8h0M223.0 385.6h0M179.8 391.1h0M198.7 371.4h0M217.4 379.2h0M193.8 410.3h0M206.2 374.5h0M209.3 383.1h0M166.1 386.7h0M189.3 396.4h0M196.8 401.1h0M163.1 382.5h0M202.2 407.0h0M173.9 386.8h0M191.2 400.6h0M193.5 411.6h0M203.3 398.4h0M200.3 380.8h0M185.8 391.4h0M189.5 407.6h0M203.7 367.0h0M210.2 385.0h0M178.6 392.0h0M167.0 385.7h0M209.3 391.9h0M193.7 400.6h0M203.4 382.1h0M183.9 395.3h0M185.6 389.8h0M203.2 402.2h0M209.0 381.1h0M199.6 389.5h0M214.8 371.1h0M190.9 405.9h0M202.0 404.6h0M192.0 389.2h0M165.5 385.4h0M212.6 386.6h0M168.4 383.9h0M206.5 385.8h0M193.8 408.2h0M213.4 400.5h0M200.0 407.7h0M207.6 388.8h0M208.3 366.8h0M197.4 394.8h0M186.6 395.7h0M205.4 382.2h0M208.1 390.4h0M201.8 405.8h0M199.5 408.9h0M207.1 381.3h0M192.4 400.8h0M199.2 403.1h0M204.9 389.3h0M203.7 406.5h0M197.8 411.0h0M178.9 390.7h0M167.4 384.4h0M157.5 378.8h0M195.6 375.7h0M202.0 397.6h0M176.3 390.7h0M196.3 414.5h0M204.2 373.9h0M168.4 387.4h0M191.0 404.4h0M203.7 384.2h0M205.6 391.8h0M186.2 395.9h0M200.2 407.4h0M208.3 390.3h0M204.6 360.8h0M192.1 395.3h0M197.3 406.4h0M198.9 409.0h0M220.2 391.9h0M214.7 388.1h0M201.2 401.4h0M202.5 406.2h0M216.5 392.1h0M192.3 415.5h0M208.3 373.7h0M206.0 411.6h0M160.6 380.5h0M171.4 389.2h0M204.2 375.5h0M178.0 392.8h0M223.8 380.4h0M208.5 395.7h0M204.4 410.5h0M206.1 399.1h0M200.3 395.6h0M196.9 415.9h0M220.6 393.4h0M195.8 397.5h0M169.6 388.3h0M200.8 414.7h0M163.2 381.9h0M197.1 410.4h0M206.2 401.1h0M200.1 410.1h0M204.2 407.9h0M201.3 395.0h0M178.5 388.9h0M196.2 409.6h0M162.3 382.3h0M202.4 400.4h0M209.9 388.1h0M201.7 381.7h0M169.5 385.3h0M167.0 386.9h0M200.7 392.0h0M160.6 380.5h0M168.5 385.0h0M222.7 386.7h0M173.4 389.9h0M201.2 387.1h0M216.9 376.6h0M182.3 391.7h0M201.8 393.1h0M179.9 388.8h0M207.3 399.8h0M208.4 406.3h0M174.1 388.8h0M164.1 383.5h0M195.8 398.1h0M207.2 393.7h0M160.8 380.5h0M183.6 391.8h0M193.1 403.6h0M201.4 386.8h0M189.8 393.2h0M193.9 403.4h0M187.2 391.2h0M176.5 387.2h0M207.5 365.2h0M205.4 381.1h0M180.0 392.3h0M189.3 397.0h0M193.2 403.7h0M206.8 375.2h0M156.0 376.4h0M200.0 405.0h0M209.6 400.2h0M192.0 388.6h0M190.9 400.8h0M202.9 390.0h0M173.7 386.2h0M209.4 377.6h0M210.2 399.3h0M169.8 386.3h0M197.6 382.9h0M219.1 392.4h0M156.5 376.9h0M201.6 398.0h0M206.6 375.2h0M190.6 404.8h0M204.3 374.4h0M213.5 389.9h0M203.2 385.4h0M194.0 385.6h0M194.9 402.1h0M216.3 379.3h0M189.6 395.1h0M159.4 379.3h0M187.2 401.7h0M175.8 388.3h0M213.2 377.9h0M205.1 364.2h0M202.6 410.8h0M223.7 383.7h0M193.1 388.5h0M217.6 396.7h0M205.0 377.7h0M224.4 385.9h0M192.6 411.4h0M172.3 386.0h0M175.2 387.5h0M191.4 396.3h0M216.0 381.5h0M225.2 388.6h0M167.3 386.3h0M195.7 387.8h0M189.6 394.3h0M219.1 395.9h0M210.9 395.0h0M194.4 417.1h0M200.7 402.8h0M196.7 415.8h0M172.0 391.7h0M158.1 377.3h0M196.4 385.7h0M206.3 408.0h0M201.9 391.5h0M221.8 382.2h0M215.7 399.9h0M188.5 394.4h0M206.1 399.9h0M217.5 389.1h0M172.8 386.1h0M215.6 378.9h0M195.1 410.3h0M194.3 417.1h0M195.9 404.9h0M203.3 401.5h0M202.6 383.2h0M201.0 402.7h0M197.1 415.3h0M188.1 393.0h0M207.8 360.9h0M209.1 402.5h0M221.6 381.3h0M162.3 381.4h0M207.5 405.0h0M198.6 412.6h0M218.8 381.8h0M196.5 396.9h0M188.3 401.4h0M190.4 393.6h0M167.6 384.6h0M201.1 388.9h0M198.6 398.8h0M195.1 384.2h0M204.8 396.8h0M188.6 390.5h0M193.3 378.4h0M209.1 402.4h0M186.1 394.2h0M205.8 370.3h0M191.0 404.3h0M199.1 379.6h0M186.2 398.9h0M200.1 397.4h0M171.2 389.2h0M186.9 392.4h0M197.0 407.6h0M193.5 408.5h0M170.4 388.5h0M209.1 406.5h0M201.7 407.8h0M215.5 369.6h0M199.0 399.8h0M181.2 390.9h0M174.3 390.0h0M203.6 391.7h0M178.6 395.2h0M175.4 387.4h0M200.4 389.3h0M197.8 396.3h0M204.3 406.2h0M196.3 407.7h0M198.8 383.5h0M203.2 405.0h0M206.2 389.1h0M204.5 396.0h0M169.7 386.0h0M194.5 409.9h0M204.4 399.6h0M194.4 406.2h0M196.3 404.7h0M169.6 385.3h0M165.1 383.9h0M189.5 386.0h0M188.3 391.9h0M204.1 386.5h0M211.8 397.8h0M192.0 397.8h0M175.6 388.1h0M218.1 393.7h0M201.9 369.8h0M203.7 400.9h0M198.7 396.0h0M198.5 409.6h0M195.9 404.9h0M213.3 389.0h0M202.2 410.7h0M163.8 383.0h0M158.8 380.3h0M209.2 382.8h0M190.1 406.3h0M172.9 387.9h0M204.0 406.7h0M179.1 390.1h0M202.1 385.6h0M189.7 390.8h0M191.2 398.0h0M170.6 388.9h0M193.6 381.3h0M198.1 410.1h0M189.7 392.2h0M206.2 384.0h0M206.2 404.9h0M173.0 391.0h0M205.3 396.2h0M199.4 400.5h0M172.5 386.5h0M214.7 383.5h0M162.7 380.4h0M207.9 385.5h0M183.2 394.1h0M190.1 390.0h0M198.4 383.7h0M198.6 395.6h0M201.1 392.7h0M181.7 390.6h0M203.7 393.6h0M197.4 406.0h0M198.5 407.7h0M196.0 405.1h0M167.8 385.7h0M195.7 413.0h0M199.4 410.5h0M190.6 403.4h0M160.3 379.6h0M189.4 389.2h0M170.5 385.2h0M198.1 407.3h0M168.6 387.9h0M169.0 386.1h0M188.5 387.7h0M204.6 387.3h0M200.1 395.1h0M193.2 406.2h0M179.5 390.1h0M202.7 385.5h0M169.8 387.0h0M188.8 392.2h0M198.8 398.0h0M159.9 380.1h0M214.8 396.0h0M183.7 389.2h0M157.8 377.3h0M163.1 382.9h0M187.2 390.4h0M211.8 386.3h0M190.9 394.3h0M202.1 396.8h0M190.9 398.4h0M171.1 388.8h0M204.7 398.2h0M211.5 371.6h0M194.7 416.3h0M203.6 381.8h0M198.9 399.5h0M204.3 374.5h0M185.3 392.6h0M160.9 382.3h0M177.3 394.3h0M186.3 396.6h0M205.1 367.6h0M168.1 387.0h0M200.7 384.9h0M195.3 419.8h0M206.2 404.8h0M208.3 396.7h0M194.4 398.3h0M194.8 404.9h0M205.0 373.3h0M203.1 388.5h0M208.7 359.7h0M194.5 395.8h0M169.9 389.6h0M197.3 402.7h0M213.0 393.6h0M209.4 404.3h0M187.9 396.1h0M192.5 387.0h0M191.2 402.0h0M211.2 384.8h0M192.7 389.9h0M196.3 406.6h0M188.7 394.8h0M227.4 390.4h0M199.7 387.5h0M198.5 393.7h0M210.6 403.3h0M213.7 381.4h0M194.6 407.8h0M202.2 404.8h0M201.3 404.7h0M205.1 404.1h0M196.5 384.9h0M203.7 407.5h0M208.9 396.9h0M212.7 381.8h0M209.6 386.1h0M208.2 372.8h0M203.2 405.8h0M203.3 402.7h0M180.9 389.8h0M199.3 408.2h0M221.1 382.7h0M174.1 388.6h0M212.2 373.5h0M170.8 388.0h0M159.1 379.7h0M202.0 403.6h0M216.0 386.4h0M215.8 382.5h0M201.0 407.6h0M204.4 388.7h0M159.6 378.8h0M203.9 391.2h0M202.3 369.1h0M161.3 380.0h0M196.5 388.2h0M182.5 387.5h0M210.0 402.4h0M190.3 400.0h0M191.6 386.5h0M205.5 390.5h0M202.9 401.9h0M195.2 413.1h0M218.0 385.4h0M194.5 410.5h0M214.4 397.0h0M194.8 403.5h0M194.4 409.2h0M182.4 395.0h0M225.5 388.5h0M189.2 388.9h0M198.4 406.5h0M163.4 382.6h0M194.9 396.5h0M203.9 368.4h0M205.8 399.8h0M205.1 387.7h0M181.2 388.4h0M181.8 392.1h0M204.4 406.9h0M196.7 402.1h0M160.3 379.8h0M217.1 381.4h0M219.4 382.5h0M187.9 394.5h0M189.8 391.4h0M166.8 384.6h0M189.6 411.0h0M208.9 401.7h0M164.7 383.9h0M213.4 397.8h0M183.6 389.1h0M197.3 400.7h0M206.8 392.9h0M205.5 355.4h0M172.5 386.4h0M167.5 385.2h0M199.6 405.4h0M213.2 386.9h0M180.7 394.3h0M199.6 408.8h0M223.5 384.5h0M225.1 387.1h0M187.4 388.6h0M206.7 402.2h0M201.9 408.5h0M206.2 407.7h0M219.1 381.8h0M188.7 392.5h0M207.9 388.2h0M177.0 389.7h0M189.4 387.3h0M185.8 393.6h0M192.6 400.5h0M200.8 377.4h0M207.2 391.3h0M215.1 387.1h0M172.0 387.3h0M195.8 393.8h0M165.0 384.1h0M216.9 380.0h0M198.6 397.6h0M215.9 382.0h0M184.8 395.0h0M217.5 398.2h0M168.1 384.1h0M199.2 397.1h0M199.2 406.0h0M180.3 389.0h0M188.7 395.3h0M185.3 395.3h0M201.2 399.9h0M184.4 390.8h0M204.3 407.5h0M194.3 403.7h0M218.9 396.4h0M197.6 408.1h0M199.4 397.6h0M220.7 389.0h0M204.8 391.4h0M169.5 388.5h0M208.5 397.7h0M182.2 390.8h0M211.4 403.5h0M161.1 380.3h0M200.8 409.0h0M164.8 384.4h0M178.6 388.8h0M191.0 400.9h0M162.3 380.1h0M178.4 388.7h0M187.1 393.5h0M168.7 385.5h0M219.8 392.5h0M230.0 389.6h0M186.7 389.7h0M204.9 402.3h0M193.4 401.8h0M177.6 389.7h0M186.7 404.5h0M162.4 382.4h0M204.9 403.5h0M212.1 404.0h0M212.0 403.8h0M204.1 399.7h0M202.0 382.9h0M220.4 381.4h0M214.5 401.8h0M169.4 385.8h0M183.8 392.9h0M208.6 385.8h0M185.1 395.1h0M193.6 408.7h0M205.3 384.2h0M193.8 402.3h0M179.9 390.1h0M200.3 410.3h0M185.6 386.8h0M203.6 387.2h0M217.7 396.8h0M184.0 392.9h0M203.1 403.3h0M180.8 394.1h0M176.8 392.9h0M198.8 381.7h0M195.1 412.6h0M173.0 387.4h0M197.9 399.1h0M170.8 389.0h0M205.5 392.7h0M225.6 386.4h0M198.0 400.5h0M199.9 377.8h0M166.2 385.8h0M203.7 384.3h0M193.1 398.7h0M225.9 386.7h0M219.5 382.8h0M192.8 408.4h0M197.1 412.3h0M208.8 396.6h0M187.7 386.5h0M196.7 404.1h0M196.2 413.4h0M188.1 392.4h0M178.2 390.9h0M220.1 382.1h0M207.5 388.0h0M207.2 396.5h0M204.6 401.8h0M214.1 384.6h0M181.6 389.3h0M156.8 376.5h0M177.8 391.5h0M198.2 414.1h0M214.6 397.7h0M167.5 384.7h0M212.9 373.5h0M211.3 393.9h0M177.3 389.6h0M188.5 389.7h0M168.0 384.7h0M199.9 390.3h0M190.4 402.3h0M207.2 383.2h0M217.6 394.4h0M157.1 376.9h0M202.0 412.1h0M222.3 384.2h0M165.1 383.5h0M190.4 400.5h0M160.3 380.4h0M201.6 398.0h0M206.5 393.8h0M194.9 401.7h0M211.9 402.2h0M204.2 390.2h0M202.2 410.9h0M182.1 397.2h0M201.9 385.7h0M221.5 382.2h0M165.6 384.2h0M200.5 401.7h0M197.1 381.8h0M207.8 405.9h0M189.8 388.5h0M183.4 390.1h0M199.9 400.4h0M230.0 385.7h0M167.6 384.1h0M187.7 391.3h0M203.7 380.1h0M210.3 377.4h0M178.8 389.9h0M184.9 391.4h0M198.4 398.7h0M205.5 401.0h0M203.0 394.3h0M187.8 391.6h0M206.0 409.3h0M196.4 412.2h0M188.8 398.4h0M204.2 401.8h0M201.3 402.9h0M217.4 376.2h0M197.7 396.2h0M189.3 386.9h0M206.9 404.8h0M202.4 408.6h0M207.3 377.1h0M218.1 388.6h0M163.7 380.5h0M202.2 400.9h0M221.8 387.9h0M168.3 385.5h0M224.1 391.4h0M181.6 387.0h0M190.8 403.0h0M180.9 396.1h0M188.0 397.7h0M200.4 384.8h0M182.5 392.0h0M181.9 390.1h0M202.7 411.3h0M180.4 390.4h0M211.4 377.1h0M155.8 375.5h0M189.5 392.2h0M219.2 380.6h0M182.3 388.7h0M183.9 390.1h0M167.2 386.6h0M224.4 391.2h0M208.6 391.8h0M189.7 397.0h0M217.9 375.8h0M163.0 383.4h0M169.7 385.6h0M181.3 389.1h0M185.2 396.2h0M205.0 406.2h0M163.1 382.3h0M189.7 388.9h0M167.3 385.5h0M201.2 403.2h0M201.4 401.5h0M206.7 381.8h0M168.5 385.3h0M177.6 390.5h0M167.9 386.1h0M182.3 391.0h0M206.1 391.2h0M204.7 387.9h0M205.5 390.2h0M157.7 378.7h0M192.9 398.3h0M202.1 385.4h0M202.5 389.4h0M160.7 379.7h0M187.4 392.4h0M215.1 372.4h0M187.2 399.2h0M188.7 405.2h0M190.2 391.5h0M198.4 381.4h0M189.8 408.6h0M170.3 391.5h0M191.0 414.1h0M195.7 397.3h0M208.1 385.6h0M225.7 382.8h0M222.2 391.4h0M177.5 387.1h0M159.6 379.9h0M198.0 408.6h0M203.5 365.5h0M218.3 393.7h0M200.2 406.0h0M210.1 369.2h0M174.5 387.9h0M197.0 409.1h0M189.6 391.8h0M217.7 380.8h0M211.0 396.9h0M184.4 389.1h0M204.7 404.2h0M199.8 411.5h0M174.5 391.1h0M201.7 399.9h0M207.6 389.5h0M225.3 389.7h0M189.7 398.7h0M188.3 399.4h0M175.2 391.1h0M199.6 384.0h0M188.7 406.9h0M221.0 387.1h0M203.6 399.3h0M203.4 393.2h0M166.0 384.1h0M219.6 378.6h0M195.8 371.5h0M206.4 378.8h0M186.1 396.5h0M221.6 390.6h0M206.3 392.1h0M197.9 413.9h0M172.3 387.3h0M162.2 381.5h0M174.1 386.4h0M201.0 400.7h0M182.7 392.5h0M193.5 415.7h0M184.7 390.8h0M213.1 385.2h0M198.9 407.5h0M205.7 393.5h0M224.3 383.1h0M203.8 382.7h0M219.9 379.3h0M174.2 387.1h0M206.5 357.0h0M195.6 395.2h0M170.6 387.1h0M201.5 384.2h0M195.9 407.1h0M198.5 395.6h0M194.2 413.8h0M202.5 398.7h0M169.2 385.3h0M200.9 401.0h0M172.6 388.5h0M201.1 400.4h0M196.0 408.7h0M185.8 390.5h0M217.4 392.5h0M178.9 391.1h0M215.6 386.1h0M216.3 387.7h0M199.4 381.8h0M204.1 407.6h0M212.5 371.5h0M200.6 397.4h0M183.9 389.9h0M195.9 412.9h0M200.7 388.6h0M188.8 391.7h0M198.4 383.7h0M212.4 400.6h0M168.9 387.3h0M196.4 408.7h0M193.9 393.8h0M217.9 395.1h0M205.8 385.2h0M200.0 409.1h0M169.4 388.4h0M214.3 401.1h0M226.9 390.4h0M204.9 372.6h0M195.7 412.5h0M179.5 391.9h0M199.9 383.7h0M198.0 407.1h0M219.3 394.4h0M164.7 382.4h0M196.9 417.7h0M184.1 390.0h0M198.2 400.0h0M181.9 394.0h0M188.8 391.4h0M195.2 399.0h0M165.0 382.6h0M189.8 393.8h0M193.3 399.0h0M171.8 390.1h0M202.7 402.8h0M225.0 382.2h0M163.3 383.2h0M188.9 396.6h0M188.4 390.2h0M179.3 391.5h0M198.7 412.7h0M197.7 400.8h0M217.6 388.6h0M202.8 404.3h0M190.3 406.4h0M201.4 365.8h0M165.7 383.3h0M189.1 389.6h0M207.5 403.0h0M195.7 411.4h0M187.3 392.2h0M191.3 407.9h0M200.4 397.3h0M218.9 383.6h0M197.8 413.4h0M201.9 406.0h0M196.6 403.6h0M198.6 408.0h0M223.4 387.1h0M191.0 407.8h0M179.6 388.3h0M168.4 384.7h0M159.6 378.6h0M199.6 402.9h0M207.7 374.4h0M189.6 396.1h0M187.3 385.9h0M206.8 400.4h0M202.0 409.2h0M214.6 399.3h0M209.1 399.5h0M200.9 410.8h0M168.7 388.2h0M170.2 385.1h0M174.5 391.2h0M202.3 408.8h0M166.0 384.4h0M202.3 383.7h0M203.5 400.2h0M200.9 411.3h0M201.9 391.5h0M215.4 383.5h0M204.1 385.3h0M169.6 388.7h0M222.4 387.8h0M198.9 393.4h0M217.7 386.9h0M195.9 408.6h0M178.4 389.5h0M224.7 385.6h0M155.2 376.0h0M197.2 384.5h0M187.5 390.4h0M169.1 384.9h0M161.7 381.0h0M200.7 387.9h0M194.7 383.0h0M199.0 382.8h0M167.6 385.0h0M224.4 388.7h0M177.5 391.8h0M207.3 408.0h0M210.6 399.9h0M199.0 383.5h0M167.5 385.5h0M167.9 384.9h0M186.0 390.0h0M222.3 392.6h0M205.1 407.8h0M171.7 386.4h0M219.9 395.0h0M187.8 398.6h0M212.5 396.4h0M187.8 388.9h0M171.8 389.4h0M199.4 412.2h0M201.3 377.7h0M182.3 391.0h0M162.3 382.3h0M205.9 384.8h0M171.8 385.8h0M197.4 400.3h0M187.8 390.0h0M157.5 376.9h0M187.7 401.7h0M224.5 390.9h0M182.5 390.8h0M205.1 368.1h0M206.9 402.7h0M218.7 393.5h0M183.3 389.7h0M188.1 394.5h0M208.0 374.1h0M191.8 407.9h0M189.0 392.3h0M211.5 390.3h0M178.2 389.6h0M193.1 395.5h0M200.4 392.7h0M207.0 402.5h0M184.4 391.3h0M207.9 390.9h0M226.3 387.7h0M199.5 383.9h0M193.4 411.2h0M178.0 388.3h0M206.3 396.2h0M176.6 387.6h0M211.4 379.6h0M222.7 387.3h0M187.3 391.0h0M195.9 419.2h0M159.1 378.2h0M208.1 384.6h0M182.3 388.3h0M157.4 377.4h0M199.8 387.5h0M195.1 396.5h0M199.4 393.9h0M206.5 390.3h0M190.6 402.4h0M189.6 396.1h0M202.7 401.0h0M195.2 388.1h0M201.0 369.8h0M189.5 390.2h0M198.3 399.8h0M218.1 392.6h0M177.1 387.5h0M201.4 392.6h0M216.7 380.8h0M201.8 411.1h0M196.6 403.7h0M201.6 384.7h0M162.6 381.7h0M170.2 387.0h0M199.4 411.4h0M205.6 404.1h0M192.1 389.8h0M193.8 414.3h0M188.4 392.6h0M168.7 386.2h0M176.8 389.4h0M193.0 392.8h0M181.6 394.7h0M197.5 403.6h0M187.1 393.7h0M183.4 391.5h0M201.0 380.3h0M202.1 371.3h0M211.5 401.0h0M181.0 389.7h0M202.0 372.7h0M173.3 387.5h0M206.6 369.0h0M174.1 392.1h0M196.4 389.5h0M187.9 388.4h0M161.7 381.3h0M176.3 389.1h0M163.5 383.4h0M200.1 389.9h0M181.8 391.5h0M201.2 404.2h0M201.1 395.8h0M161.0 380.6h0M210.0 395.4h0M181.5 389.5h0M203.3 389.9h0M212.9 394.2h0M215.3 400.6h0M216.4 388.3h0M177.2 391.9h0M181.4 389.5h0M199.8 384.8h0M219.8 385.0h0M219.8 384.1h0M182.6 390.4h0M200.9 404.8h0M206.2 396.3h0M163.1 382.7h0M191.2 401.7h0M202.3 374.6h0M203.8 399.4h0M205.4 389.3h0M166.8 386.7h0M219.1 380.0h0M211.5 383.8h0M164.5 385.3h0M203.4 398.8h0M202.4 390.3h0M201.0 392.2h0M188.3 408.7h0M203.3 402.5h0M220.4 389.9h0M212.7 386.8h0M197.2 416.1h0M216.6 393.9h0M219.3 386.3h0M188.4 391.2h0M185.2 388.8h0M200.9 405.7h0M189.3 405.0h0M204.0 377.1h0M180.0 389.9h0M170.7 387.1h0M163.8 383.0h0M163.5 383.0h0M172.1 388.9h0M203.4 393.1h0M204.7 397.7h0M160.3 381.3h0M205.1 389.8h0M203.1 380.7h0M172.2 387.4h0M194.1 402.6h0M178.4 388.9h0M205.6 402.6h0M164.8 383.3h0M195.3 413.0h0M164.2 383.5h0M203.0 399.2h0M162.8 382.3h0M202.3 383.4h0M196.3 413.5h0M173.3 389.2h0M196.6 390.9h0M214.0 394.7h0M171.5 387.7h0M205.0 389.4h0M199.8 411.8h0M191.7 403.1h0M207.1 396.0h0M199.8 412.2h0M200.2 418.5h0" stroke="#c2bfbf" stroke-width="1.35" stroke-linecap="round" fill="none"/>
<path d="M209.4 383.2h0M207.0 369.6h0M201.4 397.1h0M207.3 359.8h0M206.2 360.6h0M199.3 374.8h0M203.8 375.3h0M211.5 378.3h0M206.9 378.3h0M207.9 366.9h0M196.2 395.8h0M202.1 382.1h0M210.8 374.3h0M202.2 381.6h0M200.3 378.0h0M201.1 374.1h0M203.6 367.0h0M205.6 373.4h0M208.5 392.2h0M210.2 375.5h0M207.5 382.8h0M199.1 378.2h0M215.6 375.5h0M203.5 368.2h0M207.9 368.2h0M204.9 356.5h0M205.1 368.4h0M203.2 386.8h0M213.4 377.5h0M212.5 376.1h0M201.5 381.5h0M198.9 387.6h0M205.0 360.6h0M207.8 370.0h0M204.4 380.4h0M206.0 379.7h0M204.7 369.5h0M186.0 390.5h0M207.3 362.1h0M203.1 388.5h0M165.1 382.8h0M206.6 358.3h0M211.9 394.8h0M196.3 386.3h0M204.4 367.8h0M205.3 369.3h0M210.7 367.0h0M203.8 366.8h0M200.9 398.1h0M199.5 389.6h0M190.3 405.9h0M208.1 363.5h0M204.2 379.2h0M206.6 357.2h0M209.8 365.8h0" stroke="#b42a26" stroke-width="1.35" stroke-linecap="round" fill="none"/>
<path d="M203.4 367.8h0M195.6 377.2h0M195.0 385.0h0M203.5 379.8h0M208.8 377.7h0M208.3 370.4h0M195.8 392.4h0M214.6 369.4h0M199.7 387.7h0M197.0 389.6h0M187.8 399.5h0M204.6 369.4h0M195.8 381.4h0M206.5 396.6h0M200.8 373.2h0M200.5 386.3h0M206.5 360.7h0M202.9 366.3h0M206.0 357.7h0M198.8 397.5h0M219.3 391.2h0M201.9 380.1h0M197.7 396.9h0M198.5 373.5h0M206.0 391.1h0M199.2 395.7h0M201.0 372.3h0M209.3 374.0h0M211.4 369.0h0M205.7 394.2h0M203.4 365.4h0M202.9 398.2h0M174.5 388.0h0M205.9 388.2h0M213.0 387.6h0M207.5 360.9h0M208.6 372.4h0M203.7 383.0h0M203.3 373.0h0M177.1 389.4h0M208.3 371.2h0M205.1 384.3h0M204.4 368.0h0M208.0 371.7h0M203.1 368.2h0M207.2 374.0h0M207.4 391.9h0M193.8 398.7h0M200.0 378.8h0M202.1 368.5h0M204.3 368.3h0M200.1 396.9h0M198.9 383.4h0M203.2 375.6h0M199.5 380.9h0M209.3 379.5h0M207.9 365.9h0M201.0 397.4h0M196.3 375.9h0M195.1 397.3h0M203.2 398.4h0M209.3 371.7h0M202.0 369.0h0M199.2 368.0h0M203.8 381.7h0" stroke="#c86058" stroke-width="1.35" stroke-linecap="round" fill="none"/>
<path d="M209.8 387.2h0M202.0 382.4h0M197.9 370.3h0M198.8 391.7h0M203.0 374.0h0M203.2 397.7h0M163.8 383.6h0M199.6 396.3h0M201.1 369.7h0M208.5 394.2h0M202.7 369.1h0M207.9 363.9h0M201.9 397.1h0M204.5 385.4h0M198.9 381.4h0M194.1 398.7h0M201.0 365.1h0M200.1 389.8h0M200.2 375.3h0M199.4 382.5h0M203.6 392.6h0M210.1 393.6h0M206.2 367.9h0M204.1 383.3h0M202.9 370.8h0M214.2 376.0h0M206.7 355.6h0M211.7 396.7h0M211.2 365.5h0M198.4 383.4h0M200.1 377.9h0M201.9 413.1h0M198.1 381.0h0M207.6 374.1h0M203.5 377.7h0M206.2 386.0h0M206.1 375.0h0M210.6 368.2h0M187.9 391.0h0M174.2 391.7h0M207.2 363.3h0M205.0 394.4h0M200.5 373.8h0M209.3 388.4h0" stroke="#a02420" stroke-width="1.35" stroke-linecap="round" fill="none"/>
<path d="M194.8 391.5h0M202.4 377.5h0M212.8 371.1h0M214.0 382.6h0M188.3 390.1h0M206.7 364.3h0M201.2 372.2h0M201.9 372.1h0M177.8 392.8h0M204.8 368.9h0M212.4 393.8h0M194.2 384.8h0M201.2 376.0h0M204.0 364.9h0M204.2 371.7h0M206.9 375.2h0M202.8 377.6h0M200.4 393.9h0M199.3 379.4h0M206.6 380.1h0M213.1 380.2h0M176.1 388.2h0M205.1 365.1h0M204.4 396.1h0M194.0 385.5h0M208.5 379.2h0M194.8 382.6h0M204.0 395.9h0M204.7 377.3h0M205.6 372.0h0M212.6 397.3h0M210.9 370.3h0M202.0 379.6h0M199.9 381.2h0M206.1 378.5h0M199.5 385.2h0M200.0 385.1h0M204.2 377.7h0M199.9 375.9h0M206.7 384.4h0M207.1 373.0h0M201.5 375.7h0M206.6 361.2h0M201.0 379.6h0M208.8 365.0h0M205.5 364.4h0M207.1 356.2h0M198.6 374.7h0M206.8 376.3h0M200.9 398.8h0M200.6 399.7h0M204.4 363.1h0M191.3 391.7h0M203.6 385.2h0M210.6 379.6h0M214.6 376.6h0M209.8 397.3h0M206.3 368.2h0M209.7 372.7h0M203.9 371.3h0M205.6 369.4h0M208.9 382.7h0M202.3 370.4h0M199.8 396.5h0M193.7 389.2h0" stroke="#c83830" stroke-width="1.35" stroke-linecap="round" fill="none"/>
<path d="M202.3 388.1h0M207.0 378.6h0M207.2 372.8h0M209.8 374.9h0M200.8 375.0h0M208.4 383.5h0M205.5 363.4h0M188.4 404.1h0M206.8 376.9h0M203.5 363.6h0M203.8 367.5h0M205.6 379.7h0M199.6 374.3h0M200.3 394.1h0M206.1 389.8h0M205.4 380.0h0M203.9 383.6h0M202.9 398.0h0M194.5 387.5h0M207.3 379.9h0M197.2 373.7h0M207.6 359.4h0M201.2 398.4h0M197.1 372.6h0M215.0 380.5h0M209.8 396.9h0M207.9 377.7h0M203.0 374.7h0M209.8 379.4h0M207.2 377.4h0M208.6 401.4h0M197.5 395.1h0M206.1 358.8h0M206.2 377.8h0M207.8 398.9h0M206.8 386.2h0M184.0 387.6h0M205.8 386.4h0M205.5 356.7h0M201.4 411.6h0M212.9 375.3h0M210.7 369.1h0M201.3 392.3h0M203.7 382.6h0M201.0 390.5h0M195.6 379.0h0M201.5 406.5h0M215.3 378.9h0M205.8 371.2h0M197.5 377.7h0M207.5 359.6h0" stroke="#d04a40" stroke-width="1.35" stroke-linecap="round" fill="none"/>
<rect x="240.30" y="343.70" width="4.60" height="106.10" fill="url(#cm)" stroke="#3a3a3a" stroke-width="0.8"/>
<line x1="244.90" y1="354.10" x2="247.90" y2="354.10" stroke="#333" stroke-width="0.9"/>
<text x="251.90" y="356.45" font-size="6.6" fill="#333">10</text>
<line x1="244.90" y1="373.20" x2="247.90" y2="373.20" stroke="#333" stroke-width="0.9"/>
<text x="251.90" y="375.55" font-size="6.6" fill="#333">8</text>
<line x1="244.90" y1="392.30" x2="247.90" y2="392.30" stroke="#333" stroke-width="0.9"/>
<text x="251.90" y="394.65" font-size="6.6" fill="#333">6</text>
<line x1="244.90" y1="412.00" x2="247.90" y2="412.00" stroke="#333" stroke-width="0.9"/>
<text x="251.90" y="414.35" font-size="6.6" fill="#333">4</text>
<line x1="244.90" y1="430.60" x2="247.90" y2="430.60" stroke="#333" stroke-width="0.9"/>
<text x="251.90" y="432.95" font-size="6.6" fill="#333">2</text>
<line x1="244.90" y1="449.80" x2="247.90" y2="449.80" stroke="#333" stroke-width="0.9"/>
<text x="251.90" y="452.15" font-size="6.6" fill="#333">0</text>
<line x1="278.30" y1="356.40" x2="365.50" y2="356.40" stroke="#a2a2a2" stroke-width="0.75"/>
<line x1="278.30" y1="356.40" x2="279.80" y2="414.90" stroke="#a2a2a2" stroke-width="0.75"/>
<line x1="334.20" y1="356.40" x2="334.20" y2="410.10" stroke="#a2a2a2" stroke-width="0.75"/>
<line x1="365.50" y1="356.40" x2="362.60" y2="428.20" stroke="#a2a2a2" stroke-width="0.75"/>
<line x1="279.80" y1="414.90" x2="334.00" y2="410.10" stroke="#a2a2a2" stroke-width="0.75"/>
<line x1="334.00" y1="410.10" x2="362.60" y2="428.20" stroke="#a2a2a2" stroke-width="0.75"/>
<line x1="279.80" y1="414.90" x2="293.50" y2="438.20" stroke="#a2a2a2" stroke-width="0.75"/>
<line x1="293.50" y1="438.20" x2="362.60" y2="428.20" stroke="#a2a2a2" stroke-width="0.75"/>
<line x1="276.60" y1="406.90" x2="275.51" y2="361.30" stroke="#1a1a1a" stroke-width="1.0"/>
<path d="M275.40 356.80L278.14 362.74L275.51 361.50L272.94 362.86Z" fill="#111"/>
<line x1="288.80" y1="435.90" x2="281.58" y2="423.58" stroke="#1a1a1a" stroke-width="1.0"/>
<path d="M279.30 419.70L284.58 423.56L281.68 423.75L280.09 426.19Z" fill="#111"/>
<line x1="361.70" y1="431.50" x2="302.65" y2="440.33" stroke="#1a1a1a" stroke-width="1.0"/>
<path d="M298.20 441.00L303.75 437.54L302.85 440.30L304.52 442.68Z" fill="#111"/>
<text x="267.65" y="382.10" font-size="8.2" text-anchor="middle" transform="rotate(90 267.65 382.10)" textLength="14.3" lengthAdjust="spacingAndGlyphs">DC2</text>
<text x="277.71" y="434.16" font-size="8.4" text-anchor="middle" transform="rotate(59 277.71 434.16)" textLength="14.3" lengthAdjust="spacingAndGlyphs">DC3</text>
<text x="332.44" y="444.75" font-size="8.0" text-anchor="middle" transform="rotate(-8.7 332.44 444.75)" textLength="13.8" lengthAdjust="spacingAndGlyphs">DC1</text>
<text x="280.80" y="342.00" font-size="6.6" textLength="83.0" lengthAdjust="spacingAndGlyphs" fill="#222" stroke="#222" stroke-width="0.15">FLT4 - ENSMUSG00000020357</text>
<path d="M333.7 388.2h0M326.8 410.5h0M338.6 372.4h0M331.4 410.1h0M290.1 378.7h0M310.7 392.8h0M300.7 385.7h0M342.2 400.7h0M330.5 387.4h0M337.7 396.7h0M330.6 398.3h0M306.9 390.2h0M302.4 387.4h0M318.0 392.8h0M317.5 394.2h0M338.2 404.8h0M303.6 388.8h0M334.6 395.6h0M333.1 410.3h0M325.6 416.6h0M335.5 407.6h0M333.3 403.2h0M335.7 382.9h0M309.7 393.9h0M306.4 389.6h0M330.2 400.7h0M337.3 378.4h0M314.9 395.2h0M326.1 413.0h0M309.3 389.8h0M334.6 384.6h0M325.7 405.5h0M339.1 367.4h0M337.3 383.7h0M299.3 385.8h0M357.2 390.6h0M334.8 409.4h0M341.9 401.6h0M303.4 387.8h0M341.5 384.2h0M315.7 392.6h0M337.0 392.9h0M333.5 384.4h0M336.6 408.6h0M288.5 378.5h0M336.5 392.4h0M333.9 376.7h0M331.1 395.4h0M348.4 392.1h0M332.3 385.6h0M341.2 386.2h0M327.1 408.2h0M318.1 392.0h0M334.7 384.4h0M321.2 394.0h0M327.2 385.8h0M352.0 398.7h0M347.6 378.3h0M299.4 387.5h0M340.7 406.9h0M344.8 399.4h0M332.4 399.4h0M340.0 363.0h0M314.4 394.5h0M336.0 364.0h0M294.1 382.2h0M302.4 388.6h0M315.0 389.8h0M350.5 381.8h0M327.0 414.5h0M328.2 414.6h0M353.2 397.4h0M341.5 402.7h0M322.0 405.0h0M341.9 376.0h0M336.0 401.3h0M351.2 396.5h0M334.0 399.7h0M323.5 413.3h0M321.4 412.3h0M323.3 399.8h0M335.8 403.0h0M339.0 396.8h0M327.5 407.5h0M342.7 405.1h0M328.0 384.3h0M342.0 403.7h0M328.9 394.8h0M309.2 390.7h0M334.8 372.9h0M301.9 388.6h0M299.2 386.7h0M348.5 384.2h0M341.0 362.3h0M331.9 381.7h0M331.9 410.0h0M334.0 373.9h0M294.0 381.9h0M340.6 375.6h0M329.9 399.4h0M336.0 373.8h0M318.7 393.9h0M332.9 373.9h0M335.0 407.8h0M349.5 396.0h0M334.7 381.0h0M308.9 389.9h0M337.1 400.6h0M333.4 384.1h0M344.6 399.0h0M339.1 387.3h0M347.4 374.0h0M297.7 384.5h0M344.3 375.8h0M333.3 394.1h0M346.9 400.5h0M317.9 395.7h0M335.2 368.3h0M329.3 381.8h0M327.9 400.5h0M328.3 385.1h0M334.7 388.5h0M329.1 377.9h0M310.0 391.5h0M341.7 373.3h0M314.6 387.9h0M337.5 395.5h0M290.3 379.5h0M298.9 385.3h0M345.4 402.2h0M325.8 397.7h0M353.3 392.1h0M346.2 383.3h0M339.6 377.0h0M307.4 389.5h0M290.8 379.8h0M344.3 384.0h0M334.6 382.4h0M289.8 377.7h0M337.6 379.2h0M294.9 382.6h0M323.0 405.3h0M299.1 387.6h0M331.8 408.2h0M327.9 404.6h0M328.6 387.1h0M312.9 397.9h0M308.4 390.9h0M327.6 410.0h0M352.0 392.0h0M323.5 391.2h0M316.3 391.2h0M300.0 386.6h0M328.2 387.6h0M338.2 388.6h0M324.1 399.7h0M314.1 391.5h0M300.3 389.1h0M337.1 396.5h0M295.0 383.1h0M345.0 401.7h0M316.7 395.4h0M336.4 389.7h0M334.8 400.8h0M329.7 394.4h0M331.6 389.6h0M336.5 385.9h0M322.5 412.4h0M329.8 384.9h0M339.1 382.9h0M302.1 386.8h0M309.2 389.8h0M327.0 411.2h0M306.4 390.5h0M325.9 407.8h0M325.8 407.0h0M335.5 412.5h0M354.4 397.1h0M338.6 407.0h0M335.7 374.1h0M321.9 401.6h0M338.9 400.7h0M336.8 378.9h0M310.8 392.0h0M321.7 413.8h0M332.2 395.1h0M341.2 396.7h0M353.4 391.3h0M334.3 390.4h0M337.6 400.0h0M348.3 388.1h0M340.7 389.6h0M327.4 397.3h0M327.1 399.4h0M331.2 398.2h0M335.3 399.7h0M333.8 404.4h0M351.4 380.8h0M327.2 402.4h0M341.7 405.9h0M333.1 376.9h0M340.4 367.6h0M345.8 373.7h0M345.7 376.8h0M317.8 388.1h0M330.5 412.3h0M332.1 388.6h0M351.5 393.7h0M343.0 405.5h0M335.8 405.0h0M319.6 392.1h0M325.1 417.3h0M303.9 391.8h0M331.9 384.6h0M329.7 403.1h0M338.1 403.4h0M340.9 374.7h0M337.4 402.2h0M335.5 371.8h0M333.2 402.8h0M309.6 395.1h0M317.9 391.6h0M317.6 397.8h0M324.2 417.8h0M336.4 372.1h0M307.4 391.9h0M343.7 372.7h0M338.8 376.6h0M314.0 388.3h0M334.7 372.2h0M329.9 376.3h0M310.3 390.5h0M347.0 399.6h0M333.8 382.7h0M293.9 382.7h0M317.4 396.2h0M339.7 407.3h0M298.9 385.3h0M338.5 392.6h0M307.4 389.0h0M335.9 373.2h0M343.1 392.5h0M349.0 385.8h0M337.8 386.4h0M334.2 409.9h0M336.0 398.0h0M323.9 392.8h0M331.0 393.3h0M345.8 389.6h0M309.2 388.6h0M307.8 388.4h0M337.9 378.2h0M347.7 382.3h0M333.6 409.8h0M336.4 366.8h0M314.7 387.6h0M330.9 403.8h0M331.4 386.6h0M329.6 374.1h0M317.7 394.4h0M342.2 385.4h0M321.0 399.4h0M336.0 394.9h0M351.8 379.7h0M348.9 401.3h0M320.5 391.4h0M304.6 388.3h0M321.0 391.2h0M336.4 384.5h0M309.2 393.6h0M301.4 387.0h0M325.0 406.1h0M305.1 387.9h0M335.8 400.5h0M320.2 393.8h0M328.2 403.3h0M339.0 372.0h0M356.1 391.9h0M305.0 390.2h0M335.0 399.7h0M329.4 414.9h0M338.4 372.7h0M334.8 390.6h0M337.6 369.7h0M335.0 368.7h0M354.8 392.0h0M326.4 418.6h0M296.0 383.5h0M328.7 390.9h0M328.6 396.8h0M321.4 402.2h0M301.0 386.2h0M320.7 391.3h0M332.3 378.4h0M307.6 393.1h0M330.4 401.6h0M328.5 398.4h0M329.3 410.6h0M331.6 398.4h0M333.2 412.2h0M346.6 390.6h0M317.5 395.0h0M307.4 389.2h0M326.4 402.6h0M344.6 393.7h0M330.0 411.2h0M340.4 401.6h0M327.3 411.1h0M290.7 379.9h0M325.3 398.1h0M336.9 390.8h0M339.5 395.4h0M328.1 381.1h0M321.0 400.5h0M324.2 400.9h0M326.3 377.7h0M333.9 381.1h0M328.4 397.9h0M334.4 379.6h0M334.0 385.7h0M336.6 379.5h0M307.6 389.4h0M334.8 373.9h0M338.0 378.2h0M308.7 395.2h0M347.9 377.4h0M329.3 385.5h0M335.9 387.3h0M337.0 373.2h0M314.3 389.6h0M291.9 382.2h0M304.3 386.9h0M333.6 400.4h0M336.9 407.5h0M336.4 396.5h0M334.8 369.3h0M342.5 383.0h0M318.0 390.7h0M343.0 404.0h0M340.6 382.2h0M299.2 387.5h0M329.6 397.9h0M306.3 388.1h0M330.0 412.3h0M336.2 399.1h0M292.2 382.4h0M333.2 377.9h0M333.9 409.5h0M340.3 392.1h0M330.2 403.4h0M340.7 398.3h0M331.1 409.0h0M329.9 369.6h0M330.2 387.7h0M335.6 385.9h0M324.1 394.8h0M300.6 386.9h0M348.3 389.3h0M332.9 388.0h0M358.1 387.6h0M336.3 369.5h0M303.9 387.3h0M307.1 388.8h0M325.5 400.5h0M330.6 366.1h0M325.1 406.9h0M337.8 369.3h0M334.1 390.8h0M335.3 378.1h0M334.0 382.5h0M302.7 388.6h0M294.7 383.1h0M333.8 390.2h0M348.3 398.3h0M304.6 390.6h0M305.1 388.8h0M331.9 385.3h0M350.5 383.4h0M346.8 391.1h0M325.0 396.5h0M324.4 402.3h0M331.3 397.6h0M352.9 381.6h0M333.7 397.5h0M297.7 386.2h0M335.3 388.4h0M336.7 371.6h0M329.1 401.1h0M328.7 388.6h0M343.4 366.5h0M328.6 378.9h0M311.8 392.2h0M313.6 390.0h0M334.1 409.1h0M307.4 392.6h0M326.7 403.6h0M298.7 385.3h0M327.8 408.5h0M339.0 393.8h0M336.9 385.1h0M354.7 384.4h0M303.3 389.2h0M342.9 397.3h0M332.5 393.8h0M327.5 403.1h0M329.8 416.2h0M338.3 406.8h0M299.8 387.0h0M328.9 383.7h0M348.9 380.7h0M327.7 402.0h0M333.6 399.3h0M316.5 401.8h0M319.3 385.3h0M321.3 393.8h0M332.6 397.4h0M340.1 370.8h0M352.7 392.1h0M333.2 410.6h0M309.8 393.9h0M332.9 371.5h0M335.8 390.2h0M320.8 385.2h0M306.2 392.2h0M331.6 384.1h0M339.9 407.8h0M324.6 397.6h0M331.0 390.8h0M329.7 400.3h0M339.2 358.6h0M334.2 411.2h0M327.1 395.8h0M332.2 409.7h0M327.0 398.0h0M310.1 389.3h0M341.9 405.0h0M339.5 382.2h0M306.5 389.5h0M333.3 410.1h0M333.0 382.7h0M341.4 378.1h0M334.6 403.9h0M332.2 392.2h0M301.9 386.9h0M327.1 410.6h0M331.7 411.2h0M342.0 369.7h0M297.2 385.2h0M347.0 379.9h0M346.4 384.7h0M309.9 391.4h0M317.8 396.9h0M322.1 390.4h0M334.9 410.4h0M330.6 392.3h0M308.7 392.4h0M326.7 400.0h0M340.7 388.7h0M315.1 391.4h0M319.8 397.5h0M315.9 392.7h0M334.4 374.5h0M318.2 397.0h0M342.8 377.0h0M318.7 390.8h0M347.2 393.5h0M318.5 395.0h0M325.6 414.7h0M336.7 391.0h0M337.2 374.4h0M334.8 398.4h0M333.3 374.6h0M350.6 391.3h0M341.5 401.7h0M355.5 383.6h0M338.6 390.3h0M320.7 391.7h0M304.3 389.3h0M348.5 379.8h0M305.7 389.7h0M318.2 398.2h0M327.7 413.0h0M347.8 377.1h0M334.2 380.1h0M335.0 362.1h0M333.1 400.0h0M327.1 392.6h0M332.3 396.7h0M350.4 394.0h0M318.5 390.8h0M299.1 386.4h0M337.8 400.6h0M331.8 398.2h0M333.1 386.6h0M330.3 372.2h0M340.7 405.0h0M337.3 376.1h0M336.5 394.2h0M328.3 410.2h0M332.1 384.2h0M350.4 385.3h0M340.1 376.9h0M331.4 399.2h0M329.6 376.9h0M332.2 404.0h0M345.0 376.4h0M336.3 374.3h0M354.6 393.7h0M340.0 386.1h0M316.8 388.7h0M298.7 385.6h0M327.6 402.3h0M321.5 393.2h0M337.1 392.7h0M320.3 391.9h0M303.1 387.4h0M341.3 361.0h0M332.4 390.1h0M302.6 388.6h0M345.3 383.9h0M318.9 396.2h0M298.8 384.6h0M312.5 391.5h0M349.6 388.5h0M343.9 398.5h0M339.7 380.9h0M308.9 392.1h0M344.2 373.8h0M344.6 390.2h0M320.6 387.7h0M297.7 386.9h0M306.8 390.1h0M333.1 391.8h0M355.3 397.8h0M327.3 401.2h0M318.2 395.8h0M350.4 386.7h0M321.5 405.8h0M335.8 397.2h0M324.9 409.2h0M334.3 411.4h0M333.9 401.1h0M317.6 393.5h0M334.2 401.9h0M335.5 403.7h0M357.5 384.5h0M336.9 367.0h0M328.9 404.0h0M303.1 387.3h0M335.3 395.0h0M303.2 387.4h0M333.1 410.2h0M302.8 388.0h0M324.2 405.0h0M313.9 391.3h0M318.3 392.4h0M324.7 388.5h0M306.8 390.9h0M318.8 392.1h0M333.9 382.1h0M333.5 401.7h0M341.6 392.2h0M304.0 387.4h0M332.2 397.4h0M336.0 379.3h0M303.7 391.2h0M324.7 390.1h0M295.2 382.7h0M319.6 409.9h0M322.4 412.4h0M355.8 390.2h0M331.2 385.4h0M348.8 389.8h0M315.4 389.2h0M328.1 383.6h0M310.3 393.6h0M330.9 392.9h0M332.5 401.4h0M333.6 392.2h0M320.9 389.6h0M308.1 388.3h0M357.6 386.9h0M342.0 397.4h0M338.3 400.0h0M334.5 376.3h0M337.0 379.9h0M336.0 404.3h0M348.7 380.6h0M326.2 416.5h0M317.2 394.0h0M351.1 389.3h0M337.5 410.6h0M345.9 381.0h0M332.4 396.3h0M333.0 382.7h0M333.9 411.2h0M341.6 398.2h0M342.9 379.7h0M316.0 396.5h0M287.8 378.0h0M329.0 397.5h0M343.2 386.8h0M328.1 386.9h0M312.5 393.9h0M335.4 410.0h0M338.5 386.0h0M341.6 402.6h0M336.9 379.0h0M324.8 394.2h0M308.0 393.8h0M308.6 390.3h0M320.7 391.0h0M333.3 405.4h0M338.0 377.6h0M307.7 389.4h0M348.9 377.2h0M298.7 386.3h0M328.8 403.8h0M296.1 383.8h0M339.2 366.6h0M350.5 393.4h0M291.0 380.1h0M299.1 387.0h0M344.1 399.8h0M298.9 386.3h0M309.2 389.5h0M320.9 390.8h0M292.0 381.3h0M318.7 397.3h0M348.1 389.2h0M295.6 383.0h0M336.0 378.3h0M333.4 374.9h0M351.1 393.7h0M358.8 385.3h0M333.8 383.1h0M336.6 409.5h0M330.6 402.1h0M330.7 408.5h0M320.4 392.7h0M325.1 388.7h0M345.6 381.8h0M340.3 375.6h0M336.8 389.7h0M335.5 395.0h0M339.2 383.2h0M335.7 403.7h0M301.6 386.6h0M356.7 385.6h0M337.4 375.1h0M313.6 395.1h0M326.6 418.5h0M359.2 387.3h0M319.5 399.4h0M350.3 399.7h0M309.9 388.0h0M295.6 383.4h0M352.0 395.0h0M345.0 387.7h0M350.0 377.7h0M337.3 362.1h0M324.5 416.3h0M315.4 391.9h0M302.4 387.8h0M334.7 401.0h0M333.4 383.9h0M305.8 389.2h0M330.6 408.7h0M331.9 404.1h0M353.3 387.9h0M328.8 394.7h0M325.1 416.5h0M320.7 397.4h0M330.0 410.5h0M328.1 418.8h0M320.8 391.6h0M313.3 390.5h0M305.7 393.5h0M346.4 372.6h0M304.4 388.2h0M307.3 389.6h0M321.9 395.5h0M336.7 358.2h0M351.1 384.3h0M341.5 401.3h0M331.4 382.6h0M311.5 393.3h0M317.5 390.2h0M353.9 388.3h0M289.7 378.5h0M349.7 397.2h0M337.8 407.3h0M306.1 388.1h0M322.9 393.9h0M337.7 408.0h0M300.0 387.6h0M315.2 397.3h0M321.2 400.9h0M336.0 378.9h0M310.1 394.4h0M323.3 388.2h0M336.0 393.0h0M340.0 387.0h0M327.1 402.0h0M337.6 381.7h0M330.0 414.0h0M293.4 381.6h0M332.6 401.9h0M334.3 386.1h0M327.6 401.5h0M341.9 398.9h0M332.7 409.4h0M314.3 392.6h0M316.5 391.7h0M352.8 383.6h0M340.6 377.7h0M340.6 363.4h0M321.2 407.3h0M335.8 396.3h0M328.6 390.2h0M333.4 409.0h0M337.1 398.2h0M322.9 409.5h0M324.9 391.6h0M336.3 367.0h0M318.2 393.1h0M326.8 392.0h0M318.0 391.7h0M320.4 389.6h0M298.6 386.1h0M331.6 397.4h0M347.8 376.8h0M326.9 409.2h0M325.9 395.6h0M326.3 406.9h0M338.5 382.2h0M300.9 386.4h0M346.9 393.3h0M319.6 394.7h0M321.2 411.4h0M311.1 391.7h0M339.2 363.4h0M335.4 405.3h0M325.4 413.7h0M323.7 414.1h0M295.7 383.1h0M351.7 395.2h0M339.6 365.8h0M302.4 390.8h0M339.3 401.2h0M338.9 374.8h0M334.6 370.5h0M335.7 398.2h0M337.8 382.7h0M346.1 399.5h0M332.7 384.6h0M326.6 405.4h0M341.8 366.1h0M308.0 389.1h0M340.3 376.7h0M319.1 393.0h0M324.7 383.4h0M337.3 388.8h0M315.2 395.6h0M336.2 388.2h0M326.1 416.5h0M347.5 378.2h0M341.3 389.5h0M298.9 385.5h0M328.4 393.4h0M335.7 386.9h0M330.8 411.0h0M335.9 407.2h0M336.9 375.7h0M303.1 387.7h0M350.2 377.3h0M329.6 404.1h0M295.3 385.2h0M338.5 374.9h0M328.1 412.1h0M319.8 390.6h0M326.4 388.7h0M331.4 378.5h0M341.6 381.7h0M344.3 376.3h0M305.1 390.2h0M323.6 409.2h0M359.3 386.0h0M310.5 387.2h0M320.0 396.1h0M320.6 393.9h0M339.8 395.5h0M328.7 397.2h0M337.1 374.6h0M337.6 372.5h0M337.8 406.0h0M349.4 375.5h0M307.2 390.3h0M330.2 412.6h0M330.3 400.1h0M302.0 386.3h0M293.0 381.0h0M332.2 389.8h0M346.4 392.9h0M323.5 406.8h0M328.2 396.3h0M340.2 398.6h0M330.9 406.9h0M341.1 391.7h0M296.5 384.3h0M298.0 385.6h0M316.6 393.9h0M334.5 394.7h0M342.3 382.3h0M298.6 384.0h0M331.5 409.9h0M346.3 398.3h0M296.9 384.5h0M328.8 400.3h0M327.0 405.0h0M310.1 389.6h0M337.4 396.8h0M337.8 392.7h0M341.5 408.5h0M331.3 404.1h0M335.7 366.4h0M336.8 368.5h0M330.8 399.5h0M334.4 377.8h0M326.0 411.3h0M295.3 384.0h0M334.0 396.9h0M321.7 394.0h0M302.4 386.2h0M328.5 394.3h0M336.3 398.9h0M338.5 359.9h0M327.7 402.2h0M315.4 392.6h0M342.6 370.4h0M342.7 363.5h0M338.5 358.3h0M290.3 379.5h0M344.3 395.2h0M347.2 379.3h0M337.4 396.8h0M320.8 406.6h0M310.6 394.5h0M336.6 385.2h0M343.4 369.8h0M335.2 409.3h0M355.8 387.7h0M349.1 385.0h0M343.6 378.6h0M331.2 403.8h0M341.1 383.8h0M335.4 399.1h0M331.5 414.3h0M322.7 401.5h0M304.3 391.7h0M323.7 404.6h0M343.1 395.3h0M326.5 408.2h0M352.9 393.7h0M344.4 394.5h0M311.4 393.6h0M288.1 376.2h0M289.9 379.6h0M338.6 356.9h0M322.9 397.7h0M335.7 369.2h0M334.4 410.7h0M333.6 365.2h0M356.1 385.1h0M346.4 403.7h0M335.2 364.0h0M333.8 409.3h0M326.1 414.1h0M290.2 379.4h0M306.4 389.1h0M326.5 400.6h0M290.5 378.6h0M323.3 412.8h0M333.7 398.0h0M309.1 390.5h0M296.8 386.7h0M331.6 414.1h0M347.1 386.8h0M336.9 381.8h0M336.7 383.2h0M324.5 408.5h0M345.8 377.2h0M298.5 384.5h0M334.2 405.5h0M331.3 405.2h0M338.6 358.8h0M332.4 395.8h0M354.2 396.4h0M325.4 412.4h0M334.8 376.9h0M302.8 387.5h0M344.7 397.1h0M337.8 369.1h0M327.8 381.4h0M323.6 395.6h0M326.3 397.2h0M296.8 385.6h0M313.6 390.7h0M300.4 387.1h0M310.5 390.3h0M293.4 382.7h0M349.3 392.0h0M350.7 392.0h0M339.0 403.1h0M291.9 381.6h0M289.2 378.6h0M339.5 396.3h0M335.0 399.4h0M352.0 391.7h0M335.5 380.6h0M328.1 415.5h0M340.0 367.8h0M318.7 388.2h0M333.6 392.6h0M322.9 394.7h0M309.9 389.4h0M287.5 377.4h0M325.8 395.0h0M325.8 394.4h0M355.0 395.8h0M338.1 358.4h0M327.5 408.5h0M320.7 398.3h0M330.1 417.9h0M299.7 386.0h0M328.1 409.4h0M302.3 389.5h0M330.6 381.0h0M346.1 382.5h0M345.5 400.6h0M334.9 379.6h0M356.6 387.6h0M336.7 383.4h0M296.5 383.0h0M321.4 410.7h0M297.6 384.1h0M315.2 391.0h0M332.1 373.4h0M335.9 409.1h0M290.7 379.3h0M340.5 386.8h0M342.3 396.7h0M337.6 365.2h0M329.0 417.8h0M348.1 401.5h0M347.6 377.0h0M333.5 408.1h0M344.8 390.2h0M317.1 394.1h0M338.2 371.5h0M334.7 393.6h0M335.1 373.9h0M325.8 398.9h0M315.4 394.0h0M319.0 395.1h0M351.4 384.0h0M336.7 369.4h0M350.4 396.2h0M340.5 382.8h0M329.6 377.8h0M321.4 400.2h0M338.8 379.9h0M305.2 388.0h0M349.9 384.2h0M348.4 390.3h0M322.2 400.8h0M312.9 390.4h0M307.5 391.0h0M332.1 389.8h0M338.0 390.0h0M337.0 397.0h0M295.9 383.2h0M298.6 384.2h0M311.3 394.3h0M333.1 375.0h0M340.5 363.4h0M314.3 393.4h0M313.4 392.3h0M296.9 384.0h0M323.5 415.2h0M306.7 389.1h0M323.7 404.6h0M334.6 401.9h0M345.4 395.1h0M316.0 392.2h0M332.4 374.5h0M342.6 399.4h0M319.2 391.7h0M333.9 402.1h0M336.2 404.0h0M324.7 388.3h0M336.2 371.1h0M313.7 390.9h0M318.5 401.7h0M323.5 404.8h0M322.5 417.8h0M330.0 388.8h0M337.8 397.4h0M345.0 401.9h0M291.9 381.8h0M331.0 393.1h0M320.3 409.2h0M306.9 393.6h0M341.1 391.1h0M302.0 386.4h0M337.4 378.8h0M342.9 398.7h0M334.8 410.1h0M311.0 391.9h0M293.5 382.4h0M297.2 385.9h0M327.3 407.1h0M326.7 391.4h0M330.9 390.5h0M334.2 389.4h0M352.9 387.5h0M322.6 410.7h0M331.0 396.0h0M310.2 391.0h0M300.0 388.3h0M332.5 380.1h0M294.2 384.3h0M339.6 391.5h0M320.3 392.0h0M321.6 386.2h0M319.5 392.8h0M299.5 387.3h0M335.3 406.9h0M341.2 392.4h0M335.3 375.0h0M305.8 391.6h0M335.9 380.1h0M317.0 392.1h0M342.6 388.6h0M339.4 364.4h0M333.7 385.7h0M343.9 397.6h0M332.7 409.1h0M315.4 393.4h0M337.2 402.8h0M308.7 391.6h0M328.4 374.4h0M345.4 396.8h0M336.6 390.8h0M305.1 391.0h0M332.6 374.3h0M326.2 400.4h0M336.0 390.1h0M329.1 404.3h0M312.9 391.5h0M352.0 389.7h0M323.2 395.3h0M339.4 401.2h0M339.3 365.1h0M321.8 402.7h0M295.6 384.1h0M338.1 401.3h0M333.7 385.4h0M341.1 398.0h0M331.2 379.5h0M357.1 384.7h0M330.1 391.1h0M333.1 406.6h0M313.1 390.0h0M338.3 371.9h0M306.4 391.2h0M332.0 405.8h0M339.1 407.1h0M328.4 382.0h0M345.8 378.6h0M334.7 393.0h0M351.8 379.4h0M332.0 413.4h0M297.9 384.3h0M325.4 413.2h0M305.0 390.1h0M326.4 406.2h0M332.1 391.3h0M342.8 386.6h0M335.0 366.2h0M334.0 402.7h0M318.7 395.5h0M331.8 401.9h0M332.8 401.2h0M317.9 393.9h0M290.6 380.2h0M335.0 407.0h0M316.7 396.9h0M327.6 395.7h0M342.5 408.6h0M326.6 393.7h0M349.5 394.1h0M334.9 383.5h0M337.1 397.4h0M347.5 398.4h0M318.0 397.2h0M348.1 396.1h0M339.3 404.3h0M351.8 387.9h0M320.3 392.2h0M344.4 400.3h0M327.1 408.9h0M325.6 409.5h0M335.3 408.1h0M334.8 391.2h0M292.0 379.9h0M355.5 392.4h0M333.8 393.2h0M340.8 370.0h0M335.4 406.3h0M292.0 380.7h0M325.4 395.6h0M304.6 388.2h0M334.2 395.2h0M354.5 385.5h0M310.0 392.6h0M316.2 390.1h0M315.2 393.6h0M303.0 387.3h0M344.1 395.5h0M331.0 405.0h0M335.5 377.5h0M336.9 391.1h0M321.4 402.8h0M330.0 407.5h0M316.9 391.3h0M339.7 368.0h0M340.1 409.7h0M336.7 381.3h0M336.8 370.6h0M302.0 387.4h0M324.8 414.5h0M334.4 376.3h0M302.5 391.9h0M306.1 393.1h0M334.3 395.6h0M324.7 414.9h0M335.8 383.8h0M329.1 376.8h0M340.9 366.9h0M339.8 391.5h0M348.3 397.8h0M353.8 382.8h0M349.5 398.0h0M336.7 366.6h0M324.7 408.1h0M321.4 391.2h0M321.2 404.3h0M302.3 387.1h0M337.0 406.4h0M351.5 379.5h0M334.4 405.9h0M295.0 383.1h0M318.6 399.3h0M316.1 391.8h0M334.8 405.6h0M321.1 404.6h0M331.1 399.7h0M329.9 398.7h0M352.7 394.2h0M334.9 370.8h0M341.1 406.8h0M334.2 408.8h0M334.5 399.6h0M325.0 390.8h0M343.4 370.0h0M332.6 396.0h0M332.3 387.4h0M319.3 396.1h0M334.4 410.3h0M353.0 380.9h0M308.8 387.9h0M329.7 400.0h0M299.7 384.9h0M324.0 411.6h0M337.8 367.3h0M296.0 384.6h0M337.5 393.8h0M329.5 381.4h0M332.3 404.9h0M337.8 405.1h0M326.9 406.0h0M321.7 409.3h0M337.4 373.4h0M303.5 387.4h0M319.8 392.0h0M320.0 398.1h0M340.0 377.0h0M319.1 393.5h0M318.3 392.1h0M337.7 380.4h0M350.8 382.6h0M336.4 373.1h0M339.7 361.1h0M318.9 397.0h0M347.6 400.3h0M339.0 383.9h0M340.2 376.2h0M337.4 384.5h0M293.0 383.2h0M293.6 382.1h0M339.2 377.6h0M338.7 378.7h0M317.0 398.3h0M328.9 403.8h0M334.6 400.1h0M303.3 389.2h0M331.8 414.8h0M334.4 386.3h0M337.2 396.9h0M315.7 388.5h0M325.3 400.7h0M332.2 391.5h0M344.1 375.7h0M298.6 385.4h0M326.8 410.8h0M352.9 391.3h0M301.3 386.9h0M335.3 411.6h0M341.3 369.3h0M317.9 403.9h0M310.8 388.4h0M327.7 391.3h0M330.1 380.2h0M319.5 394.0h0M338.0 384.5h0M326.0 402.7h0M292.6 381.1h0M338.2 392.0h0M338.5 386.4h0M321.4 402.6h0M332.1 397.8h0M339.2 377.7h0M338.3 361.6h0M319.6 407.2h0M339.6 376.1h0M337.6 387.8h0M348.2 376.8h0M337.9 409.2h0M322.3 400.1h0M345.4 402.6h0M326.1 403.7h0M346.8 375.0h0M343.0 402.8h0M325.1 411.6h0M293.3 382.7h0M338.4 389.7h0M305.0 389.3h0M349.5 385.1h0M348.5 381.0h0M298.8 386.0h0M342.7 404.3h0M306.7 389.2h0M327.2 402.5h0M320.9 388.2h0M338.1 376.3h0M313.3 393.7h0M318.1 398.0h0M340.1 404.3h0M346.0 402.2h0M334.8 395.4h0M346.8 372.2h0M328.2 415.2h0M333.4 401.6h0M325.6 403.8h0M332.1 391.3h0M349.4 382.9h0M323.3 409.5h0M360.6 389.9h0M345.1 402.5h0M306.9 390.2h0M317.7 389.4h0M327.7 399.7h0M334.8 401.7h0M319.6 398.3h0M335.4 377.9h0M310.4 390.8h0M330.9 392.1h0M308.4 388.8h0M328.0 410.2h0M336.1 397.3h0M325.7 413.6h0M312.3 388.9h0M323.5 402.0h0M326.5 416.2h0M302.4 389.5h0M339.7 375.5h0M331.4 396.1h0M336.3 407.7h0M358.1 392.6h0M329.4 397.3h0M334.4 385.0h0M337.3 379.7h0M349.0 398.6h0M331.1 407.4h0M320.6 412.6h0M333.5 390.1h0M313.7 390.1h0M335.9 395.0h0M304.5 386.8h0M300.9 387.5h0M321.0 391.1h0M296.4 384.7h0M344.2 391.4h0M320.0 395.2h0M323.8 413.3h0M321.4 405.9h0M334.9 382.1h0M315.1 392.2h0M332.8 386.3h0M317.9 391.5h0M322.9 399.7h0M342.5 397.4h0M332.3 386.6h0M287.1 376.5h0M331.8 388.8h0M320.9 391.8h0M299.7 385.3h0M342.8 397.9h0M344.7 401.0h0M337.9 395.2h0M352.8 388.2h0M295.2 383.0h0M300.6 386.0h0M334.4 398.5h0M345.7 395.5h0M332.3 384.0h0M320.2 387.6h0M341.5 404.3h0M334.4 392.0h0M338.0 360.1h0M304.8 388.2h0M340.2 375.2h0M316.9 390.8h0M323.0 409.0h0M339.8 360.1h0M332.8 371.2h0M337.2 382.1h0M335.3 394.5h0M334.4 371.5h0M350.1 383.5h0M334.5 392.9h0M318.7 391.9h0M317.3 392.2h0M334.7 389.7h0M335.7 404.1h0M316.2 395.5h0M332.5 378.7h0M304.7 387.2h0M333.2 395.0h0M344.1 369.0h0M328.8 415.0h0M289.1 378.6h0M339.6 358.0h0M318.7 398.2h0M334.0 374.8h0M325.6 400.8h0M299.8 387.3h0M334.6 406.2h0M318.0 404.6h0M317.5 399.3h0M305.9 392.1h0M294.0 382.0h0M329.6 396.7h0M352.1 388.5h0M333.7 390.4h0M334.4 377.0h0M323.9 400.6h0M333.6 408.5h0M332.8 376.8h0M330.9 413.2h0M343.6 374.4h0M339.3 369.6h0M299.4 387.1h0M339.9 389.1h0M332.5 402.5h0M333.2 404.2h0M339.2 373.0h0M340.8 360.7h0M350.1 395.5h0M331.4 387.1h0M305.6 390.3h0M316.1 389.1h0M339.5 399.8h0M337.5 383.6h0M327.1 417.6h0M297.2 383.6h0M340.5 378.7h0M344.3 405.6h0M335.2 391.9h0M350.8 379.6h0M309.9 391.5h0M326.4 406.2h0M340.2 385.4h0M333.7 401.3h0M324.2 396.7h0M319.8 390.0h0M336.7 383.0h0" stroke="#c2bfbf" stroke-width="1.35" stroke-linecap="round" fill="none"/>
<path d="M336.6 384.5h0M337.6 383.9h0M341.0 391.1h0M356.3 383.6h0M356.2 383.0h0M343.4 371.4h0M338.4 388.0h0M338.0 362.9h0" stroke="#b43c36" stroke-width="1.35" stroke-linecap="round" fill="none"/>
<path d="M338.9 363.6h0M308.4 392.2h0M350.0 381.1h0M330.7 388.1h0" stroke="#c4504a" stroke-width="1.35" stroke-linecap="round" fill="none"/>
<path d="M326.8 417.2h0M358.7 391.2h0M341.2 358.7h0" stroke="#d89890" stroke-width="1.35" stroke-linecap="round" fill="none"/>
<path d="M350.9 395.8h0M336.2 377.8h0M345.5 375.4h0M348.3 382.1h0" stroke="#a83230" stroke-width="1.35" stroke-linecap="round" fill="none"/>
<path d="M320.2 400.1h0M334.4 395.2h0M338.4 403.5h0" stroke="#d07a72" stroke-width="1.35" stroke-linecap="round" fill="none"/>
<rect x="371.50" y="344.50" width="4.30" height="105.90" fill="url(#cm)" stroke="#3a3a3a" stroke-width="0.8"/>
<line x1="375.80" y1="370.60" x2="378.80" y2="370.60" stroke="#333" stroke-width="0.9"/>
<text x="381.90" y="372.95" font-size="6.6" fill="#333">6</text>
<line x1="375.80" y1="397.30" x2="378.80" y2="397.30" stroke="#333" stroke-width="0.9"/>
<text x="381.90" y="399.65" font-size="6.6" fill="#333">4</text>
<line x1="375.80" y1="423.20" x2="378.80" y2="423.20" stroke="#333" stroke-width="0.9"/>
<text x="381.90" y="425.55" font-size="6.6" fill="#333">2</text>
<line x1="375.80" y1="448.90" x2="378.80" y2="448.90" stroke="#333" stroke-width="0.9"/>
<text x="381.90" y="451.25" font-size="6.6" fill="#333">0</text>
<line x1="404.90" y1="356.30" x2="492.10" y2="356.30" stroke="#a2a2a2" stroke-width="0.75"/>
<line x1="404.90" y1="356.30" x2="406.40" y2="414.80" stroke="#a2a2a2" stroke-width="0.75"/>
<line x1="460.80" y1="356.30" x2="460.80" y2="410.00" stroke="#a2a2a2" stroke-width="0.75"/>
<line x1="492.10" y1="356.30" x2="489.20" y2="428.10" stroke="#a2a2a2" stroke-width="0.75"/>
<line x1="406.40" y1="414.80" x2="460.60" y2="410.00" stroke="#a2a2a2" stroke-width="0.75"/>
<line x1="460.60" y1="410.00" x2="489.20" y2="428.10" stroke="#a2a2a2" stroke-width="0.75"/>
<line x1="406.40" y1="414.80" x2="420.10" y2="438.10" stroke="#a2a2a2" stroke-width="0.75"/>
<line x1="420.10" y1="438.10" x2="489.20" y2="428.10" stroke="#a2a2a2" stroke-width="0.75"/>
<line x1="403.20" y1="406.80" x2="402.11" y2="361.20" stroke="#1a1a1a" stroke-width="1.0"/>
<path d="M402.00 356.70L404.74 362.64L402.11 361.40L399.54 362.76Z" fill="#111"/>
<line x1="415.40" y1="435.80" x2="408.18" y2="423.48" stroke="#1a1a1a" stroke-width="1.0"/>
<path d="M405.90 419.60L411.18 423.46L408.28 423.65L406.69 426.09Z" fill="#111"/>
<line x1="488.30" y1="431.40" x2="429.25" y2="440.23" stroke="#1a1a1a" stroke-width="1.0"/>
<path d="M424.80 440.90L430.35 437.44L429.45 440.20L431.12 442.58Z" fill="#111"/>
<text x="394.25" y="382.00" font-size="8.2" text-anchor="middle" transform="rotate(90 394.25 382.00)" textLength="14.3" lengthAdjust="spacingAndGlyphs">DC2</text>
<text x="404.31" y="434.06" font-size="8.4" text-anchor="middle" transform="rotate(59 404.31 434.06)" textLength="14.3" lengthAdjust="spacingAndGlyphs">DC3</text>
<text x="459.04" y="444.65" font-size="8.0" text-anchor="middle" transform="rotate(-8.7 459.04 444.65)" textLength="13.8" lengthAdjust="spacingAndGlyphs">DC1</text>
<text x="405.40" y="339.20" font-size="6.6" textLength="87.9" lengthAdjust="spacingAndGlyphs" fill="#222" stroke="#222" stroke-width="0.15">VEGFA - ENSMUSG00000023951</text>
<path d="M425.6 386.9h0M448.3 411.7h0M435.1 389.8h0M453.1 386.7h0M445.9 389.3h0M465.9 402.2h0M486.2 388.2h0M470.6 380.7h0M462.9 392.0h0M460.5 386.1h0M464.1 378.2h0M465.1 364.7h0M460.3 375.3h0M431.8 391.1h0M433.9 389.1h0M425.9 385.4h0M447.0 412.9h0M463.7 381.6h0M461.5 371.6h0M432.5 388.7h0M461.3 411.3h0M418.1 381.6h0M439.2 391.8h0M472.7 400.1h0M466.2 401.2h0M454.5 383.5h0M446.9 388.3h0M464.5 357.5h0M464.5 390.1h0M450.4 401.4h0M436.7 388.4h0M434.6 392.2h0M434.7 388.1h0M446.0 391.9h0M446.7 397.6h0M468.4 371.3h0M462.0 378.9h0M418.0 379.5h0M460.2 363.0h0M432.6 389.5h0M450.7 397.2h0M454.6 419.0h0M466.6 390.0h0M454.3 402.2h0M445.8 397.8h0M434.2 393.9h0M468.8 400.5h0M463.5 377.2h0M473.7 397.4h0M446.9 394.9h0M464.8 382.8h0M429.0 386.9h0M466.4 363.2h0M452.3 400.9h0M461.4 402.9h0M445.2 388.3h0M452.8 412.7h0M453.7 385.4h0M434.8 393.5h0M462.5 410.9h0M429.3 387.1h0M450.2 401.1h0M477.9 391.3h0M453.0 418.5h0M454.8 412.1h0M449.9 410.8h0M458.1 399.2h0M472.5 380.1h0M478.1 385.8h0M428.8 389.7h0M453.6 395.1h0M452.7 406.3h0M458.1 402.8h0M431.4 388.1h0M454.5 406.1h0M465.3 394.5h0M448.3 395.9h0M466.8 375.7h0M460.7 405.7h0M425.3 384.5h0M422.6 383.4h0M453.4 392.8h0M426.0 386.8h0M456.6 406.7h0M462.8 393.6h0M467.6 366.8h0M467.1 381.6h0M474.4 394.0h0M423.3 383.3h0M468.5 385.2h0M472.6 397.7h0M452.7 393.4h0M462.9 359.3h0M459.4 399.2h0M450.2 388.9h0M457.3 373.4h0M427.5 386.6h0M461.1 406.4h0M451.3 391.3h0M417.6 379.5h0M445.6 390.3h0M467.1 399.6h0M465.3 372.7h0M431.0 387.5h0M420.5 383.3h0M479.5 377.7h0M438.0 390.4h0M427.0 386.0h0M468.9 371.2h0M415.5 377.0h0M469.5 386.4h0M466.2 405.5h0M452.4 392.3h0M434.6 391.7h0M440.2 389.2h0M457.7 372.2h0M467.2 400.8h0M446.2 401.8h0M478.4 379.9h0M468.6 387.1h0M440.8 391.8h0M434.9 392.0h0M459.3 384.2h0M439.8 395.5h0M462.8 372.1h0M457.5 376.2h0M464.4 386.5h0M461.1 376.3h0M415.8 378.1h0M421.9 382.7h0M462.6 381.1h0M471.9 404.0h0M464.6 407.7h0M447.0 393.1h0M454.3 400.0h0M455.3 409.3h0M432.7 388.8h0M432.5 389.6h0M456.6 383.8h0M455.5 416.1h0M448.7 407.6h0M464.5 394.9h0M463.1 382.9h0M452.4 400.0h0M438.3 392.3h0M468.6 405.3h0M463.5 378.0h0M422.5 384.5h0M460.1 399.7h0M455.6 406.1h0M471.5 390.9h0M455.5 412.8h0M455.5 383.4h0M431.0 387.5h0M466.8 393.0h0M469.4 377.0h0M469.1 397.2h0M444.6 392.3h0M463.6 407.1h0M448.6 392.2h0M474.5 399.6h0M467.7 394.1h0M439.2 396.3h0M440.5 391.1h0M473.3 394.9h0M483.3 382.8h0M468.8 397.9h0M464.3 382.4h0M450.9 415.1h0M461.0 396.3h0M457.1 392.6h0M477.1 396.5h0M461.7 386.5h0M431.0 387.4h0M460.5 386.3h0M469.2 373.6h0M464.2 367.5h0M443.8 392.1h0M475.7 397.3h0M457.9 411.4h0M460.3 399.7h0M419.8 381.0h0M458.2 396.2h0M469.1 382.2h0M458.4 402.5h0M454.3 412.9h0M460.0 408.4h0M441.2 391.3h0M446.9 395.2h0M469.1 405.6h0M469.5 396.9h0M452.6 400.5h0M456.2 393.7h0M444.7 399.9h0M421.7 383.0h0M468.8 397.2h0M452.6 404.7h0M466.8 407.5h0M460.3 391.0h0M416.0 379.2h0M464.6 402.7h0M418.0 381.5h0M485.9 388.5h0M424.8 385.0h0M425.3 385.3h0M467.4 390.1h0M433.9 391.1h0M415.7 377.8h0M460.6 405.1h0M446.0 398.0h0M419.2 381.1h0M460.1 406.6h0M453.1 400.7h0M455.5 393.4h0M457.3 409.1h0M464.5 376.6h0M430.7 389.4h0M445.2 388.4h0M475.7 377.1h0M463.3 382.1h0M464.7 358.2h0M462.2 380.8h0M455.0 398.2h0M445.4 402.3h0M430.5 387.5h0M414.6 377.6h0M414.8 377.6h0M475.5 390.6h0M462.5 408.7h0M462.8 391.9h0M415.8 378.6h0M466.6 404.0h0M456.3 386.9h0M473.5 383.0h0M477.9 378.0h0M450.0 415.3h0M426.0 386.2h0M464.7 404.1h0M457.6 394.4h0M454.7 404.6h0M459.7 397.7h0M461.3 382.4h0M433.1 390.8h0M445.3 390.8h0M458.8 378.4h0M452.5 414.0h0M464.4 409.0h0M455.0 409.5h0M460.0 398.7h0M429.0 386.0h0M423.6 385.6h0M477.8 397.2h0M452.1 405.7h0M463.3 368.4h0M465.9 372.5h0M446.4 393.2h0M464.8 394.6h0M460.9 371.4h0M459.5 382.7h0M433.3 390.2h0M429.7 388.0h0M458.5 413.3h0M438.2 392.8h0M439.8 397.6h0M435.2 392.2h0M460.0 372.8h0M439.5 388.5h0M439.5 393.6h0M453.6 405.7h0M423.7 385.1h0M457.6 381.3h0M463.3 363.5h0M463.7 374.3h0M442.8 390.0h0M465.4 365.7h0M450.9 407.4h0M473.0 397.0h0M458.8 387.7h0M471.8 392.9h0M466.2 407.2h0M446.1 398.6h0M470.6 383.4h0M442.8 392.5h0M445.7 389.8h0M459.6 392.7h0M434.2 391.0h0M451.7 397.6h0M453.6 413.7h0M466.4 401.0h0M464.5 365.5h0M459.4 376.3h0M454.1 378.2h0M452.4 400.9h0M458.5 414.3h0M466.3 377.7h0M455.1 410.7h0M463.3 381.0h0M471.8 382.1h0M459.5 392.9h0M463.1 360.0h0M465.4 379.4h0M469.3 402.0h0M470.0 376.1h0M437.3 390.0h0M450.9 412.6h0M459.9 387.6h0M434.9 389.1h0M472.6 398.9h0M452.3 411.8h0M464.0 374.8h0M449.7 395.5h0M456.8 372.0h0M453.5 408.1h0M432.4 387.6h0M458.4 400.3h0M455.9 384.9h0M452.1 410.0h0M441.1 391.3h0M472.6 385.8h0M460.3 412.0h0M460.6 367.4h0M443.8 392.4h0M462.8 373.6h0M423.2 383.7h0M463.4 399.5h0M447.7 408.2h0M476.7 379.4h0M459.8 387.1h0M456.6 394.8h0M463.0 375.3h0M458.2 399.2h0M431.2 390.1h0M458.6 393.7h0M474.0 383.9h0M458.6 407.4h0M465.3 403.2h0M468.1 396.2h0M460.1 402.4h0M472.6 374.8h0M456.8 395.9h0M452.9 408.5h0M445.3 393.0h0M457.1 403.2h0M455.1 387.4h0M461.7 371.2h0M458.7 375.4h0M419.0 382.2h0M436.5 390.0h0M476.7 377.7h0M459.9 386.5h0M465.3 406.3h0M465.3 392.8h0M455.8 402.5h0M448.9 410.4h0M465.0 402.3h0M481.1 390.2h0M466.6 399.5h0M461.1 382.7h0M463.8 406.6h0M463.6 364.7h0M443.0 396.2h0M454.3 418.7h0M471.4 380.6h0M452.2 397.6h0M420.1 381.6h0M427.6 387.3h0M465.1 402.2h0M461.7 396.6h0M461.1 365.0h0M451.0 394.9h0M458.4 397.1h0M461.5 394.4h0M452.2 382.8h0M447.3 393.8h0M445.0 395.7h0M442.4 395.3h0M435.8 394.2h0M458.2 387.5h0M470.7 383.8h0M464.0 371.1h0M452.1 414.5h0M473.0 398.7h0M423.6 385.5h0M464.1 390.9h0M426.8 386.8h0M452.7 403.4h0M450.1 394.9h0M462.7 366.7h0M465.7 394.2h0M456.3 389.5h0M465.7 400.8h0M440.0 393.6h0M463.2 369.8h0M474.6 398.3h0M433.4 389.9h0M461.4 395.4h0M429.7 386.9h0M461.2 388.7h0M457.8 397.4h0M469.7 381.8h0M454.3 377.8h0M460.7 376.0h0M436.4 387.4h0M467.3 400.7h0M462.1 362.2h0M467.7 403.5h0M466.1 404.6h0M465.8 390.0h0M458.5 388.9h0M438.3 394.0h0M437.9 390.2h0M449.3 401.7h0M465.2 393.0h0M459.6 404.6h0M453.4 380.0h0M420.5 380.3h0M455.4 382.2h0M454.0 404.8h0M455.2 405.9h0M447.8 387.8h0M460.5 390.6h0M416.4 379.5h0M432.4 389.1h0M459.2 388.0h0M465.4 365.5h0M442.7 395.6h0M465.7 382.2h0M413.7 377.5h0M467.0 361.3h0M463.3 366.5h0M459.5 388.9h0M430.0 388.5h0M477.2 381.3h0M464.4 402.2h0M459.9 395.4h0M461.1 388.1h0M443.0 391.8h0M466.2 405.2h0M422.3 382.9h0M447.3 396.6h0M445.2 393.0h0M463.4 388.3h0M456.4 402.0h0M465.7 403.7h0M458.9 389.0h0M446.9 393.1h0M421.7 384.2h0M474.7 400.7h0M458.5 401.0h0M458.9 388.3h0M432.5 389.4h0M446.6 393.4h0M476.4 395.3h0M434.1 387.9h0M434.2 389.0h0M455.0 380.2h0M462.5 398.1h0M446.0 406.0h0M463.5 399.8h0M453.6 403.8h0M434.0 391.3h0M474.8 378.0h0M468.7 405.8h0M421.4 383.5h0M454.4 377.7h0M458.7 390.7h0M467.1 366.4h0M419.2 382.0h0M459.8 388.1h0M473.5 378.0h0M459.9 414.4h0M446.2 406.0h0M466.2 363.8h0M473.7 384.1h0M428.1 387.9h0M467.3 399.3h0M463.0 408.8h0M450.5 394.2h0M433.8 391.4h0M470.8 371.3h0M416.8 379.7h0M430.5 389.1h0M463.1 381.6h0M474.4 395.0h0M463.7 393.9h0M459.8 392.3h0M460.4 394.3h0M463.3 382.1h0M437.5 389.5h0M420.8 382.4h0M429.5 388.8h0M426.6 386.1h0M463.8 402.6h0M425.2 387.0h0M460.9 379.6h0M468.6 372.6h0M459.2 408.3h0M471.0 398.3h0M448.9 415.6h0M462.7 410.2h0M460.8 374.5h0M458.4 377.6h0M415.7 378.0h0M439.9 390.4h0M465.7 376.2h0M465.6 382.3h0M466.0 369.9h0M422.2 384.9h0M468.0 371.8h0M446.2 401.4h0M447.0 391.6h0M453.7 393.2h0M441.4 397.0h0M463.8 386.2h0M442.5 398.6h0M464.2 370.5h0M437.7 394.4h0M468.7 388.8h0M463.4 388.2h0M448.5 392.3h0M463.2 392.4h0M467.0 374.7h0M462.0 390.2h0M446.6 396.7h0M449.6 402.9h0M468.2 362.0h0M478.5 391.3h0M464.3 405.9h0M452.8 411.1h0M460.7 397.8h0M460.9 377.4h0M477.5 382.4h0M465.3 396.1h0M446.3 395.7h0M440.1 391.3h0M432.9 392.4h0M462.8 393.8h0M464.2 384.0h0M421.3 384.1h0M430.3 387.3h0M460.4 411.3h0M463.5 387.8h0M477.0 393.4h0M450.7 407.3h0M465.3 395.6h0M458.0 392.9h0M438.8 391.7h0M450.4 404.0h0M461.0 389.5h0M447.6 413.1h0M465.4 400.0h0M477.9 389.9h0M437.9 390.7h0M467.3 360.0h0M438.0 388.5h0M467.3 397.8h0M464.2 361.0h0M454.3 400.0h0M454.4 415.5h0M456.4 386.9h0M464.1 372.0h0M452.1 409.2h0M432.6 389.0h0M479.0 380.0h0M454.1 394.2h0M458.6 399.1h0M429.2 387.5h0M457.8 408.4h0M427.6 386.3h0M458.9 372.7h0M423.9 383.9h0M453.0 401.4h0M464.9 406.6h0M417.9 379.4h0M466.4 359.8h0M429.3 390.9h0M458.9 374.0h0M452.7 407.2h0M464.3 391.5h0M452.7 410.7h0M450.2 396.1h0M460.7 411.7h0M461.0 372.3h0M465.5 393.3h0M439.8 393.9h0M437.9 392.0h0M446.0 399.6h0M452.5 408.8h0M465.6 362.8h0M457.3 394.8h0M473.9 379.4h0M463.6 405.9h0M459.0 384.9h0M464.1 391.8h0M469.7 380.9h0M472.9 391.0h0M453.9 394.9h0M479.0 387.0h0M462.9 378.3h0M429.0 388.5h0M432.2 387.6h0M444.6 392.4h0M437.2 394.8h0M465.5 384.9h0M459.3 378.4h0M467.8 393.0h0M449.2 405.2h0M448.5 394.6h0M464.1 383.5h0M462.9 390.4h0M466.9 370.4h0M459.4 394.2h0M456.1 396.0h0M427.6 386.5h0M417.1 378.9h0M464.6 371.4h0M470.1 377.8h0M459.6 374.0h0M445.2 392.0h0M466.2 365.2h0M460.8 387.4h0M443.5 398.2h0M458.7 396.7h0M417.5 380.3h0M437.0 394.3h0M476.0 377.8h0M443.6 390.9h0M438.2 391.8h0M468.1 393.9h0M478.7 387.5h0M455.9 397.9h0M466.2 377.1h0M446.5 395.0h0M477.4 388.7h0M426.8 387.6h0M452.1 412.1h0M456.6 401.5h0M440.2 392.2h0M468.4 367.1h0M464.4 374.8h0M452.0 394.3h0M470.1 402.1h0M457.6 382.3h0M428.0 385.0h0M438.3 386.9h0M415.8 379.3h0M436.0 390.1h0M441.1 391.3h0M457.7 380.0h0M451.4 390.4h0M474.8 376.4h0M458.9 398.6h0M473.9 386.0h0M415.8 377.4h0M456.1 393.7h0M444.3 391.1h0M462.6 388.3h0M477.4 387.5h0M454.6 403.3h0M425.2 385.1h0M454.3 404.8h0M454.3 406.0h0M476.6 376.0h0M447.2 396.9h0M459.5 404.8h0M443.7 397.9h0M474.0 383.6h0M477.9 395.3h0M465.9 404.1h0M464.7 381.0h0M446.4 393.7h0M444.7 391.2h0M445.6 400.4h0M463.8 410.2h0M449.7 395.4h0M469.2 399.2h0M448.4 397.7h0M432.3 391.4h0M462.5 401.2h0M476.4 388.0h0M422.8 384.6h0M460.1 379.0h0M460.8 403.3h0M450.2 403.8h0M471.4 398.0h0M457.6 376.9h0M423.2 384.0h0M422.0 382.6h0M469.0 396.3h0M452.4 396.4h0M463.1 404.4h0M444.7 401.5h0M462.8 393.4h0M453.2 415.0h0M455.9 411.0h0M458.3 400.8h0M452.8 396.4h0M455.7 406.1h0M440.8 392.9h0M432.1 389.9h0M436.9 391.0h0M419.0 380.7h0M444.8 403.8h0M460.1 388.3h0M464.0 373.8h0M420.9 383.2h0M473.2 400.9h0M460.2 388.6h0M464.6 384.2h0M441.3 401.7h0M460.9 374.8h0M461.7 408.9h0M455.2 414.1h0M436.5 392.1h0M425.1 385.3h0M445.3 392.7h0M459.3 374.3h0M443.6 395.4h0M469.5 387.0h0M459.2 403.8h0M462.9 405.7h0M461.0 389.9h0M439.2 391.2h0M460.2 389.1h0M447.5 388.9h0M485.2 387.1h0M445.5 392.0h0M421.4 384.4h0M465.6 395.2h0M463.6 393.0h0M457.8 397.8h0M462.9 409.0h0M465.4 364.8h0M463.3 409.6h0M425.3 386.3h0M430.4 390.1h0M452.5 416.3h0M466.7 362.9h0M462.8 387.1h0M470.1 402.3h0M466.7 362.0h0M472.0 395.4h0M482.8 392.9h0M445.6 395.7h0M446.3 391.3h0M473.3 389.4h0M458.8 406.7h0M447.4 392.3h0M430.8 387.0h0M418.6 381.1h0M474.4 392.0h0M474.7 387.1h0M455.4 390.3h0M455.3 418.8h0M441.7 392.7h0M443.8 390.4h0M432.6 392.1h0M458.1 412.8h0M460.9 396.0h0M419.1 382.6h0M457.7 398.6h0M428.9 387.7h0M462.3 398.4h0M448.8 393.4h0M436.6 390.2h0M466.0 403.6h0M454.3 396.7h0M468.2 401.7h0M454.4 399.5h0M446.7 388.6h0M445.5 393.2h0M448.3 396.0h0M444.2 395.8h0M461.7 369.7h0M459.1 382.1h0M446.2 389.7h0M446.8 390.3h0M447.5 398.5h0M456.7 380.4h0M457.2 407.9h0M455.5 399.6h0M435.3 389.3h0M467.9 408.1h0M421.4 382.4h0M466.5 390.2h0M451.0 406.1h0M424.7 384.0h0M446.5 390.6h0M465.4 381.3h0M449.2 408.5h0M455.3 413.6h0M450.8 401.0h0M420.6 382.4h0M464.1 374.3h0M465.9 383.3h0M473.9 384.1h0M465.8 376.8h0M459.2 405.7h0M443.1 395.5h0M477.7 383.0h0M461.5 411.4h0M457.2 384.1h0M437.6 389.5h0M449.2 392.8h0M462.9 403.1h0M464.2 393.8h0M460.1 401.2h0M464.8 397.9h0M456.7 385.8h0M464.4 373.6h0M464.4 359.6h0M459.0 392.2h0M449.6 382.2h0M447.4 392.4h0M473.2 396.4h0M469.5 379.4h0M483.0 387.7h0M459.5 389.6h0M430.4 389.7h0M471.2 371.0h0M465.4 404.9h0M460.3 398.4h0M472.4 370.9h0M418.7 380.8h0M456.3 401.3h0M433.3 388.5h0M464.9 405.0h0M447.2 390.6h0M454.3 411.3h0M444.7 390.9h0M463.0 396.9h0M436.4 395.0h0M432.5 391.6h0M464.9 400.7h0M464.3 372.7h0M456.0 384.1h0M464.7 388.7h0M440.6 391.4h0M458.0 375.4h0M453.5 404.8h0M484.0 390.5h0M477.6 396.4h0M474.3 375.7h0M465.4 408.3h0M455.4 389.3h0M450.4 408.0h0M463.2 385.8h0M447.7 390.5h0M477.5 380.1h0M450.4 405.6h0M435.3 390.4h0M446.2 402.2h0M460.1 409.1h0M473.1 380.2h0M457.2 400.7h0M475.8 391.6h0M450.1 394.6h0M460.6 404.3h0M462.4 393.5h0M468.6 404.4h0M452.2 401.6h0M456.9 393.5h0M461.3 395.1h0M464.5 396.3h0M466.7 377.6h0M435.1 390.8h0M456.4 399.3h0M435.1 389.5h0M447.0 402.6h0M466.4 383.0h0M459.0 394.2h0M454.9 401.3h0M466.8 384.3h0M433.1 390.0h0M445.3 392.8h0M472.1 394.4h0M449.9 407.5h0M435.7 390.4h0M444.1 388.7h0M433.0 393.7h0M458.9 395.2h0M417.7 380.8h0M463.9 393.4h0M429.8 388.2h0M454.4 415.1h0M460.1 409.6h0M424.4 384.4h0M461.1 388.3h0M462.1 373.6h0M440.8 398.2h0M461.1 390.2h0M459.6 385.2h0M466.2 407.7h0M417.3 380.4h0M439.0 395.2h0M467.8 367.5h0M424.5 387.7h0M446.9 392.2h0M463.5 376.4h0M461.2 396.2h0M454.3 393.4h0M457.6 417.6h0M457.6 414.2h0M448.3 403.7h0M415.6 378.7h0M422.5 383.9h0M449.4 395.4h0M438.5 390.4h0M418.2 379.7h0M459.0 398.4h0M480.6 388.7h0M469.6 397.9h0M441.6 392.6h0M468.3 405.6h0M428.4 389.5h0M446.4 390.9h0M458.1 398.4h0M460.6 386.2h0M430.4 391.9h0M474.5 385.5h0M436.8 389.5h0M421.8 382.1h0M435.7 392.6h0M464.4 398.5h0M459.3 388.2h0M460.8 380.0h0M472.6 386.5h0M459.0 380.3h0M473.0 379.9h0M450.4 409.7h0M465.4 381.3h0M450.2 411.7h0M455.9 398.6h0M429.3 390.1h0M456.5 413.0h0M477.1 378.7h0M432.7 389.4h0M463.5 409.4h0M470.3 404.8h0M455.7 402.8h0M429.3 389.6h0M436.3 391.0h0M460.1 382.2h0M476.5 382.5h0M451.5 392.3h0M459.4 396.3h0M442.6 395.2h0M429.4 387.1h0M455.6 404.6h0M433.8 391.3h0M451.3 409.8h0M420.9 383.3h0M441.4 394.1h0M461.8 366.8h0M484.2 390.6h0M460.4 396.7h0M437.6 390.4h0M464.1 397.3h0M469.3 373.5h0M456.8 381.4h0M458.1 412.0h0M452.0 411.0h0M479.3 382.6h0M460.6 365.2h0M442.3 391.3h0M467.4 358.8h0M455.5 402.7h0M463.0 395.8h0M426.2 387.7h0M466.2 392.9h0M433.6 390.7h0M463.6 403.1h0M460.0 370.9h0M447.9 393.5h0M464.9 381.0h0M443.9 398.4h0M453.6 383.7h0M464.4 398.9h0M433.6 392.8h0M458.4 393.2h0M461.6 383.7h0M465.2 398.5h0M446.5 392.1h0M450.3 409.9h0M466.1 397.9h0M457.7 401.8h0M461.1 409.4h0M452.5 401.3h0M455.3 407.1h0M461.9 376.3h0M442.9 391.7h0M461.0 397.3h0M463.2 389.0h0M451.5 417.0h0M466.2 387.2h0M419.3 381.9h0M447.8 399.9h0M457.3 378.9h0M460.2 409.8h0M455.3 396.4h0M466.1 369.7h0M459.4 370.5h0M461.4 385.5h0M470.8 389.9h0M447.4 396.3h0M428.1 386.6h0M452.2 389.7h0M446.5 389.5h0M471.4 387.3h0M460.1 380.1h0M459.7 396.7h0M474.7 397.7h0M445.9 390.7h0M449.1 396.3h0M452.3 381.3h0M466.6 399.2h0M470.4 384.6h0M459.1 375.3h0M458.2 409.7h0M476.1 393.9h0M422.9 384.0h0M463.3 363.8h0M460.1 382.6h0M458.5 408.3h0M462.2 372.6h0M422.4 383.9h0M422.1 382.1h0M456.6 386.2h0M421.5 382.7h0M481.7 392.1h0M454.6 400.8h0M466.3 374.4h0M469.3 403.3h0M447.8 387.8h0M451.7 388.4h0M457.5 387.8h0M452.9 399.9h0M440.8 390.9h0M457.9 399.8h0M461.6 378.6h0M420.9 382.5h0M434.7 391.0h0M429.2 388.7h0M466.3 404.2h0M448.6 387.5h0M443.4 397.2h0M457.6 409.9h0M457.5 390.6h0M462.9 393.0h0M425.3 384.0h0M450.1 400.6h0M462.9 402.2h0M465.0 364.6h0M452.5 400.3h0M461.6 405.6h0M440.0 400.3h0M455.9 381.9h0M461.0 375.0h0M441.2 391.3h0M473.0 380.0h0M464.0 375.3h0M431.5 388.2h0M471.9 394.6h0M449.5 394.9h0M466.2 357.1h0M459.0 409.1h0M469.0 364.8h0M478.5 381.1h0M461.9 386.0h0M438.9 394.2h0M457.7 402.7h0M464.6 370.3h0M448.9 396.7h0M430.9 388.3h0M463.3 391.7h0M447.6 398.6h0M455.3 412.8h0M476.8 385.7h0M461.3 374.5h0M432.6 390.8h0M461.1 379.4h0M448.0 391.8h0M467.5 374.1h0M452.2 393.9h0M453.6 381.2h0M473.7 397.8h0M457.0 383.3h0M456.2 378.8h0M466.4 400.1h0M458.3 385.2h0M467.0 379.0h0M442.4 395.2h0M462.8 392.8h0M449.2 403.4h0M459.6 389.2h0M462.0 402.1h0M472.5 389.8h0M446.0 395.3h0M470.7 392.5h0M472.2 393.8h0M455.0 382.3h0M458.3 404.9h0M476.8 398.7h0M450.3 385.7h0M438.4 391.9h0M449.3 401.0h0M441.9 393.2h0M454.4 398.7h0M455.9 395.2h0M458.0 408.0h0M463.7 400.8h0M460.5 370.5h0M447.7 399.7h0M458.3 397.2h0M460.7 375.2h0M448.2 399.8h0M420.3 381.9h0M459.8 377.1h0M442.2 390.7h0M413.7 376.1h0M464.7 380.4h0M465.4 364.0h0M471.3 399.6h0M461.8 397.2h0M459.1 399.1h0M460.0 371.2h0M422.5 383.9h0M450.2 388.5h0M442.6 393.1h0M462.1 387.3h0M457.3 411.6h0M455.9 376.8h0M445.3 407.6h0M437.4 391.6h0M447.6 402.4h0M413.3 377.2h0M469.4 398.1h0M426.8 385.7h0M420.2 384.5h0M445.0 391.7h0M458.5 403.4h0M456.5 415.4h0M429.7 386.3h0M455.6 399.8h0M473.7 385.3h0M482.3 390.1h0M461.1 384.8h0M464.5 379.7h0M452.1 397.5h0M477.3 381.4h0M426.2 385.5h0M419.7 381.4h0M473.1 378.8h0M456.8 399.7h0M461.5 410.6h0M451.0 407.2h0M472.5 396.3h0M439.2 394.4h0M461.7 383.1h0M466.0 362.6h0M454.4 380.4h0M450.2 411.4h0M436.0 393.2h0M449.9 414.5h0M446.5 406.6h0M462.1 364.4h0M464.4 388.3h0M456.2 405.6h0M453.2 405.8h0M467.9 372.2h0M433.7 391.9h0M414.5 377.7h0M453.8 417.4h0M481.9 387.5h0M457.4 386.1h0M462.1 405.0h0M452.5 412.2h0M451.4 412.5h0M447.7 397.3h0M471.2 403.4h0M450.4 389.6h0M469.1 369.6h0M427.4 385.8h0M476.4 394.3h0M451.5 406.0h0M418.4 381.0h0M472.9 394.6h0M459.3 412.7h0M456.9 401.9h0M453.3 398.4h0M472.9 398.5h0M433.5 389.4h0M449.4 410.9h0M461.7 375.1h0M438.6 395.1h0M448.0 391.5h0M470.3 397.8h0M461.9 382.3h0M462.5 378.9h0M465.1 370.4h0M459.2 373.4h0M459.0 405.8h0M470.0 388.3h0M417.1 379.4h0M424.4 383.6h0M454.3 413.9h0M474.6 387.0h0M464.5 363.8h0M459.5 410.6h0M470.3 383.1h0M428.5 389.4h0M458.5 375.0h0M464.8 401.9h0M460.3 406.5h0M456.9 399.8h0M451.8 413.6h0M475.9 384.3h0M462.1 403.5h0M475.9 390.0h0M464.9 387.6h0M444.8 391.9h0M457.3 374.3h0M459.2 395.8h0M453.2 420.7h0M471.3 369.0h0M455.2 413.9h0M445.1 407.2h0M416.8 378.5h0M482.8 386.9h0M451.5 397.0h0M464.3 407.0h0M467.1 375.1h0M449.3 403.8h0M440.7 390.6h0M418.8 380.2h0M418.7 380.4h0M467.1 387.4h0M416.2 380.0h0M434.8 388.7h0M461.7 368.7h0M459.2 403.3h0M462.2 380.3h0M477.1 383.7h0M428.6 391.1h0M448.5 388.0h0M472.1 394.8h0M452.6 398.4h0M476.2 385.0h0M481.2 388.2h0M449.2 399.1h0M429.6 388.4h0M460.2 374.7h0M457.7 397.8h0M460.5 411.1h0M467.1 401.4h0M468.7 403.8h0M446.6 405.2h0M447.6 389.9h0M475.7 398.0h0M477.5 394.7h0M459.8 384.0h0M430.6 389.4h0M450.4 399.1h0M449.6 396.0h0M435.9 390.7h0M461.2 390.1h0M452.1 385.7h0M446.3 391.6h0M456.9 407.9h0M464.1 397.2h0M463.3 375.0h0M474.5 382.5h0M456.9 392.1h0M477.6 387.5h0M437.6 389.9h0M453.0 419.2h0M448.2 397.0h0M468.5 394.1h0M459.6 380.4h0M459.0 383.2h0M435.6 390.7h0M448.1 398.7h0M435.2 393.5h0M458.4 407.8h0M465.4 397.1h0" stroke="#c2bfbf" stroke-width="1.35" stroke-linecap="round" fill="none"/>
<path d="M458.8 399.3h0M444.2 393.2h0M459.0 395.5h0M447.5 387.7h0M444.0 391.6h0M464.5 382.7h0M454.2 388.4h0M467.1 400.9h0M467.5 391.3h0M462.6 406.4h0M467.2 382.5h0M455.8 410.0h0M479.4 385.0h0M451.3 394.8h0M452.2 388.8h0M448.1 406.3h0M438.8 392.1h0M465.3 380.6h0M453.7 399.5h0M452.7 411.8h0M466.9 375.2h0" stroke="#d07a72" stroke-width="1.35" stroke-linecap="round" fill="none"/>
<path d="M447.8 391.7h0M465.4 366.5h0M446.3 393.9h0M458.5 416.5h0M476.0 397.4h0M458.6 405.8h0M467.0 402.8h0M452.3 404.2h0M452.2 413.1h0M464.0 389.6h0M475.3 389.9h0M464.0 404.1h0M460.2 384.5h0M450.3 409.1h0M479.4 383.8h0M445.8 393.4h0M459.9 411.8h0M446.3 395.8h0M459.2 372.8h0M430.5 389.5h0M463.4 388.8h0M466.5 395.7h0M459.1 412.0h0M454.9 394.0h0M458.5 396.7h0M447.7 401.2h0M464.4 405.1h0M472.8 377.3h0M466.2 364.7h0M462.5 383.5h0" stroke="#c4504a" stroke-width="1.35" stroke-linecap="round" fill="none"/>
<path d="M446.1 401.9h0M459.0 412.7h0M444.5 402.3h0M464.7 359.6h0M465.9 365.2h0M464.3 386.2h0M461.1 407.8h0M467.8 405.4h0M419.7 380.7h0M448.8 400.8h0M474.6 388.9h0M472.4 394.1h0M474.1 379.2h0M448.5 408.8h0M461.6 363.0h0M477.0 378.2h0M460.4 401.8h0M464.9 383.9h0M460.2 411.7h0M478.9 380.7h0M457.7 405.5h0M461.2 410.5h0M466.3 382.8h0M458.2 385.8h0M463.9 359.4h0M472.3 375.8h0M446.3 389.1h0M461.9 371.3h0M450.0 404.6h0M466.7 367.7h0M438.9 391.3h0M438.0 390.3h0M471.5 403.1h0M453.2 410.0h0" stroke="#b43c36" stroke-width="1.35" stroke-linecap="round" fill="none"/>
<path d="M466.0 400.3h0M430.4 392.7h0M455.3 409.4h0M486.6 385.5h0M460.0 372.8h0M464.5 389.1h0M428.5 384.9h0M464.0 381.8h0M461.6 365.0h0M462.3 380.5h0M452.6 398.4h0M466.0 394.7h0M471.8 385.7h0M456.4 404.4h0M460.0 375.9h0M454.5 393.5h0M451.6 396.9h0M444.8 395.8h0M449.8 411.7h0M463.7 378.9h0M459.5 416.0h0M454.2 402.9h0M463.0 390.4h0M474.4 395.0h0M465.5 373.4h0M451.1 410.8h0M450.8 414.8h0M463.5 362.7h0" stroke="#d89890" stroke-width="1.35" stroke-linecap="round" fill="none"/>
<path d="M458.8 405.3h0M468.2 399.5h0M461.8 396.1h0M423.3 383.8h0M443.9 397.0h0M469.4 404.0h0M460.1 410.7h0M460.1 411.2h0M467.1 358.3h0M460.8 401.6h0M460.0 395.0h0M462.8 367.4h0M462.7 377.3h0M446.5 399.0h0M451.9 386.1h0M466.3 361.2h0M451.8 415.6h0M458.3 402.7h0M432.5 391.7h0M455.7 402.3h0M475.8 401.1h0M416.6 380.5h0M421.4 382.4h0M470.6 363.7h0M463.4 381.4h0M466.4 373.2h0M455.5 400.7h0M474.0 397.7h0M468.1 373.4h0M432.4 389.9h0M444.2 390.0h0M460.0 409.1h0" stroke="#a83230" stroke-width="1.35" stroke-linecap="round" fill="none"/>
<rect x="498.20" y="344.20" width="5.00" height="105.50" fill="url(#cm)" stroke="#3a3a3a" stroke-width="0.8"/>
<line x1="503.20" y1="357.60" x2="506.20" y2="357.60" stroke="#333" stroke-width="0.9"/>
<text x="508.90" y="359.95" font-size="6.6" fill="#333">8</text>
<line x1="503.20" y1="381.00" x2="506.20" y2="381.00" stroke="#333" stroke-width="0.9"/>
<text x="508.90" y="383.35" font-size="6.6" fill="#333">6</text>
<line x1="503.20" y1="404.00" x2="506.20" y2="404.00" stroke="#333" stroke-width="0.9"/>
<text x="508.90" y="406.35" font-size="6.6" fill="#333">4</text>
<line x1="503.20" y1="426.80" x2="506.20" y2="426.80" stroke="#333" stroke-width="0.9"/>
<text x="508.90" y="429.15" font-size="6.6" fill="#333">2</text>
<line x1="503.20" y1="449.50" x2="506.20" y2="449.50" stroke="#333" stroke-width="0.9"/>
<text x="508.90" y="451.85" font-size="6.6" fill="#333">0</text>
<rect x="0" y="0" width="520" height="1" fill="#000"/>
<rect x="0" y="460" width="520" height="1" fill="#000"/>
<rect x="0" y="0" width="1" height="461" fill="#4a4a4a"/>
<rect x="1" y="0" width="1" height="461" fill="#a8a8a8"/>
<rect x="519" y="0" width="1" height="461" fill="#4a4a4a"/>
<rect x="518" y="0" width="1" height="461" fill="#a0a0a0"/></svg></body></html>
